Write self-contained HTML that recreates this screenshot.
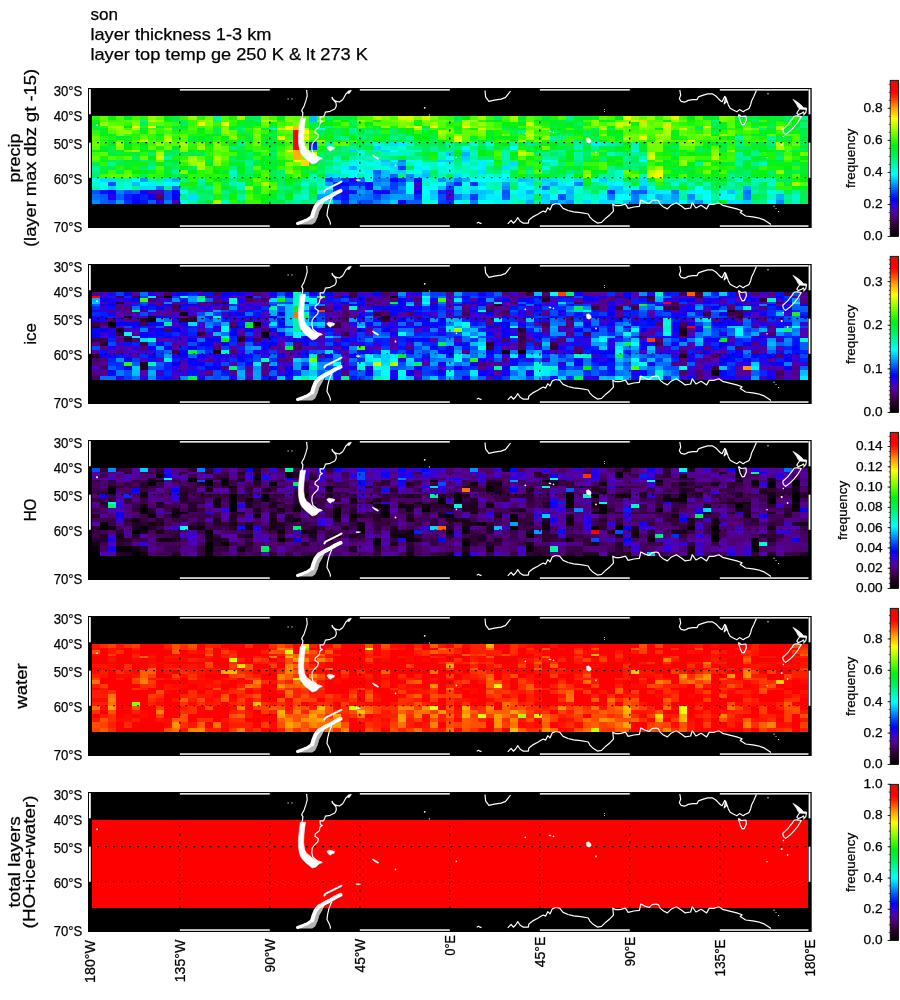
<!DOCTYPE html><html><head><meta charset="utf-8"><style>html,body{margin:0;padding:0;background:#fff;}body{width:900px;height:1000px;overflow:hidden;}svg{display:block;will-change:transform}text{font-family:"Liberation Sans",sans-serif;fill:#000;stroke:#000;stroke-width:0.25px}</style></head><body>
<svg width="900" height="1000" viewBox="0 0 900 1000">
<defs><linearGradient id="cg" x1="0" y1="1" x2="0" y2="0">
<stop offset="0.000" stop-color="#000000"/>
<stop offset="0.040" stop-color="#190019"/>
<stop offset="0.080" stop-color="#370041"/>
<stop offset="0.120" stop-color="#500073"/>
<stop offset="0.160" stop-color="#5500aa"/>
<stop offset="0.200" stop-color="#2d00e6"/>
<stop offset="0.235" stop-color="#0000ff"/>
<stop offset="0.270" stop-color="#002dff"/>
<stop offset="0.310" stop-color="#006eff"/>
<stop offset="0.360" stop-color="#00beff"/>
<stop offset="0.400" stop-color="#00ffff"/>
<stop offset="0.470" stop-color="#00f5a0"/>
<stop offset="0.520" stop-color="#00f05a"/>
<stop offset="0.580" stop-color="#00f014"/>
<stop offset="0.640" stop-color="#50ff00"/>
<stop offset="0.690" stop-color="#a0ff00"/>
<stop offset="0.755" stop-color="#ffff00"/>
<stop offset="0.790" stop-color="#ffcd00"/>
<stop offset="0.830" stop-color="#ff9600"/>
<stop offset="0.860" stop-color="#ff5f00"/>
<stop offset="0.900" stop-color="#ff1e00"/>
<stop offset="0.930" stop-color="#ff0000"/>
<stop offset="1.000" stop-color="#ff0000"/>
</linearGradient>
<g id="coast"><path fill="none" stroke="#fff" stroke-width="1.2" stroke-linejoin="round" d="M306.6 2.0 L307.2 7.8 L306.0 12.4 L304.1 17.9 L301.7 22.6 L302.9 24.9 L302.5 28.4 L301.5 31.0M349.5 2.5 L345.7 6.2 L344.1 9.3 L342.6 11.7 L339.4 14.0 L335.6 13.2 L332.4 10.9 L332.1 9.3 L333.2 11.7 L336.0 14.8 L336.3 17.9 L334.8 21.0 L330.1 23.3 L325.4 24.1 L324.7 26.4 L323.5 28.8 L320.0 28.8 L320.4 32.7 L322.3 33.4 L320.0 35.0 L319.2 38.9 L315.3 42.0 L314.9 44.3 L318.4 46.7 L317.7 49.8 L314.6 52.9 L312.2 56.0 L311.8 60.7 L313.0 65.3 L317.7 69.2 L321.6 69.9M332.2 109.5 L331.2 110.8 L329.1 116.2 L327.7 121.8 L327.0 127.4 L329.1 131.6 L330.5 135.1 L330.2 136.6M485.0 2.5 L485.6 8.9 L488.9 13.3 L494.4 12.2 L501.1 11.1 L505.6 9.4 L510.6 3.0M476.7 135.2 L478.5 134.3 L480.0 135.2 L481.5 135.6M507.8 135.8 L511.1 132.4 L513.3 135.2 L515.6 133.0 L517.8 129.7 L520.0 133.0 L523.3 135.2 L528.3 135.2 L528.9 131.9 L533.3 128.6 L537.8 126.3 L540.5 124.6 L543.3 123.0 L545.6 124.1 L547.8 119.7 L550.0 121.9 L552.2 116.9 L555.6 115.5 L559.6 116.2 L563.1 120.4 L568.0 122.5 L573.6 123.9 L580.6 124.6 L588.3 126.0 L589.7 128.8 L593.2 132.3 L597.4 135.1 L601.6 134.4 L605.8 130.2 L610.0 126.7 L613.5 123.2 L612.8 116.2 L615.6 117.6 L619.8 117.6 L625.4 116.2 L628.2 120.4 L633.8 119.0 L639.4 118.3 L640.8 112.0 L645.0 114.1 L649.2 115.5 L652.0 112.7 L656.2 112.0 L658.6 112.9 L660.3 116.4 L663.5 119.0 L667.4 120.9 L671.0 117.3 L676.3 114.7 L681.7 118.2 L685.2 120.9 L690.6 120.0 L692.3 114.7 L695.9 120.0 L701.2 117.3 L706.6 120.9 L709.2 116.4 L713.7 116.4 L719.0 114.7 L722.6 117.3 L729.7 119.1 L736.8 120.9 L742.1 122.7 L740.3 124.4 L745.7 128.0 L752.8 128.9 L758.1 129.8 L763.4 131.6 L768.8 135.1 L771.0 136.5M679.8 2.0 L680.7 7.1 L679.3 10.7 L681.1 13.3 L684.7 14.2 L688.2 12.4 L692.7 11.6 L697.1 11.6 L698.4 8.9 L703.3 7.1 L707.8 5.8 L712.2 5.8 L715.8 8.0 L718.4 10.7 L721.1 13.3 L722.1 13.7 L724.7 8.4 L725.5 10.0 L724.2 15.8 L726.5 13.5 L725.6 9.0 L728.4 16.9 L730.0 20.1 L733.7 22.2 L736.9 23.7 L739.5 21.6 L743.2 23.7 L745.3 22.2 L749.0 20.6 L750.6 16.9 L751.7 12.7 L753.8 8.4 L756.4 2.5M738.5 26.4 L741.1 28.5 L745.9 28.0 L746.4 31.7 L744.3 36.4 L742.2 36.9 L740.1 32.7 L739.0 28.5 L738.5 26.4M800.0 20.5 L798.1 23.0 L796.8 25.2 L798.1 26.6 L801.7 25.2 L803.4 23.9 L804.3 26.1 L803.4 27.4M806.5 21.0 L805.7 24.8 L804.3 26.1M794.4 28.0 L797.5 27.8 L801.3 28.5 L798.1 33.8 L793.9 39.1 L789.7 43.3 L785.4 46.4 L783.3 44.3 L782.8 41.2 L787.6 36.9 L791.8 31.7 L794.4 28.0"/><path fill="#fff" stroke="#fff" stroke-width="0.5" d="M300.2 30.5 L299.2 38.9 L298.4 46.7 L298.4 54.4 L299.3 60.7 L300.8 65.0 L302.9 67.7 L305.5 70.5 L308.3 72.8 L312.2 76.0 L316.1 74.9 L319.2 71.8 L322.5 70.6 L319.5 69.4 L317.2 69.0 L314.6 67.7 L311.4 65.3 L309.6 63.2 L306.8 61.4 L304.6 57.5 L303.6 50.6 L304.0 42.8 L304.8 35.0 L305.7 30.3 ZM347.5 5.0 L350.5 2.0 L351.5 2.6 L349.0 5.8 ZM326.8 59.5 L328.5 58.2 L331.5 58.6 L334.8 59.4 L334.0 61.2 L331.5 62.0 L330.5 63.3 L328.0 61.6 ZM372.2 67.0 L373.5 67.2 L377.5 69.5 L378.8 70.8 L377.8 71.3 L374.0 69.3 ZM355.8 92.0 L358.0 91.6 L360.6 92.0 L358.0 92.9 ZM586.4 50.5 L588.5 49.7 L590.8 51.5 L591.2 53.8 L589.0 55.2 L586.8 54.2 ZM792.8 11.2 L796.0 13.0 L799.0 15.2 L801.8 17.6 L803.5 19.6 L806.8 20.0 L806.6 21.6 L803.0 21.6 L799.4 21.0 L797.8 19.0 L796.5 16.5 L794.6 13.8 Z"/><path fill="#fff" fill-opacity="0.7" d="M322.5 111.5 L317.8 116.2 L313.6 121.8 L311.2 128.8 L308.0 133.0 L301.0 135.1 L297.0 135.8 L300.0 136.6 L312.2 136.6 L315.2 134.4 L317.8 128.8 L319.4 123.2 L322.2 118.6 L324.8 113.0 Z"/><path fill="none" stroke="#fff" stroke-width="2.0" stroke-linecap="round" stroke-linejoin="round" d="M341.5 93.6 L338.2 95.4 L331.2 98.9 L325.6 101.7 L324.4 103.4"/><path fill="none" stroke="#fff" stroke-width="4.0" stroke-linecap="round" stroke-linejoin="round" d="M340.6 102.8 L335.4 105.2 L329.8 108.6 L324.2 111.4 L318.8 114.4 L315.6 118.4 L313.6 123.4 L312.2 128.4"/><path fill="none" stroke="#fff" stroke-width="3.2" stroke-linecap="round" stroke-linejoin="round" d="M312.2 128.4 L307.4 131.8 L301.8 133.9 L297.6 135.4"/><circle cx="288.1" cy="10.9" r="0.6" fill="#fff"/><circle cx="292.0" cy="10.9" r="0.6" fill="#fff"/><circle cx="395.5" cy="77.5" r="0.9" fill="#fff"/><circle cx="424.7" cy="19.8" r="0.9" fill="#fff"/><circle cx="429.4" cy="26.9" r="0.6" fill="#fff"/><circle cx="456.4" cy="69.4" r="0.8" fill="#fff"/><circle cx="525.3" cy="45.3" r="0.9" fill="#fff"/><circle cx="549.4" cy="43.3" r="0.8" fill="#fff"/><circle cx="550.5" cy="43.6" r="0.8" fill="#fff"/><circle cx="553.5" cy="44.4" r="0.8" fill="#fff"/><circle cx="596.0" cy="64.4" r="0.9" fill="#fff"/><circle cx="604.4" cy="21.5" r="0.5" fill="#fff"/><circle cx="604.4" cy="23.6" r="0.5" fill="#fff"/><circle cx="768.0" cy="5.8" r="0.7" fill="#fff"/><circle cx="781.7" cy="57.0" r="1.1" fill="#fff"/><circle cx="787.6" cy="63.0" r="0.9" fill="#fff"/><circle cx="767.0" cy="69.7" r="0.8" fill="#fff"/><circle cx="783.3" cy="48.6" r="0.8" fill="#fff"/><circle cx="97.0" cy="37.2" r="1.0" fill="#fff"/><circle cx="774.1" cy="118.2" r="0.6" fill="#fff"/><circle cx="776.0" cy="120.5" r="0.5" fill="#fff"/><circle cx="778.6" cy="123.6" r="0.7" fill="#fff"/></g>
</defs>
<text x="90.4" y="19.9" font-size="16.3" textLength="27.5" lengthAdjust="spacingAndGlyphs">son</text>
<text x="90.4" y="40.0" font-size="16.3" textLength="181" lengthAdjust="spacingAndGlyphs">layer thickness 1-3 km</text>
<text x="90.4" y="59.8" font-size="16.3" textLength="277.5" lengthAdjust="spacingAndGlyphs">layer top temp ge 250 K &amp; lt 273 K</text>
<g transform="translate(0,88)">
<rect x="88" y="0" width="723.70" height="140" fill="#000"/>
<g shape-rendering="crispEdges" transform="translate(92.00,0) scale(8.0416,1)">
<path fill="#28f80a" d="M0 28.0h1v4.1h-1zM6 28.0h1v4.1h-1zM13 28.0h1v4.1h-1zM48 32.0h1v2.1h-1zM51 32.0h1v2.1h-1zM75 32.0h1v2.1h-1zM17 34.0h1v4.1h-1zM45 34.0h1v4.1h-1zM55 34.0h1v4.1h-1zM73 34.0h1v4.1h-1zM86 34.0h1v4.1h-1zM1 38.0h1v2.1h-1zM6 38.0h1v2.1h-1zM20 38.0h1v2.1h-1zM26 38.0h1v2.1h-1zM31 38.0h1v2.1h-1zM34 38.0h1v2.1h-1zM56 38.0h1v2.1h-1zM19 40.0h1v2.1h-1zM43 40.0h1v2.1h-1zM79 40.0h1v2.1h-1zM8 42.0h1v4.1h-1zM11 42.0h1v4.1h-1zM36 42.0h1v4.1h-1zM51 42.0h1v4.1h-1zM75 42.0h1v4.1h-1zM78 42.0h1v4.1h-1zM80 42.0h1v4.1h-1zM82 42.0h1v4.1h-1zM53 46.0h1v2.1h-1zM81 46.0h1v2.1h-1zM1 48.0h1v4.1h-1zM5 48.0h1v4.1h-1zM10 48.0h1v4.1h-1zM15 48.0h1v4.1h-1zM55 48.0h1v4.1h-1zM60 48.0h1v4.1h-1zM63 48.0h1v4.1h-1zM82 48.0h1v4.1h-1zM1 52.0h1v2.1h-1zM31 52.0h1v2.1h-1zM44 52.0h1v2.1h-1zM47 52.0h1v2.1h-1zM58 52.0h1v2.1h-1zM75 52.0h1v2.1h-1zM81 52.0h1v2.1h-1zM1 54.0h1v4.1h-1zM5 54.0h1v4.1h-1zM16 54.0h1v4.1h-1zM19 54.0h1v4.1h-1zM79 54.0h1v4.1h-1zM81 54.0h1v4.1h-1zM86 54.0h1v4.1h-1zM12 58.0h1v4.1h-1zM19 58.0h1v4.1h-1zM23 58.0h1v4.1h-1zM87 58.0h1v4.1h-1zM63 62.0h1v2.1h-1zM74 62.0h1v2.1h-1zM86 62.0h1v2.1h-1zM6 64.0h1v4.1h-1zM14 64.0h1v4.1h-1zM83 64.0h1v4.1h-1zM11 68.0h1v4.1h-1zM55 68.0h1v4.1h-1zM71 68.0h1v4.1h-1zM78 68.0h1v4.1h-1zM87 68.0h1v4.1h-1zM54 72.0h1v2.1h-1zM77 72.0h1v2.1h-1zM1 74.0h1v4.1h-1zM11 74.0h1v4.1h-1zM16 74.0h1v4.1h-1zM59 74.0h1v4.1h-1zM3 78.0h1v4.1h-1zM27 78.0h1v4.1h-1zM55 78.0h1v4.1h-1zM76 78.0h1v4.1h-1zM79 78.0h1v4.1h-1zM13 82.0h1v4.1h-1zM67 82.0h1v4.1h-1zM5 86.0h1v4.1h-1zM8 86.0h1v4.1h-1zM12 86.0h2v4.1h-2zM15 86.0h1v4.1h-1zM12 90.0h1v4.1h-1zM14 90.0h1v4.1h-1zM21 90.0h1v4.1h-1zM70 94.0h1v4.1h-1zM85 98.0h2v4.1h-2zM19 102.0h1v4.1h-1zM17 112.0h1v4.1h-1z"/>
<path fill="#60ff00" d="M1 28.0h1v4.1h-1zM8 28.0h1v4.1h-1zM25 28.0h1v4.1h-1zM63 28.0h1v4.1h-1zM68 28.0h1v4.1h-1zM1 32.0h1v2.1h-1zM42 32.0h1v2.1h-1zM44 32.0h1v2.1h-1zM54 32.0h1v2.1h-1zM73 32.0h1v2.1h-1zM2 34.0h1v4.1h-1zM7 34.0h1v4.1h-1zM35 34.0h1v4.1h-1zM41 34.0h1v4.1h-1zM47 34.0h1v4.1h-1zM49 34.0h1v4.1h-1zM69 34.0h1v4.1h-1zM23 38.0h1v2.1h-1zM48 38.0h1v2.1h-1zM61 38.0h1v2.1h-1zM70 38.0h1v2.1h-1zM72 38.0h2v2.1h-2zM79 38.0h1v2.1h-1zM44 40.0h1v2.1h-1zM54 40.0h2v2.1h-2zM65 40.0h2v2.1h-2zM69 40.0h1v2.1h-1zM17 42.0h1v4.1h-1zM20 42.0h1v4.1h-1zM24 42.0h1v4.1h-1zM46 42.0h2v4.1h-2zM66 42.0h1v4.1h-1zM70 42.0h1v4.1h-1zM73 42.0h1v4.1h-1zM76 42.0h1v4.1h-1zM16 46.0h2v2.1h-2zM46 46.0h1v2.1h-1zM55 46.0h1v2.1h-1zM66 46.0h1v2.1h-1zM74 46.0h1v2.1h-1zM84 46.0h1v2.1h-1zM86 46.0h1v2.1h-1zM11 48.0h1v4.1h-1zM46 48.0h1v4.1h-1zM75 48.0h1v4.1h-1zM5 52.0h1v2.1h-1zM67 52.0h1v2.1h-1zM73 52.0h1v2.1h-1zM31 54.0h1v4.1h-1zM87 54.0h1v4.1h-1zM0 58.0h1v4.1h-1zM7 58.0h1v4.1h-1zM16 58.0h1v4.1h-1zM77 58.0h1v4.1h-1zM8 62.0h1v2.1h-1zM21 62.0h1v2.1h-1zM69 62.0h1v2.1h-1zM1 64.0h1v4.1h-1zM15 64.0h1v4.1h-1zM0 68.0h1v4.1h-1zM4 68.0h1v4.1h-1zM16 68.0h1v4.1h-1zM27 68.0h1v4.1h-1zM73 68.0h2v4.1h-2zM8 72.0h1v2.1h-1zM11 72.0h1v2.1h-1zM20 78.0h1v4.1h-1zM24 78.0h1v4.1h-1zM69 78.0h1v4.1h-1zM55 82.0h1v4.1h-1zM21 86.0h1v4.1h-1zM25 86.0h1v4.1h-1zM20 90.0h1v4.1h-1zM70 90.0h1v4.1h-1zM21 98.0h2v4.1h-2z"/>
<path fill="#0df211" d="M2 28.0h1v4.1h-1zM62 28.0h1v4.1h-1zM0 32.0h1v2.1h-1zM9 32.0h1v2.1h-1zM18 32.0h1v2.1h-1zM35 32.0h1v2.1h-1zM40 32.0h1v2.1h-1zM55 32.0h2v2.1h-2zM64 32.0h1v2.1h-1zM74 32.0h1v2.1h-1zM85 32.0h1v2.1h-1zM22 34.0h1v4.1h-1zM30 34.0h1v4.1h-1zM40 34.0h1v4.1h-1zM52 34.0h1v4.1h-1zM67 34.0h1v4.1h-1zM78 34.0h1v4.1h-1zM82 34.0h1v4.1h-1zM17 38.0h1v2.1h-1zM19 38.0h1v2.1h-1zM45 38.0h1v2.1h-1zM86 38.0h1v2.1h-1zM27 40.0h1v2.1h-1zM47 40.0h1v2.1h-1zM13 42.0h1v4.1h-1zM31 42.0h1v4.1h-1zM72 42.0h1v4.1h-1zM87 42.0h1v4.1h-1zM29 46.0h1v2.1h-1zM41 46.0h1v2.1h-1zM60 46.0h1v2.1h-1zM85 46.0h1v2.1h-1zM21 48.0h1v4.1h-1zM28 48.0h1v4.1h-1zM50 48.0h1v4.1h-1zM61 48.0h1v4.1h-1zM72 48.0h1v4.1h-1zM16 52.0h1v2.1h-1zM33 52.0h1v2.1h-1zM61 52.0h1v2.1h-1zM85 52.0h1v2.1h-1zM23 54.0h1v4.1h-1zM50 54.0h1v4.1h-1zM56 54.0h1v4.1h-1zM28 58.0h1v4.1h-1zM66 58.0h1v4.1h-1zM82 58.0h1v4.1h-1zM13 62.0h1v2.1h-1zM71 62.0h1v2.1h-1zM4 64.0h1v4.1h-1zM42 64.0h1v4.1h-1zM49 64.0h1v4.1h-1zM71 64.0h1v4.1h-1zM75 64.0h2v4.1h-2zM87 64.0h1v4.1h-1zM54 68.0h1v4.1h-1zM1 72.0h1v2.1h-1zM23 72.0h1v2.1h-1zM53 72.0h1v2.1h-1zM76 72.0h1v2.1h-1zM5 74.0h2v4.1h-2zM8 74.0h1v4.1h-1zM23 74.0h1v4.1h-1zM64 74.0h1v4.1h-1zM70 74.0h1v4.1h-1zM72 74.0h1v4.1h-1zM77 74.0h1v4.1h-1zM84 74.0h1v4.1h-1zM86 74.0h1v4.1h-1zM4 78.0h1v4.1h-1zM15 78.0h1v4.1h-1zM61 78.0h1v4.1h-1zM71 78.0h1v4.1h-1zM7 82.0h1v4.1h-1zM82 82.0h2v4.1h-2zM26 86.0h1v4.1h-1zM53 86.0h1v4.1h-1zM19 90.0h1v4.1h-1zM61 90.0h1v4.1h-1zM11 94.0h2v4.1h-2zM73 98.0h1v4.1h-1zM87 98.0h1v4.1h-1zM22 102.0h1v4.1h-1zM17 106.0h1v6.1h-1z"/>
<path fill="#50ff00" d="M3 28.0h1v4.1h-1zM16 28.0h1v4.1h-1zM34 28.0h1v4.1h-1zM37 28.0h1v4.1h-1zM47 28.0h1v4.1h-1zM54 28.0h1v4.1h-1zM58 28.0h1v4.1h-1zM75 28.0h1v4.1h-1zM4 32.0h1v2.1h-1zM34 32.0h1v2.1h-1zM36 32.0h1v2.1h-1zM65 32.0h1v2.1h-1zM69 32.0h2v2.1h-2zM79 32.0h1v2.1h-1zM3 34.0h1v4.1h-1zM8 34.0h1v4.1h-1zM24 34.0h1v4.1h-1zM31 34.0h1v4.1h-1zM36 34.0h2v4.1h-2zM43 34.0h1v4.1h-1zM76 34.0h1v4.1h-1zM79 34.0h1v4.1h-1zM14 38.0h1v2.1h-1zM21 38.0h1v2.1h-1zM43 38.0h1v2.1h-1zM49 38.0h1v2.1h-1zM62 38.0h1v2.1h-1zM66 38.0h1v2.1h-1zM74 38.0h1v2.1h-1zM81 38.0h1v2.1h-1zM83 38.0h1v2.1h-1zM12 40.0h1v2.1h-1zM14 40.0h1v2.1h-1zM50 40.0h1v2.1h-1zM72 40.0h1v2.1h-1zM2 42.0h1v4.1h-1zM23 42.0h1v4.1h-1zM27 42.0h1v4.1h-1zM68 42.0h2v4.1h-2zM11 46.0h1v2.1h-1zM47 46.0h1v2.1h-1zM87 46.0h1v2.1h-1zM27 48.0h1v4.1h-1zM74 48.0h1v4.1h-1zM77 48.0h1v4.1h-1zM81 48.0h1v4.1h-1zM87 48.0h1v4.1h-1zM0 52.0h1v2.1h-1zM3 52.0h1v2.1h-1zM7 52.0h1v2.1h-1zM10 52.0h2v2.1h-2zM46 52.0h1v2.1h-1zM71 52.0h2v2.1h-2zM9 54.0h2v4.1h-2zM30 54.0h1v4.1h-1zM75 54.0h1v4.1h-1zM73 58.0h2v4.1h-2zM86 58.0h1v4.1h-1zM15 62.0h1v2.1h-1zM23 64.0h1v4.1h-1zM50 64.0h1v4.1h-1zM62 64.0h1v4.1h-1zM2 68.0h1v4.1h-1zM13 68.0h1v4.1h-1zM53 68.0h1v4.1h-1zM63 74.0h1v4.1h-1zM8 78.0h1v4.1h-1zM63 78.0h1v4.1h-1zM4 82.0h1v4.1h-1zM2 86.0h2v4.1h-2zM73 86.0h1v4.1h-1zM87 86.0h1v4.1h-1zM88 94.0h1v4.1h-1zM15 98.0h1v4.1h-1zM15 102.0h1v4.1h-1zM21 102.0h1v4.1h-1zM19 106.0h1v6.1h-1z"/>
<path fill="#00f020" d="M4 28.0h1v4.1h-1zM23 28.0h1v4.1h-1zM53 28.0h1v4.1h-1zM61 28.0h1v4.1h-1zM77 28.0h1v4.1h-1zM83 28.0h1v4.1h-1zM57 32.0h1v2.1h-1zM71 32.0h1v2.1h-1zM0 34.0h1v4.1h-1zM20 34.0h1v4.1h-1zM28 34.0h1v4.1h-1zM51 34.0h1v4.1h-1zM57 34.0h1v4.1h-1zM80 34.0h1v4.1h-1zM83 34.0h1v4.1h-1zM41 38.0h1v2.1h-1zM58 38.0h1v2.1h-1zM1 40.0h1v2.1h-1zM13 40.0h1v2.1h-1zM29 40.0h1v2.1h-1zM39 40.0h1v2.1h-1zM45 40.0h1v2.1h-1zM70 40.0h1v2.1h-1zM6 42.0h1v4.1h-1zM42 42.0h1v4.1h-1zM58 42.0h1v4.1h-1zM84 42.0h1v4.1h-1zM1 46.0h1v2.1h-1zM8 46.0h1v2.1h-1zM18 46.0h1v2.1h-1zM40 46.0h1v2.1h-1zM72 46.0h1v2.1h-1zM16 48.0h1v4.1h-1zM29 48.0h1v4.1h-1zM36 48.0h1v4.1h-1zM51 48.0h2v4.1h-2zM79 48.0h1v4.1h-1zM2 52.0h1v2.1h-1zM4 52.0h1v2.1h-1zM19 52.0h1v2.1h-1zM41 52.0h1v2.1h-1zM48 52.0h1v2.1h-1zM63 52.0h1v2.1h-1zM86 52.0h1v2.1h-1zM22 54.0h1v4.1h-1zM68 54.0h1v4.1h-1zM76 54.0h2v4.1h-2zM1 58.0h1v4.1h-1zM6 58.0h1v4.1h-1zM10 58.0h1v4.1h-1zM55 58.0h1v4.1h-1zM65 58.0h1v4.1h-1zM1 62.0h1v2.1h-1zM6 62.0h1v2.1h-1zM12 62.0h1v2.1h-1zM19 62.0h1v2.1h-1zM54 62.0h1v2.1h-1zM59 62.0h1v2.1h-1zM68 62.0h1v2.1h-1zM73 62.0h1v2.1h-1zM81 62.0h1v2.1h-1zM59 64.0h1v4.1h-1zM18 68.0h1v4.1h-1zM21 68.0h1v4.1h-1zM52 68.0h1v4.1h-1zM64 68.0h2v4.1h-2zM72 68.0h1v4.1h-1zM82 68.0h1v4.1h-1zM9 72.0h1v2.1h-1zM58 72.0h1v2.1h-1zM62 72.0h1v2.1h-1zM71 72.0h1v2.1h-1zM87 72.0h1v2.1h-1zM14 74.0h1v4.1h-1zM17 74.0h1v4.1h-1zM21 74.0h2v4.1h-2zM27 74.0h1v4.1h-1zM65 74.0h1v4.1h-1zM74 74.0h1v4.1h-1zM85 74.0h1v4.1h-1zM88 74.0h1v4.1h-1zM21 78.0h1v4.1h-1zM26 78.0h1v4.1h-1zM16 82.0h1v4.1h-1zM18 82.0h1v4.1h-1zM63 82.0h1v4.1h-1zM72 82.0h1v4.1h-1zM74 82.0h1v4.1h-1zM9 86.0h1v4.1h-1zM72 86.0h1v4.1h-1zM77 86.0h1v4.1h-1zM82 86.0h2v4.1h-2zM69 90.0h1v4.1h-1zM78 90.0h1v4.1h-1zM19 94.0h1v4.1h-1zM61 94.0h1v4.1h-1zM88 98.0h1v4.1h-1zM20 102.0h1v4.1h-1zM27 102.0h1v4.1h-1zM21 112.0h1v4.1h-1zM78 112.0h1v4.1h-1z"/>
<path fill="#43fc03" d="M5 28.0h1v4.1h-1zM22 28.0h1v4.1h-1zM26 28.0h1v4.1h-1zM33 28.0h1v4.1h-1zM43 28.0h1v4.1h-1zM51 28.0h1v4.1h-1zM64 28.0h1v4.1h-1zM73 28.0h1v4.1h-1zM3 32.0h1v2.1h-1zM16 32.0h2v2.1h-2zM30 32.0h1v2.1h-1zM61 32.0h1v2.1h-1zM76 32.0h1v2.1h-1zM83 32.0h1v2.1h-1zM9 34.0h1v4.1h-1zM23 34.0h1v4.1h-1zM33 34.0h1v4.1h-1zM63 34.0h1v4.1h-1zM72 34.0h1v4.1h-1zM12 38.0h2v2.1h-2zM53 38.0h1v2.1h-1zM4 40.0h1v2.1h-1zM7 40.0h1v2.1h-1zM42 40.0h1v2.1h-1zM46 40.0h1v2.1h-1zM59 40.0h1v2.1h-1zM74 40.0h1v2.1h-1zM5 42.0h1v4.1h-1zM9 42.0h1v4.1h-1zM56 42.0h1v4.1h-1zM67 42.0h1v4.1h-1zM74 42.0h1v4.1h-1zM81 42.0h1v4.1h-1zM0 46.0h1v2.1h-1zM4 46.0h1v2.1h-1zM6 46.0h1v2.1h-1zM10 46.0h1v2.1h-1zM27 46.0h1v2.1h-1zM44 46.0h1v2.1h-1zM56 46.0h1v2.1h-1zM69 46.0h1v2.1h-1zM24 48.0h1v4.1h-1zM48 48.0h1v4.1h-1zM53 48.0h1v4.1h-1zM76 48.0h1v4.1h-1zM32 52.0h1v2.1h-1zM51 52.0h1v2.1h-1zM68 52.0h1v2.1h-1zM78 52.0h1v2.1h-1zM82 52.0h2v2.1h-2zM87 52.0h1v2.1h-1zM7 54.0h1v4.1h-1zM28 54.0h1v4.1h-1zM20 62.0h1v2.1h-1zM0 64.0h1v4.1h-1zM16 64.0h2v4.1h-2zM86 64.0h1v4.1h-1zM79 68.0h1v4.1h-1zM0 72.0h1v2.1h-1zM16 72.0h1v2.1h-1zM74 72.0h1v2.1h-1zM78 72.0h1v2.1h-1zM14 78.0h1v4.1h-1zM77 78.0h1v4.1h-1zM2 82.0h1v4.1h-1zM14 82.0h1v4.1h-1zM21 82.0h1v4.1h-1zM25 82.0h1v4.1h-1zM78 82.0h1v4.1h-1zM1 86.0h1v4.1h-1zM66 86.0h1v4.1h-1zM15 94.0h1v4.1h-1zM22 94.0h1v4.1h-1zM85 94.0h1v4.1h-1z"/>
<path fill="#90ff00" d="M7 28.0h1v4.1h-1zM12 28.0h1v4.1h-1zM67 28.0h1v4.1h-1zM69 28.0h1v4.1h-1zM8 32.0h1v2.1h-1zM13 32.0h2v2.1h-2zM22 32.0h1v2.1h-1zM33 32.0h1v2.1h-1zM38 32.0h1v2.1h-1zM52 32.0h1v2.1h-1zM62 32.0h1v2.1h-1zM72 32.0h1v2.1h-1zM1 34.0h1v4.1h-1zM62 34.0h1v4.1h-1zM36 38.0h1v2.1h-1zM47 38.0h1v2.1h-1zM55 38.0h1v2.1h-1zM63 38.0h1v2.1h-1zM3 40.0h1v2.1h-1zM20 40.0h1v2.1h-1zM56 40.0h1v2.1h-1zM81 40.0h1v2.1h-1zM4 42.0h1v4.1h-1zM16 42.0h1v4.1h-1zM43 46.0h1v2.1h-1zM68 46.0h1v2.1h-1zM17 48.0h1v4.1h-1zM56 48.0h1v4.1h-1zM28 52.0h1v2.1h-1zM3 54.0h1v4.1h-1zM8 54.0h1v4.1h-1zM11 58.0h1v4.1h-1zM53 62.0h1v2.1h-1zM79 62.0h1v2.1h-1zM54 64.0h1v4.1h-1zM77 64.0h1v4.1h-1zM15 72.0h1v2.1h-1zM73 72.0h1v2.1h-1zM12 74.0h1v4.1h-1zM15 74.0h1v4.1h-1zM73 74.0h1v4.1h-1zM85 82.0h1v4.1h-1zM19 98.0h1v4.1h-1z"/>
<path fill="#00f014" d="M9 28.0h1v4.1h-1zM46 28.0h1v4.1h-1zM65 28.0h1v4.1h-1zM74 28.0h1v4.1h-1zM29 32.0h1v2.1h-1zM31 32.0h1v2.1h-1zM50 32.0h1v2.1h-1zM63 32.0h1v2.1h-1zM80 32.0h2v2.1h-2zM87 32.0h1v2.1h-1zM29 34.0h1v4.1h-1zM34 34.0h1v4.1h-1zM53 34.0h1v4.1h-1zM59 34.0h1v4.1h-1zM87 34.0h1v4.1h-1zM4 38.0h1v2.1h-1zM11 38.0h1v2.1h-1zM52 38.0h1v2.1h-1zM64 38.0h1v2.1h-1zM80 38.0h1v2.1h-1zM57 40.0h2v2.1h-2zM39 42.0h1v4.1h-1zM60 42.0h1v4.1h-1zM64 42.0h2v4.1h-2zM83 42.0h1v4.1h-1zM14 46.0h2v2.1h-2zM77 46.0h1v2.1h-1zM13 48.0h1v4.1h-1zM32 48.0h1v4.1h-1zM40 48.0h2v4.1h-2zM49 48.0h1v4.1h-1zM14 52.0h1v2.1h-1zM35 52.0h1v2.1h-1zM2 54.0h1v4.1h-1zM4 54.0h1v4.1h-1zM6 54.0h1v4.1h-1zM14 54.0h1v4.1h-1zM17 54.0h1v4.1h-1zM51 54.0h1v4.1h-1zM57 54.0h1v4.1h-1zM66 54.0h1v4.1h-1zM4 58.0h1v4.1h-1zM76 58.0h1v4.1h-1zM17 62.0h1v2.1h-1zM48 62.0h1v2.1h-1zM72 62.0h1v2.1h-1zM83 62.0h2v2.1h-2zM45 64.0h1v4.1h-1zM48 64.0h1v4.1h-1zM52 64.0h1v4.1h-1zM74 64.0h1v4.1h-1zM7 68.0h1v4.1h-1zM59 68.0h1v4.1h-1zM88 68.0h1v4.1h-1zM21 72.0h1v2.1h-1zM27 72.0h1v2.1h-1zM64 72.0h1v2.1h-1zM71 74.0h1v4.1h-1zM11 78.0h1v4.1h-1zM18 78.0h1v4.1h-1zM86 78.0h1v4.1h-1zM5 82.0h2v4.1h-2zM12 82.0h1v4.1h-1zM15 82.0h1v4.1h-1zM62 82.0h1v4.1h-1zM77 82.0h1v4.1h-1zM20 86.0h1v4.1h-1zM56 86.0h1v4.1h-1zM60 86.0h1v4.1h-1zM88 86.0h1v4.1h-1zM15 90.0h1v4.1h-1zM24 90.0h1v4.1h-1zM88 90.0h1v4.1h-1zM24 94.0h1v4.1h-1zM21 106.0h1v6.1h-1zM24 106.0h1v6.1h-1z"/>
<path fill="#00f043" d="M10 28.0h1v4.1h-1zM31 28.0h1v4.1h-1zM45 28.0h1v4.1h-1zM10 32.0h1v2.1h-1zM53 32.0h1v2.1h-1zM0 38.0h1v2.1h-1zM10 38.0h1v2.1h-1zM57 38.0h1v2.1h-1zM75 38.0h1v2.1h-1zM78 38.0h1v2.1h-1zM18 42.0h1v4.1h-1zM52 42.0h1v4.1h-1zM77 42.0h1v4.1h-1zM86 42.0h1v4.1h-1zM22 46.0h1v2.1h-1zM34 46.0h2v2.1h-2zM42 48.0h1v4.1h-1zM86 48.0h1v4.1h-1zM22 52.0h1v2.1h-1zM29 52.0h1v2.1h-1zM36 52.0h1v2.1h-1zM38 52.0h1v2.1h-1zM33 54.0h1v4.1h-1zM53 54.0h1v4.1h-1zM82 54.0h1v4.1h-1zM2 58.0h1v4.1h-1zM18 58.0h1v4.1h-1zM30 58.0h1v4.1h-1zM48 58.0h1v4.1h-1zM50 58.0h1v4.1h-1zM54 58.0h1v4.1h-1zM63 58.0h1v4.1h-1zM78 58.0h1v4.1h-1zM41 62.0h1v2.1h-1zM49 62.0h1v2.1h-1zM55 62.0h2v2.1h-2zM60 62.0h1v2.1h-1zM76 62.0h1v2.1h-1zM5 64.0h1v4.1h-1zM11 64.0h2v4.1h-2zM22 68.0h1v4.1h-1zM3 74.0h2v4.1h-2zM2 78.0h1v4.1h-1zM58 78.0h1v4.1h-1zM68 78.0h1v4.1h-1zM82 78.0h1v4.1h-1zM3 82.0h1v4.1h-1zM57 82.0h1v4.1h-1zM22 86.0h1v4.1h-1zM52 86.0h1v4.1h-1zM23 90.0h1v4.1h-1zM66 90.0h1v4.1h-1zM77 90.0h1v4.1h-1zM75 94.0h1v4.1h-1zM86 102.0h1v4.1h-1zM82 106.0h1v6.1h-1z"/>
<path fill="#35fa07" d="M11 28.0h1v4.1h-1zM28 28.0h1v4.1h-1zM44 28.0h1v4.1h-1zM49 28.0h1v4.1h-1zM55 28.0h1v4.1h-1zM70 28.0h1v4.1h-1zM2 32.0h1v2.1h-1zM12 32.0h1v2.1h-1zM26 32.0h1v2.1h-1zM4 34.0h1v4.1h-1zM10 34.0h1v4.1h-1zM12 34.0h1v4.1h-1zM15 34.0h1v4.1h-1zM26 34.0h1v4.1h-1zM50 34.0h1v4.1h-1zM75 34.0h1v4.1h-1zM81 34.0h1v4.1h-1zM85 34.0h1v4.1h-1zM9 38.0h1v2.1h-1zM30 38.0h1v2.1h-1zM44 38.0h1v2.1h-1zM50 38.0h1v2.1h-1zM67 38.0h1v2.1h-1zM8 40.0h1v2.1h-1zM61 40.0h1v2.1h-1zM67 40.0h1v2.1h-1zM0 42.0h1v4.1h-1zM12 42.0h1v4.1h-1zM14 42.0h1v4.1h-1zM21 42.0h1v4.1h-1zM40 42.0h1v4.1h-1zM55 42.0h1v4.1h-1zM63 42.0h1v4.1h-1zM85 42.0h1v4.1h-1zM7 46.0h1v2.1h-1zM23 46.0h2v2.1h-2zM7 48.0h1v4.1h-1zM44 48.0h1v4.1h-1zM59 48.0h1v4.1h-1zM64 48.0h1v4.1h-1zM69 48.0h1v4.1h-1zM8 52.0h1v2.1h-1zM15 52.0h1v2.1h-1zM50 52.0h1v2.1h-1zM59 52.0h1v2.1h-1zM64 52.0h1v2.1h-1zM77 52.0h1v2.1h-1zM79 52.0h1v2.1h-1zM12 54.0h1v4.1h-1zM24 54.0h1v4.1h-1zM5 58.0h1v4.1h-1zM20 58.0h1v4.1h-1zM79 58.0h1v4.1h-1zM23 62.0h1v2.1h-1zM27 62.0h1v2.1h-1zM50 62.0h1v2.1h-1zM21 64.0h1v4.1h-1zM79 64.0h1v4.1h-1zM3 68.0h1v4.1h-1zM20 68.0h1v4.1h-1zM23 68.0h1v4.1h-1zM50 68.0h1v4.1h-1zM70 68.0h1v4.1h-1zM75 68.0h2v4.1h-2zM79 72.0h1v2.1h-1zM86 72.0h1v2.1h-1zM88 72.0h1v2.1h-1zM54 74.0h2v4.1h-2zM61 74.0h2v4.1h-2zM69 74.0h1v4.1h-1zM23 78.0h1v4.1h-1zM83 78.0h1v4.1h-1zM87 78.0h1v4.1h-1zM8 82.0h1v4.1h-1zM53 82.0h1v4.1h-1zM71 82.0h1v4.1h-1zM7 86.0h1v4.1h-1zM20 94.0h1v4.1h-1zM19 112.0h2v4.1h-2z"/>
<path fill="#70ff00" d="M14 28.0h1v4.1h-1zM21 28.0h1v4.1h-1zM24 28.0h1v4.1h-1zM79 28.0h1v4.1h-1zM5 32.0h1v2.1h-1zM25 32.0h1v2.1h-1zM37 32.0h1v2.1h-1zM43 32.0h1v2.1h-1zM21 34.0h1v4.1h-1zM39 34.0h1v4.1h-1zM64 34.0h1v4.1h-1zM70 34.0h1v4.1h-1zM16 38.0h1v2.1h-1zM33 38.0h1v2.1h-1zM38 38.0h1v2.1h-1zM54 38.0h1v2.1h-1zM69 38.0h1v2.1h-1zM2 40.0h1v2.1h-1zM49 40.0h1v2.1h-1zM68 40.0h1v2.1h-1zM76 40.0h1v2.1h-1zM82 40.0h1v2.1h-1zM7 42.0h1v4.1h-1zM44 42.0h1v4.1h-1zM79 42.0h1v4.1h-1zM3 46.0h1v2.1h-1zM9 46.0h1v2.1h-1zM51 46.0h1v2.1h-1zM67 46.0h1v2.1h-1zM73 46.0h1v2.1h-1zM75 46.0h1v2.1h-1zM79 46.0h1v2.1h-1zM0 48.0h1v4.1h-1zM6 48.0h1v4.1h-1zM20 48.0h1v4.1h-1zM43 48.0h1v4.1h-1zM67 48.0h1v4.1h-1zM20 52.0h1v2.1h-1zM55 52.0h1v2.1h-1zM66 52.0h1v2.1h-1zM0 54.0h1v4.1h-1zM20 54.0h1v4.1h-1zM26 54.0h1v4.1h-1zM70 54.0h1v4.1h-1zM9 58.0h1v4.1h-1zM24 58.0h1v4.1h-1zM56 58.0h1v4.1h-1zM69 58.0h2v4.1h-2zM4 62.0h1v2.1h-1zM11 62.0h1v2.1h-1zM16 62.0h1v2.1h-1zM70 62.0h1v2.1h-1zM88 64.0h1v4.1h-1zM6 68.0h1v4.1h-1zM24 68.0h1v4.1h-1zM86 68.0h1v4.1h-1zM13 72.0h1v2.1h-1zM70 72.0h1v2.1h-1zM25 74.0h1v4.1h-1zM61 82.0h1v4.1h-1zM66 82.0h1v4.1h-1zM76 82.0h1v4.1h-1zM4 86.0h1v4.1h-1zM67 86.0h1v4.1h-1z"/>
<path fill="#00f5a0" d="M15 28.0h1v4.1h-1zM32 40.0h1v2.1h-1zM39 48.0h1v4.1h-1zM84 48.0h1v4.1h-1zM44 54.0h1v4.1h-1zM60 54.0h1v4.1h-1zM64 54.0h1v4.1h-1zM35 62.0h1v2.1h-1zM58 62.0h1v2.1h-1zM60 64.0h1v4.1h-1zM80 64.0h1v4.1h-1zM9 68.0h1v4.1h-1zM32 68.0h1v4.1h-1zM47 68.0h1v4.1h-1zM56 68.0h1v4.1h-1zM60 68.0h1v4.1h-1zM81 68.0h1v4.1h-1zM34 72.0h1v2.1h-1zM51 72.0h1v2.1h-1zM19 74.0h1v4.1h-1zM30 74.0h1v4.1h-1zM51 74.0h1v4.1h-1zM80 74.0h1v4.1h-1zM29 78.0h1v4.1h-1zM45 78.0h1v4.1h-1zM29 82.0h2v4.1h-2zM47 82.0h1v4.1h-1zM64 82.0h1v4.1h-1zM63 86.0h1v4.1h-1zM3 90.0h1v4.1h-1zM7 90.0h1v4.1h-1zM13 90.0h1v4.1h-1zM55 90.0h1v4.1h-1zM69 94.0h1v4.1h-1zM82 102.0h1v4.1h-1zM87 102.0h1v4.1h-1zM18 106.0h1v6.1h-1zM73 106.0h1v6.1h-1zM77 106.0h1v6.1h-1zM25 112.0h1v4.1h-1zM55 112.0h1v4.1h-1z"/>
<path fill="#1bf50d" d="M17 28.0h1v4.1h-1zM57 28.0h1v4.1h-1zM87 28.0h1v4.1h-1zM23 32.0h1v2.1h-1zM44 34.0h1v4.1h-1zM56 34.0h1v4.1h-1zM61 34.0h1v4.1h-1zM74 34.0h1v4.1h-1zM15 38.0h1v2.1h-1zM37 38.0h1v2.1h-1zM80 40.0h1v2.1h-1zM10 42.0h1v4.1h-1zM19 42.0h1v4.1h-1zM45 42.0h1v4.1h-1zM50 42.0h1v4.1h-1zM5 46.0h1v2.1h-1zM12 46.0h2v2.1h-2zM50 46.0h1v2.1h-1zM52 46.0h1v2.1h-1zM2 48.0h1v4.1h-1zM8 48.0h1v4.1h-1zM18 48.0h1v4.1h-1zM35 48.0h1v4.1h-1zM73 48.0h1v4.1h-1zM78 48.0h1v4.1h-1zM83 48.0h1v4.1h-1zM17 52.0h1v2.1h-1zM23 52.0h1v2.1h-1zM27 52.0h1v2.1h-1zM54 52.0h1v2.1h-1zM56 52.0h1v2.1h-1zM65 52.0h1v2.1h-1zM69 52.0h1v2.1h-1zM76 52.0h1v2.1h-1zM59 54.0h1v4.1h-1zM71 54.0h1v4.1h-1zM8 58.0h1v4.1h-1zM14 58.0h1v4.1h-1zM21 58.0h1v4.1h-1zM53 58.0h1v4.1h-1zM14 62.0h1v2.1h-1zM70 64.0h1v4.1h-1zM73 64.0h1v4.1h-1zM78 64.0h1v4.1h-1zM84 64.0h1v4.1h-1zM1 68.0h1v4.1h-1zM10 68.0h1v4.1h-1zM14 68.0h1v4.1h-1zM42 68.0h1v4.1h-1zM62 68.0h1v4.1h-1zM84 68.0h1v4.1h-1zM24 72.0h1v2.1h-1zM65 72.0h1v2.1h-1zM69 72.0h1v2.1h-1zM72 72.0h1v2.1h-1zM50 74.0h1v4.1h-1zM5 78.0h1v4.1h-1zM16 78.0h1v4.1h-1zM25 78.0h1v4.1h-1zM53 78.0h1v4.1h-1zM62 78.0h1v4.1h-1zM75 78.0h1v4.1h-1zM78 78.0h1v4.1h-1zM84 78.0h2v4.1h-2zM20 82.0h1v4.1h-1zM75 82.0h1v4.1h-1zM14 86.0h1v4.1h-1zM16 86.0h1v4.1h-1zM24 86.0h1v4.1h-1zM76 86.0h1v4.1h-1zM78 86.0h1v4.1h-1zM85 86.0h1v4.1h-1zM87 90.0h1v4.1h-1zM15 106.0h1v6.1h-1zM20 106.0h1v6.1h-1z"/>
<path fill="#a0ff00" d="M18 28.0h1v4.1h-1zM48 28.0h1v4.1h-1zM52 28.0h1v4.1h-1zM46 32.0h2v2.1h-2zM42 34.0h1v4.1h-1zM48 34.0h1v4.1h-1zM2 38.0h1v2.1h-1zM68 38.0h1v2.1h-1zM85 38.0h1v2.1h-1zM5 40.0h1v2.1h-1zM54 42.0h1v4.1h-1zM71 46.0h1v2.1h-1zM76 46.0h1v2.1h-1zM78 46.0h1v2.1h-1zM54 48.0h1v4.1h-1zM66 48.0h1v4.1h-1zM53 52.0h1v2.1h-1zM11 54.0h1v4.1h-1zM13 58.0h1v4.1h-1zM26 58.0h1v4.1h-1zM85 58.0h1v4.1h-1zM26 64.0h1v4.1h-1zM12 68.0h1v4.1h-1zM12 72.0h1v2.1h-1zM13 78.0h1v4.1h-1zM70 78.0h1v4.1h-1zM61 86.0h1v4.1h-1zM87 94.0h1v4.1h-1z"/>
<path fill="#00f04e" d="M19 28.0h1v4.1h-1zM80 28.0h1v4.1h-1zM82 28.0h1v4.1h-1zM32 32.0h1v2.1h-1zM27 34.0h1v4.1h-1zM32 34.0h1v4.1h-1zM60 34.0h1v4.1h-1zM8 38.0h1v2.1h-1zM18 38.0h1v2.1h-1zM22 38.0h1v2.1h-1zM27 38.0h1v2.1h-1zM77 38.0h1v2.1h-1zM10 40.0h1v2.1h-1zM15 40.0h1v2.1h-1zM17 40.0h1v2.1h-1zM33 40.0h2v2.1h-2zM51 40.0h1v2.1h-1zM75 40.0h1v2.1h-1zM87 40.0h1v2.1h-1zM57 42.0h1v4.1h-1zM88 42.0h1v4.1h-1zM28 46.0h1v2.1h-1zM32 46.0h1v2.1h-1zM62 48.0h1v4.1h-1zM49 52.0h1v2.1h-1zM80 52.0h1v2.1h-1zM88 52.0h1v2.1h-1zM41 54.0h2v4.1h-2zM45 54.0h1v4.1h-1zM55 54.0h1v4.1h-1zM88 54.0h1v4.1h-1zM22 58.0h1v4.1h-1zM29 58.0h1v4.1h-1zM51 58.0h1v4.1h-1zM59 58.0h1v4.1h-1zM72 58.0h1v4.1h-1zM75 58.0h1v4.1h-1zM2 62.0h1v2.1h-1zM29 62.0h1v2.1h-1zM61 62.0h1v2.1h-1zM87 62.0h1v2.1h-1zM13 64.0h1v4.1h-1zM72 64.0h1v4.1h-1zM19 68.0h1v4.1h-1zM29 68.0h1v4.1h-1zM41 68.0h1v4.1h-1zM61 68.0h1v4.1h-1zM7 72.0h1v2.1h-1zM14 72.0h1v2.1h-1zM20 72.0h1v2.1h-1zM55 72.0h1v2.1h-1zM67 72.0h1v2.1h-1zM0 74.0h1v4.1h-1zM10 74.0h1v4.1h-1zM87 74.0h1v4.1h-1zM1 78.0h1v4.1h-1zM50 78.0h1v4.1h-1zM27 82.0h1v4.1h-1zM52 82.0h1v4.1h-1zM60 82.0h1v4.1h-1zM80 82.0h1v4.1h-1zM10 86.0h1v4.1h-1zM18 86.0h2v4.1h-2zM44 86.0h1v4.1h-1zM57 86.0h1v4.1h-1zM84 86.0h1v4.1h-1zM16 94.0h1v4.1h-1zM83 94.0h1v4.1h-1zM63 98.0h1v4.1h-1zM70 98.0h2v4.1h-2zM77 98.0h1v4.1h-1zM13 102.0h1v4.1h-1zM88 106.0h1v6.1h-1zM22 112.0h1v4.1h-1zM88 112.0h1v4.1h-1z"/>
<path fill="#00f05a" d="M20 28.0h1v4.1h-1zM50 28.0h1v4.1h-1zM11 32.0h1v2.1h-1zM20 32.0h1v2.1h-1zM45 32.0h1v2.1h-1zM6 34.0h1v4.1h-1zM11 34.0h1v4.1h-1zM77 34.0h1v4.1h-1zM82 38.0h1v2.1h-1zM30 40.0h1v2.1h-1zM62 40.0h1v2.1h-1zM64 40.0h1v2.1h-1zM15 42.0h1v4.1h-1zM28 42.0h1v4.1h-1zM30 42.0h1v4.1h-1zM35 42.0h1v4.1h-1zM61 42.0h1v4.1h-1zM88 46.0h1v2.1h-1zM34 48.0h1v4.1h-1zM38 48.0h1v4.1h-1zM18 52.0h1v2.1h-1zM39 52.0h1v2.1h-1zM42 52.0h1v2.1h-1zM40 54.0h1v4.1h-1zM46 54.0h1v4.1h-1zM61 54.0h1v4.1h-1zM41 58.0h1v4.1h-1zM43 58.0h1v4.1h-1zM64 58.0h1v4.1h-1zM81 58.0h1v4.1h-1zM84 58.0h1v4.1h-1zM75 62.0h1v2.1h-1zM9 64.0h2v4.1h-2zM28 64.0h1v4.1h-1zM30 64.0h1v4.1h-1zM40 64.0h1v4.1h-1zM57 64.0h1v4.1h-1zM85 64.0h1v4.1h-1zM5 68.0h1v4.1h-1zM17 68.0h1v4.1h-1zM58 68.0h1v4.1h-1zM67 68.0h1v4.1h-1zM17 72.0h1v2.1h-1zM9 74.0h1v4.1h-1zM28 74.0h1v4.1h-1zM6 78.0h1v4.1h-1zM10 78.0h1v4.1h-1zM12 78.0h1v4.1h-1zM28 78.0h1v4.1h-1zM39 78.0h1v4.1h-1zM57 78.0h1v4.1h-1zM65 78.0h1v4.1h-1zM80 78.0h1v4.1h-1zM22 82.0h1v4.1h-1zM79 82.0h1v4.1h-1zM87 82.0h1v4.1h-1zM6 86.0h1v4.1h-1zM54 86.0h1v4.1h-1zM67 90.0h1v4.1h-1zM74 90.0h1v4.1h-1zM85 90.0h2v4.1h-2zM71 94.0h1v4.1h-1zM73 94.0h1v4.1h-1zM78 94.0h1v4.1h-1zM17 98.0h1v4.1h-1zM27 98.0h1v4.1h-1zM14 102.0h1v4.1h-1zM23 102.0h1v4.1h-1zM62 102.0h1v4.1h-1zM88 102.0h1v4.1h-1zM27 106.0h1v6.1h-1zM55 106.0h1v6.1h-1zM18 112.0h1v4.1h-1z"/>
<path fill="#00beff" d="M27 28.0h1v4.1h-1zM27 32.0h1v2.1h-1zM36 72.0h1v2.1h-1zM36 82.0h1v4.1h-1zM36 86.0h1v4.1h-1zM41 86.0h1v4.1h-1zM53 90.0h1v4.1h-1zM5 94.0h1v4.1h-1zM35 98.0h1v4.1h-1zM43 98.0h1v4.1h-1zM59 98.0h1v4.1h-1zM65 98.0h1v4.1h-1zM29 102.0h1v4.1h-1zM42 102.0h1v4.1h-1zM47 102.0h2v4.1h-2zM79 102.0h1v4.1h-1zM46 106.0h1v6.1h-1zM59 106.0h1v6.1h-1zM66 112.0h1v4.1h-1zM69 112.0h1v4.1h-1zM71 112.0h1v4.1h-1zM74 112.0h1v4.1h-1z"/>
<path fill="#00f168" d="M29 28.0h1v4.1h-1zM86 28.0h1v4.1h-1zM59 32.0h1v2.1h-1zM82 32.0h1v2.1h-1zM84 38.0h1v2.1h-1zM18 40.0h1v2.1h-1zM37 40.0h1v2.1h-1zM37 42.0h1v4.1h-1zM30 46.0h1v2.1h-1zM37 46.0h1v2.1h-1zM58 46.0h2v2.1h-2zM30 48.0h1v4.1h-1zM34 52.0h1v2.1h-1zM62 52.0h1v2.1h-1zM32 54.0h1v4.1h-1zM48 54.0h1v4.1h-1zM58 54.0h1v4.1h-1zM33 58.0h1v4.1h-1zM80 58.0h1v4.1h-1zM10 62.0h1v2.1h-1zM62 62.0h1v2.1h-1zM7 64.0h1v4.1h-1zM19 64.0h1v4.1h-1zM22 64.0h1v4.1h-1zM29 64.0h1v4.1h-1zM31 64.0h2v4.1h-2zM55 64.0h1v4.1h-1zM61 64.0h1v4.1h-1zM66 64.0h1v4.1h-1zM28 68.0h1v4.1h-1zM37 68.0h1v4.1h-1zM45 68.0h1v4.1h-1zM48 68.0h2v4.1h-2zM63 68.0h1v4.1h-1zM2 72.0h2v2.1h-2zM18 72.0h1v2.1h-1zM28 72.0h1v2.1h-1zM63 72.0h1v2.1h-1zM83 72.0h1v2.1h-1zM7 74.0h1v4.1h-1zM29 74.0h1v4.1h-1zM54 78.0h1v4.1h-1zM66 78.0h1v4.1h-1zM23 82.0h1v4.1h-1zM28 82.0h1v4.1h-1zM42 82.0h1v4.1h-1zM81 82.0h1v4.1h-1zM84 82.0h1v4.1h-1zM0 86.0h1v4.1h-1zM58 86.0h1v4.1h-1zM80 86.0h2v4.1h-2zM23 94.0h1v4.1h-1zM25 94.0h1v4.1h-1zM55 94.0h1v4.1h-1zM80 94.0h1v4.1h-1zM13 98.0h1v4.1h-1zM52 98.0h1v4.1h-1zM61 98.0h2v4.1h-2zM72 98.0h1v4.1h-1zM83 98.0h1v4.1h-1zM18 102.0h1v4.1h-1zM25 102.0h1v4.1h-1zM16 106.0h1v6.1h-1zM83 106.0h1v6.1h-1zM13 112.0h1v4.1h-1z"/>
<path fill="#00f02b" d="M30 28.0h1v4.1h-1zM32 28.0h1v4.1h-1zM60 28.0h1v4.1h-1zM76 28.0h1v4.1h-1zM84 28.0h1v4.1h-1zM84 32.0h1v2.1h-1zM18 34.0h2v4.1h-2zM58 34.0h1v4.1h-1zM35 38.0h1v2.1h-1zM51 38.0h1v2.1h-1zM59 38.0h2v2.1h-2zM21 40.0h1v2.1h-1zM35 40.0h2v2.1h-2zM38 40.0h1v2.1h-1zM52 40.0h2v2.1h-2zM77 40.0h2v2.1h-2zM84 40.0h1v2.1h-1zM86 40.0h1v2.1h-1zM88 40.0h1v2.1h-1zM1 42.0h1v4.1h-1zM22 42.0h1v4.1h-1zM29 42.0h1v4.1h-1zM33 42.0h1v4.1h-1zM38 42.0h1v4.1h-1zM41 42.0h1v4.1h-1zM49 42.0h1v4.1h-1zM59 42.0h1v4.1h-1zM62 42.0h1v4.1h-1zM2 46.0h1v2.1h-1zM21 46.0h1v2.1h-1zM31 46.0h1v2.1h-1zM39 46.0h1v2.1h-1zM42 46.0h1v2.1h-1zM49 46.0h1v2.1h-1zM57 46.0h1v2.1h-1zM62 46.0h1v2.1h-1zM64 46.0h2v2.1h-2zM83 46.0h1v2.1h-1zM3 48.0h1v4.1h-1zM14 48.0h1v4.1h-1zM19 48.0h1v4.1h-1zM65 48.0h1v4.1h-1zM12 52.0h1v2.1h-1zM30 52.0h1v2.1h-1zM43 52.0h1v2.1h-1zM52 52.0h1v2.1h-1zM78 54.0h1v4.1h-1zM57 58.0h2v4.1h-2zM68 58.0h1v4.1h-1zM71 58.0h1v4.1h-1zM83 58.0h1v4.1h-1zM0 62.0h1v2.1h-1zM7 62.0h1v2.1h-1zM22 62.0h1v2.1h-1zM28 62.0h1v2.1h-1zM45 62.0h1v2.1h-1zM64 62.0h3v2.1h-3zM80 62.0h1v2.1h-1zM88 62.0h1v2.1h-1zM20 64.0h1v4.1h-1zM81 64.0h1v4.1h-1zM4 72.0h1v2.1h-1zM10 72.0h1v2.1h-1zM50 72.0h1v2.1h-1zM59 72.0h1v2.1h-1zM84 72.0h2v2.1h-2zM18 74.0h1v4.1h-1zM53 74.0h1v4.1h-1zM78 74.0h1v4.1h-1zM81 74.0h1v4.1h-1zM22 78.0h1v4.1h-1zM60 78.0h1v4.1h-1zM73 78.0h1v4.1h-1zM81 78.0h1v4.1h-1zM88 78.0h1v4.1h-1zM1 82.0h1v4.1h-1zM9 82.0h1v4.1h-1zM58 82.0h1v4.1h-1zM68 82.0h1v4.1h-1zM88 82.0h1v4.1h-1zM11 86.0h1v4.1h-1zM55 86.0h1v4.1h-1zM71 86.0h1v4.1h-1zM74 86.0h1v4.1h-1zM86 86.0h1v4.1h-1zM18 90.0h1v4.1h-1zM76 90.0h1v4.1h-1zM81 90.0h1v4.1h-1zM16 98.0h1v4.1h-1zM20 98.0h1v4.1h-1zM25 98.0h1v4.1h-1zM22 106.0h1v6.1h-1zM14 112.0h1v4.1h-1z"/>
<path fill="#afff00" d="M35 28.0h1v4.1h-1zM7 32.0h1v2.1h-1zM39 32.0h1v2.1h-1zM46 34.0h1v4.1h-1zM68 34.0h1v4.1h-1zM3 38.0h1v2.1h-1zM39 38.0h1v2.1h-1zM40 40.0h1v2.1h-1zM63 40.0h1v2.1h-1zM71 40.0h1v2.1h-1zM43 42.0h1v4.1h-1zM71 42.0h1v4.1h-1zM26 46.0h1v2.1h-1zM9 48.0h1v4.1h-1zM70 52.0h1v2.1h-1zM85 54.0h1v4.1h-1zM5 62.0h1v2.1h-1zM8 64.0h1v4.1h-1zM15 68.0h1v4.1h-1zM77 68.0h1v4.1h-1zM21 94.0h1v4.1h-1zM15 112.0h1v4.1h-1z"/>
<path fill="#80ff00" d="M36 28.0h1v4.1h-1zM40 28.0h1v4.1h-1zM42 28.0h1v4.1h-1zM71 28.0h1v4.1h-1zM78 28.0h1v4.1h-1zM24 32.0h1v2.1h-1zM28 32.0h1v2.1h-1zM41 32.0h1v2.1h-1zM66 32.0h1v2.1h-1zM78 32.0h1v2.1h-1zM5 34.0h1v4.1h-1zM14 34.0h1v4.1h-1zM25 34.0h1v4.1h-1zM38 34.0h1v4.1h-1zM9 40.0h1v2.1h-1zM16 40.0h1v2.1h-1zM3 42.0h1v4.1h-1zM48 42.0h1v4.1h-1zM20 46.0h1v2.1h-1zM45 46.0h1v2.1h-1zM48 46.0h1v2.1h-1zM63 46.0h1v2.1h-1zM70 48.0h2v4.1h-2zM24 52.0h1v2.1h-1zM26 52.0h1v2.1h-1zM13 54.0h1v4.1h-1zM15 54.0h1v4.1h-1zM69 54.0h1v4.1h-1zM73 54.0h2v4.1h-2zM3 58.0h1v4.1h-1zM15 58.0h1v4.1h-1zM77 62.0h1v2.1h-1zM24 64.0h1v4.1h-1zM26 68.0h1v4.1h-1zM24 74.0h1v4.1h-1zM76 74.0h1v4.1h-1zM11 82.0h1v4.1h-1zM24 82.0h1v4.1h-1z"/>
<path fill="#ccff00" d="M38 28.0h2v4.1h-2zM41 28.0h1v4.1h-1zM67 32.0h1v2.1h-1zM54 34.0h1v4.1h-1zM65 34.0h1v4.1h-1zM65 38.0h1v2.1h-1zM23 40.0h1v2.1h-1zM73 40.0h1v2.1h-1zM9 52.0h1v2.1h-1zM53 64.0h1v4.1h-1zM69 64.0h1v4.1h-1zM8 68.0h1v4.1h-1zM69 86.0h1v4.1h-1z"/>
<path fill="#00f037" d="M56 28.0h1v4.1h-1zM81 28.0h1v4.1h-1zM85 28.0h1v4.1h-1zM19 32.0h1v2.1h-1zM49 32.0h1v2.1h-1zM58 32.0h1v2.1h-1zM60 32.0h1v2.1h-1zM86 32.0h1v2.1h-1zM88 32.0h1v2.1h-1zM84 34.0h1v4.1h-1zM28 38.0h1v2.1h-1zM32 38.0h1v2.1h-1zM87 38.0h1v2.1h-1zM0 40.0h1v2.1h-1zM6 40.0h1v2.1h-1zM11 40.0h1v2.1h-1zM31 40.0h1v2.1h-1zM60 40.0h1v2.1h-1zM19 46.0h1v2.1h-1zM36 46.0h1v2.1h-1zM80 46.0h1v2.1h-1zM82 46.0h1v2.1h-1zM4 48.0h1v4.1h-1zM12 48.0h1v4.1h-1zM22 48.0h1v4.1h-1zM47 48.0h1v4.1h-1zM85 48.0h1v4.1h-1zM88 48.0h1v4.1h-1zM13 52.0h1v2.1h-1zM21 52.0h1v2.1h-1zM37 52.0h1v2.1h-1zM40 52.0h1v2.1h-1zM21 54.0h1v4.1h-1zM43 54.0h1v4.1h-1zM72 54.0h1v4.1h-1zM83 54.0h1v4.1h-1zM34 58.0h1v4.1h-1zM61 58.0h1v4.1h-1zM88 58.0h1v4.1h-1zM3 62.0h1v2.1h-1zM9 62.0h1v2.1h-1zM18 62.0h1v2.1h-1zM78 62.0h1v2.1h-1zM85 62.0h1v2.1h-1zM2 64.0h2v4.1h-2zM18 64.0h1v4.1h-1zM41 64.0h1v4.1h-1zM63 64.0h1v4.1h-1zM31 68.0h1v4.1h-1zM38 68.0h1v4.1h-1zM83 68.0h1v4.1h-1zM5 72.0h1v2.1h-1zM22 72.0h1v2.1h-1zM61 72.0h1v2.1h-1zM75 72.0h1v2.1h-1zM81 72.0h2v2.1h-2zM20 74.0h1v4.1h-1zM79 74.0h1v4.1h-1zM9 78.0h1v4.1h-1zM59 78.0h1v4.1h-1zM72 78.0h1v4.1h-1zM74 78.0h1v4.1h-1zM26 82.0h1v4.1h-1zM73 82.0h1v4.1h-1zM86 82.0h1v4.1h-1zM28 86.0h1v4.1h-1zM62 86.0h1v4.1h-1zM75 86.0h1v4.1h-1zM16 90.0h1v4.1h-1zM22 90.0h1v4.1h-1zM25 90.0h1v4.1h-1zM14 94.0h1v4.1h-1zM67 94.0h1v4.1h-1zM77 94.0h1v4.1h-1zM86 94.0h1v4.1h-1zM12 98.0h1v4.1h-1zM17 102.0h1v4.1h-1zM24 102.0h1v4.1h-1zM23 112.0h1v4.1h-1z"/>
<path fill="#00f384" d="M59 28.0h1v4.1h-1zM6 32.0h1v2.1h-1zM15 32.0h1v2.1h-1zM77 32.0h1v2.1h-1zM29 38.0h1v2.1h-1zM88 38.0h1v2.1h-1zM32 42.0h1v4.1h-1zM34 42.0h1v4.1h-1zM53 42.0h1v4.1h-1zM38 46.0h1v2.1h-1zM58 48.0h1v4.1h-1zM18 54.0h1v4.1h-1zM65 54.0h1v4.1h-1zM80 54.0h1v4.1h-1zM31 58.0h1v4.1h-1zM39 58.0h1v4.1h-1zM49 58.0h1v4.1h-1zM31 62.0h1v2.1h-1zM34 62.0h1v2.1h-1zM42 62.0h1v2.1h-1zM57 62.0h1v2.1h-1zM82 62.0h1v2.1h-1zM56 64.0h1v4.1h-1zM58 64.0h1v4.1h-1zM39 68.0h1v4.1h-1zM19 72.0h1v2.1h-1zM52 72.0h1v2.1h-1zM60 72.0h1v2.1h-1zM66 72.0h1v2.1h-1zM45 74.0h1v4.1h-1zM56 74.0h1v4.1h-1zM82 74.0h1v4.1h-1zM17 78.0h1v4.1h-1zM0 82.0h1v4.1h-1zM49 82.0h1v4.1h-1zM54 82.0h1v4.1h-1zM17 90.0h1v4.1h-1zM26 90.0h1v4.1h-1zM75 90.0h1v4.1h-1zM62 94.0h1v4.1h-1zM9 98.0h1v4.1h-1zM23 98.0h1v4.1h-1zM76 98.0h1v4.1h-1zM80 98.0h1v4.1h-1zM84 98.0h1v4.1h-1zM12 102.0h1v4.1h-1zM16 102.0h1v4.1h-1zM27 112.0h1v4.1h-1zM82 112.0h1v4.1h-1zM86 112.0h1v4.1h-1z"/>
<path fill="#e9ff00" d="M66 28.0h1v4.1h-1zM13 34.0h1v4.1h-1zM16 34.0h1v4.1h-1zM5 38.0h1v2.1h-1zM23 48.0h1v4.1h-1zM68 48.0h1v4.1h-1zM24 62.0h1v2.1h-1zM25 72.0h1v2.1h-1zM70 82.0h1v4.1h-1z"/>
<path fill="#daff00" d="M72 28.0h1v4.1h-1zM76 38.0h1v2.1h-1zM48 40.0h1v2.1h-1zM26 48.0h1v4.1h-1zM45 48.0h1v4.1h-1zM45 52.0h1v2.1h-1zM27 64.0h1v4.1h-1zM69 68.0h1v4.1h-1z"/>
<path fill="#00f492" d="M88 28.0h1v4.1h-1zM31 48.0h1v4.1h-1zM37 48.0h1v4.1h-1zM57 48.0h1v4.1h-1zM32 58.0h1v4.1h-1zM42 58.0h1v4.1h-1zM62 58.0h1v4.1h-1zM44 62.0h1v2.1h-1zM65 64.0h1v4.1h-1zM67 64.0h1v4.1h-1zM82 64.0h1v4.1h-1zM36 68.0h1v4.1h-1zM40 68.0h1v4.1h-1zM57 68.0h1v4.1h-1zM66 68.0h1v4.1h-1zM80 68.0h1v4.1h-1zM29 72.0h1v2.1h-1zM31 72.0h1v2.1h-1zM80 72.0h1v2.1h-1zM2 74.0h1v4.1h-1zM75 74.0h1v4.1h-1zM0 78.0h1v4.1h-1zM7 78.0h1v4.1h-1zM64 78.0h1v4.1h-1zM10 82.0h1v4.1h-1zM64 86.0h1v4.1h-1zM79 86.0h1v4.1h-1zM8 90.0h1v4.1h-1zM11 90.0h1v4.1h-1zM71 90.0h2v4.1h-2zM13 94.0h1v4.1h-1zM5 98.0h1v4.1h-1zM14 98.0h1v4.1h-1zM26 98.0h1v4.1h-1zM78 98.0h2v4.1h-2zM11 106.0h1v6.1h-1zM80 106.0h1v6.1h-1zM86 106.0h1v6.1h-1zM24 112.0h1v4.1h-1zM83 112.0h1v4.1h-1z"/>
<path fill="#bdff00" d="M21 32.0h1v2.1h-1zM66 34.0h1v4.1h-1zM71 34.0h1v4.1h-1zM26 40.0h1v2.1h-1zM85 40.0h1v2.1h-1zM54 46.0h1v2.1h-1zM70 46.0h1v2.1h-1zM6 52.0h1v2.1h-1zM74 52.0h1v2.1h-1zM13 74.0h1v4.1h-1zM69 82.0h1v4.1h-1z"/>
<path fill="#ffcd00" d="M68 32.0h1v2.1h-1z"/>
<path fill="#00f276" d="M88 34.0h1v4.1h-1zM41 40.0h1v2.1h-1zM83 40.0h1v2.1h-1zM33 46.0h1v2.1h-1zM61 46.0h1v2.1h-1zM33 48.0h1v4.1h-1zM57 52.0h1v2.1h-1zM60 52.0h1v2.1h-1zM84 52.0h1v2.1h-1zM34 54.0h1v4.1h-1zM54 54.0h1v4.1h-1zM84 54.0h1v4.1h-1zM17 58.0h1v4.1h-1zM40 58.0h1v4.1h-1zM44 58.0h2v4.1h-2zM47 58.0h1v4.1h-1zM30 62.0h1v2.1h-1zM43 62.0h1v2.1h-1zM52 62.0h1v2.1h-1zM34 64.0h2v4.1h-2zM68 64.0h1v4.1h-1zM85 68.0h1v4.1h-1zM6 72.0h1v2.1h-1zM41 72.0h2v2.1h-2zM45 72.0h1v2.1h-1zM58 74.0h1v4.1h-1zM60 74.0h1v4.1h-1zM66 74.0h3v4.1h-3zM19 78.0h1v4.1h-1zM49 78.0h1v4.1h-1zM67 78.0h1v4.1h-1zM19 82.0h1v4.1h-1zM50 82.0h1v4.1h-1zM56 82.0h1v4.1h-1zM59 82.0h1v4.1h-1zM23 86.0h1v4.1h-1zM38 86.0h1v4.1h-1zM42 86.0h1v4.1h-1zM79 90.0h1v4.1h-1zM27 94.0h1v4.1h-1zM52 94.0h1v4.1h-1zM81 94.0h1v4.1h-1zM11 98.0h1v4.1h-1zM24 98.0h1v4.1h-1zM74 98.0h1v4.1h-1zM82 98.0h1v4.1h-1zM77 102.0h1v4.1h-1zM83 102.0h1v4.1h-1zM13 106.0h2v6.1h-2zM23 106.0h1v6.1h-1zM26 112.0h1v4.1h-1zM77 112.0h1v4.1h-1z"/>
<path fill="#fff800" d="M7 38.0h1v2.1h-1zM42 38.0h1v2.1h-1zM26 42.0h1v4.1h-1zM70 86.0h1v4.1h-1z"/>
<path fill="#f8ff00" d="M24 38.0h1v2.1h-1zM40 38.0h1v2.1h-1zM24 40.0h1v2.1h-1zM26 62.0h1v2.1h-1z"/>
<path fill="#ffbf00" d="M25 38.0h1v2.1h-1zM25 40.0h1v2.1h-1z"/>
<path fill="#ffea00" d="M46 38.0h1v2.1h-1z"/>
<path fill="#ffdb00" d="M71 38.0h1v2.1h-1zM26 72.0h1v2.1h-1zM26 74.0h1v4.1h-1z"/>
<path fill="#00f8bb" d="M22 40.0h1v2.1h-1zM63 54.0h1v4.1h-1zM37 58.0h1v4.1h-1zM38 64.0h2v4.1h-2zM47 64.0h1v4.1h-1zM64 64.0h1v4.1h-1zM34 68.0h2v4.1h-2zM68 68.0h1v4.1h-1zM49 74.0h1v4.1h-1zM83 74.0h1v4.1h-1zM34 78.0h1v4.1h-1zM42 78.0h1v4.1h-1zM46 78.0h1v4.1h-1zM52 78.0h1v4.1h-1zM46 82.0h1v4.1h-1zM17 86.0h1v4.1h-1zM27 86.0h1v4.1h-1zM43 86.0h1v4.1h-1zM59 86.0h1v4.1h-1zM68 86.0h1v4.1h-1zM4 90.0h1v4.1h-1zM27 90.0h1v4.1h-1zM42 90.0h1v4.1h-1zM73 90.0h1v4.1h-1zM84 90.0h1v4.1h-1zM41 94.0h1v4.1h-1zM76 94.0h1v4.1h-1zM49 98.0h1v4.1h-1zM57 98.0h1v4.1h-1zM26 102.0h1v4.1h-1zM57 102.0h1v4.1h-1zM25 106.0h1v6.1h-1zM60 106.0h1v6.1h-1zM62 106.0h1v6.1h-1zM87 112.0h1v4.1h-1z"/>
<path fill="#00fef1" d="M28 40.0h1v2.1h-1zM52 58.0h1v4.1h-1zM44 68.0h1v4.1h-1zM35 72.0h1v2.1h-1zM39 72.0h2v2.1h-2zM56 72.0h1v2.1h-1zM34 74.0h1v4.1h-1zM40 74.0h1v4.1h-1zM41 78.0h1v4.1h-1zM44 78.0h1v4.1h-1zM31 82.0h1v4.1h-1zM33 82.0h1v4.1h-1zM40 82.0h1v4.1h-1zM34 90.0h1v4.1h-1zM49 90.0h1v4.1h-1zM62 90.0h1v4.1h-1zM6 94.0h1v4.1h-1zM10 94.0h1v4.1h-1zM42 94.0h2v4.1h-2zM46 94.0h1v4.1h-1zM53 94.0h1v4.1h-1zM29 98.0h1v4.1h-1zM39 98.0h1v4.1h-1zM42 98.0h1v4.1h-1zM54 98.0h1v4.1h-1zM11 102.0h1v4.1h-1zM39 102.0h1v4.1h-1zM52 102.0h1v4.1h-1zM76 102.0h1v4.1h-1zM69 106.0h1v6.1h-1zM78 106.0h2v6.1h-2zM49 112.0h1v4.1h-1zM68 112.0h1v4.1h-1zM73 112.0h1v4.1h-1z"/>
<path fill="#ff0000" d="M25 42.0h1v4.1h-1zM25 46.0h1v2.1h-1zM25 48.0h1v4.1h-1zM25 52.0h1v2.1h-1zM25 54.0h1v4.1h-1zM25 58.0h1v4.1h-1z"/>
<path fill="#00f6ae" d="M80 48.0h1v4.1h-1zM29 54.0h1v4.1h-1zM36 54.0h1v4.1h-1zM52 54.0h1v4.1h-1zM67 54.0h1v4.1h-1zM60 58.0h1v4.1h-1zM67 58.0h1v4.1h-1zM38 62.0h1v2.1h-1zM47 62.0h1v2.1h-1zM51 62.0h1v2.1h-1zM36 64.0h1v4.1h-1zM51 64.0h1v4.1h-1zM30 68.0h1v4.1h-1zM33 68.0h1v4.1h-1zM43 68.0h1v4.1h-1zM51 68.0h1v4.1h-1zM39 74.0h1v4.1h-1zM47 74.0h1v4.1h-1zM31 86.0h1v4.1h-1zM33 86.0h1v4.1h-1zM47 86.0h1v4.1h-1zM28 90.0h1v4.1h-1zM52 90.0h1v4.1h-1zM64 90.0h1v4.1h-1zM83 90.0h1v4.1h-1zM17 94.0h1v4.1h-1zM50 94.0h1v4.1h-1zM63 94.0h1v4.1h-1zM66 94.0h1v4.1h-1zM74 94.0h1v4.1h-1zM79 94.0h1v4.1h-1zM82 94.0h1v4.1h-1zM0 98.0h1v4.1h-1zM18 98.0h1v4.1h-1zM28 98.0h1v4.1h-1zM50 98.0h1v4.1h-1zM55 98.0h1v4.1h-1zM61 102.0h1v4.1h-1zM73 102.0h1v4.1h-1zM80 102.0h1v4.1h-1zM12 112.0h1v4.1h-1zM53 112.0h1v4.1h-1z"/>
<path fill="#0020ff" d="M27 54.0h1v4.1h-1zM27 58.0h1v4.1h-1zM32 94.0h1v4.1h-1zM30 102.0h1v4.1h-1zM43 102.0h1v4.1h-1zM4 106.0h1v6.1h-1zM6 106.0h1v6.1h-1zM31 112.0h1v4.1h-1z"/>
<path fill="#00fce4" d="M35 54.0h1v4.1h-1zM38 58.0h1v4.1h-1zM46 58.0h1v4.1h-1zM33 72.0h1v2.1h-1zM37 72.0h1v2.1h-1zM32 74.0h1v4.1h-1zM35 74.0h1v4.1h-1zM39 82.0h1v4.1h-1zM34 86.0h1v4.1h-1zM46 86.0h1v4.1h-1zM49 86.0h1v4.1h-1zM0 90.0h1v4.1h-1zM1 98.0h1v4.1h-1zM4 98.0h1v4.1h-1zM50 102.0h1v4.1h-1zM55 102.0h1v4.1h-1zM78 102.0h1v4.1h-1zM84 102.0h1v4.1h-1zM41 106.0h1v6.1h-1zM11 112.0h1v4.1h-1zM29 112.0h1v4.1h-1zM41 112.0h2v4.1h-2z"/>
<path fill="#00deff" d="M37 54.0h1v4.1h-1zM46 62.0h1v2.1h-1zM46 72.0h1v2.1h-1zM36 74.0h1v4.1h-1zM52 74.0h1v4.1h-1zM37 78.0h1v4.1h-1zM51 78.0h1v4.1h-1zM37 82.0h1v4.1h-1zM48 82.0h1v4.1h-1zM30 86.0h1v4.1h-1zM40 86.0h1v4.1h-1zM45 86.0h1v4.1h-1zM1 90.0h2v4.1h-2zM9 90.0h1v4.1h-1zM57 90.0h1v4.1h-1zM60 90.0h1v4.1h-1zM68 90.0h1v4.1h-1zM48 94.0h1v4.1h-1zM54 94.0h1v4.1h-1zM56 94.0h1v4.1h-1zM68 94.0h1v4.1h-1zM6 98.0h2v4.1h-2zM45 98.0h1v4.1h-1zM47 98.0h1v4.1h-1zM45 102.0h1v4.1h-1zM66 102.0h1v4.1h-1zM69 102.0h1v4.1h-1zM12 106.0h1v6.1h-1zM54 106.0h1v6.1h-1zM56 112.0h1v4.1h-1zM61 112.0h1v4.1h-1zM63 112.0h2v4.1h-2zM79 112.0h2v4.1h-2z"/>
<path fill="#00efff" d="M38 54.0h1v4.1h-1zM62 54.0h1v4.1h-1zM67 62.0h1v2.1h-1zM32 72.0h1v2.1h-1zM48 72.0h1v2.1h-1zM48 74.0h1v4.1h-1zM31 78.0h1v4.1h-1zM40 78.0h1v4.1h-1zM48 78.0h1v4.1h-1zM34 82.0h1v4.1h-1zM41 90.0h1v4.1h-1zM51 90.0h1v4.1h-1zM7 94.0h1v4.1h-1zM58 94.0h1v4.1h-1zM64 94.0h1v4.1h-1zM53 98.0h1v4.1h-1zM46 102.0h1v4.1h-1zM53 102.0h1v4.1h-1zM56 102.0h1v4.1h-1zM70 102.0h2v4.1h-2zM74 102.0h1v4.1h-1zM49 106.0h2v6.1h-2zM53 106.0h1v6.1h-1zM63 106.0h1v6.1h-1zM50 112.0h2v4.1h-2zM76 112.0h1v4.1h-1z"/>
<path fill="#00f9c9" d="M39 54.0h1v4.1h-1zM33 62.0h1v2.1h-1zM39 62.0h2v2.1h-2zM37 64.0h1v4.1h-1zM43 64.0h1v4.1h-1zM30 72.0h1v2.1h-1zM47 72.0h1v2.1h-1zM31 74.0h1v4.1h-1zM42 74.0h1v4.1h-1zM57 74.0h1v4.1h-1zM30 78.0h1v4.1h-1zM43 78.0h1v4.1h-1zM17 82.0h1v4.1h-1zM45 82.0h1v4.1h-1zM51 82.0h1v4.1h-1zM48 86.0h1v4.1h-1zM50 86.0h1v4.1h-1zM58 90.0h1v4.1h-1zM65 90.0h1v4.1h-1zM80 90.0h1v4.1h-1zM82 90.0h1v4.1h-1zM3 94.0h1v4.1h-1zM18 94.0h1v4.1h-1zM28 94.0h1v4.1h-1zM49 94.0h1v4.1h-1zM72 94.0h1v4.1h-1zM84 94.0h1v4.1h-1zM3 98.0h1v4.1h-1zM63 102.0h1v4.1h-1zM85 102.0h1v4.1h-1zM26 106.0h1v6.1h-1zM52 106.0h1v6.1h-1zM75 106.0h1v6.1h-1zM84 106.0h1v6.1h-1zM87 106.0h1v6.1h-1zM16 112.0h1v4.1h-1zM52 112.0h1v4.1h-1zM60 112.0h1v4.1h-1z"/>
<path fill="#00fbd6" d="M47 54.0h1v4.1h-1zM49 54.0h1v4.1h-1zM36 58.0h1v4.1h-1zM33 64.0h1v4.1h-1zM57 72.0h1v2.1h-1zM33 74.0h1v4.1h-1zM41 74.0h1v4.1h-1zM44 74.0h1v4.1h-1zM46 74.0h1v4.1h-1zM33 78.0h1v4.1h-1zM35 78.0h2v4.1h-2zM47 78.0h1v4.1h-1zM56 78.0h1v4.1h-1zM43 82.0h2v4.1h-2zM65 82.0h1v4.1h-1zM65 86.0h1v4.1h-1zM59 90.0h1v4.1h-1zM0 94.0h1v4.1h-1zM4 94.0h1v4.1h-1zM8 94.0h1v4.1h-1zM26 94.0h1v4.1h-1zM46 98.0h1v4.1h-1zM60 98.0h1v4.1h-1zM66 98.0h2v4.1h-2zM69 98.0h1v4.1h-1zM60 102.0h1v4.1h-1zM61 106.0h1v6.1h-1zM28 112.0h1v4.1h-1zM46 112.0h1v4.1h-1zM62 112.0h1v4.1h-1zM65 112.0h1v4.1h-1z"/>
<path fill="#00ceff" d="M35 58.0h1v4.1h-1zM32 62.0h1v2.1h-1zM36 62.0h1v2.1h-1zM44 64.0h1v4.1h-1zM46 68.0h1v4.1h-1zM43 72.0h2v2.1h-2zM37 74.0h1v4.1h-1zM38 82.0h1v4.1h-1zM41 82.0h1v4.1h-1zM29 86.0h1v4.1h-1zM44 90.0h1v4.1h-1zM54 90.0h1v4.1h-1zM56 90.0h1v4.1h-1zM63 90.0h1v4.1h-1zM2 98.0h1v4.1h-1zM58 98.0h1v4.1h-1zM64 98.0h1v4.1h-1zM49 102.0h1v4.1h-1zM65 102.0h1v4.1h-1zM42 106.0h1v6.1h-1zM48 106.0h1v6.1h-1zM56 106.0h1v6.1h-1zM68 106.0h1v6.1h-1zM71 106.0h1v6.1h-1zM37 112.0h1v4.1h-1zM70 112.0h1v4.1h-1zM81 112.0h1v4.1h-1z"/>
<path fill="#ffb100" d="M25 62.0h1v2.1h-1zM25 64.0h1v4.1h-1zM25 68.0h1v4.1h-1z"/>
<path fill="#00ffff" d="M37 62.0h1v2.1h-1zM49 72.0h1v2.1h-1zM68 72.0h1v2.1h-1zM43 74.0h1v4.1h-1zM32 82.0h1v4.1h-1zM32 86.0h1v4.1h-1zM51 86.0h1v4.1h-1zM5 90.0h1v4.1h-1zM47 90.0h2v4.1h-2zM50 90.0h1v4.1h-1zM1 94.0h1v4.1h-1zM9 94.0h1v4.1h-1zM39 94.0h1v4.1h-1zM59 94.0h1v4.1h-1zM65 94.0h1v4.1h-1zM41 98.0h1v4.1h-1zM48 98.0h1v4.1h-1zM75 98.0h1v4.1h-1zM28 102.0h1v4.1h-1zM41 102.0h1v4.1h-1zM58 102.0h1v4.1h-1zM75 102.0h1v4.1h-1zM57 106.0h1v6.1h-1zM65 106.0h2v6.1h-2zM76 106.0h1v6.1h-1zM45 112.0h1v4.1h-1zM48 112.0h1v4.1h-1zM84 112.0h1v4.1h-1z"/>
<path fill="#00aeff" d="M46 64.0h1v4.1h-1zM32 78.0h1v4.1h-1zM10 90.0h1v4.1h-1zM46 90.0h1v4.1h-1zM57 94.0h1v4.1h-1zM68 98.0h1v4.1h-1zM81 98.0h1v4.1h-1zM54 102.0h1v4.1h-1zM59 102.0h1v4.1h-1zM70 106.0h1v6.1h-1zM85 106.0h1v6.1h-1zM54 112.0h1v4.1h-1zM58 112.0h1v4.1h-1zM72 112.0h1v4.1h-1z"/>
<path fill="#007eff" d="M38 72.0h1v2.1h-1zM35 86.0h1v4.1h-1zM39 86.0h1v4.1h-1zM30 90.0h1v4.1h-1zM36 90.0h1v4.1h-1zM45 90.0h1v4.1h-1zM44 94.0h1v4.1h-1zM60 94.0h1v4.1h-1zM33 98.0h1v4.1h-1zM3 102.0h1v4.1h-1zM34 102.0h1v4.1h-1zM72 102.0h1v4.1h-1zM32 106.0h2v6.1h-2zM36 106.0h1v6.1h-1zM45 106.0h1v6.1h-1zM64 106.0h1v6.1h-1zM67 106.0h1v6.1h-1zM81 106.0h1v6.1h-1zM9 112.0h1v4.1h-1zM35 112.0h1v4.1h-1zM47 112.0h1v4.1h-1zM57 112.0h1v4.1h-1zM67 112.0h1v4.1h-1z"/>
<path fill="#009eff" d="M38 74.0h1v4.1h-1zM6 90.0h1v4.1h-1zM29 94.0h1v4.1h-1zM36 94.0h1v4.1h-1zM51 94.0h1v4.1h-1zM33 102.0h1v4.1h-1zM28 106.0h2v6.1h-2zM37 106.0h3v6.1h-3zM72 106.0h1v6.1h-1zM3 112.0h1v4.1h-1zM36 112.0h1v4.1h-1z"/>
<path fill="#003dff" d="M38 78.0h1v4.1h-1zM29 90.0h1v4.1h-1zM31 90.0h1v4.1h-1zM37 94.0h1v4.1h-1zM37 98.0h1v4.1h-1zM44 98.0h1v4.1h-1zM35 106.0h1v6.1h-1zM47 106.0h1v6.1h-1zM43 112.0h1v4.1h-1z"/>
<path fill="#005eff" d="M35 82.0h1v4.1h-1zM37 86.0h1v4.1h-1zM38 94.0h1v4.1h-1zM5 102.0h1v4.1h-1zM37 102.0h1v4.1h-1zM67 102.0h2v4.1h-2zM1 106.0h1v6.1h-1zM3 106.0h1v6.1h-1zM51 106.0h1v6.1h-1zM1 112.0h1v4.1h-1zM7 112.0h1v4.1h-1zM39 112.0h2v4.1h-2z"/>
<path fill="#2000ed" d="M32 90.0h1v4.1h-1zM31 102.0h1v4.1h-1zM2 106.0h1v6.1h-1zM8 112.0h1v4.1h-1z"/>
<path fill="#006eff" d="M33 90.0h1v4.1h-1zM35 90.0h1v4.1h-1zM8 98.0h1v4.1h-1zM10 98.0h1v4.1h-1zM36 98.0h1v4.1h-1zM56 98.0h1v4.1h-1zM38 102.0h1v4.1h-1zM81 102.0h1v4.1h-1zM0 106.0h1v6.1h-1zM34 106.0h1v6.1h-1z"/>
<path fill="#0006ff" d="M37 90.0h1v4.1h-1zM40 90.0h1v4.1h-1zM31 94.0h1v4.1h-1zM34 94.0h1v4.1h-1zM34 98.0h1v4.1h-1zM10 102.0h1v4.1h-1zM35 102.0h1v4.1h-1zM5 106.0h1v6.1h-1z"/>
<path fill="#002dff" d="M38 90.0h1v4.1h-1zM33 94.0h1v4.1h-1zM45 94.0h1v4.1h-1zM47 94.0h1v4.1h-1zM31 98.0h1v4.1h-1zM64 102.0h1v4.1h-1zM30 106.0h1v6.1h-1zM40 106.0h1v6.1h-1zM4 112.0h1v4.1h-1zM44 112.0h1v4.1h-1z"/>
<path fill="#008eff" d="M39 90.0h1v4.1h-1zM43 90.0h1v4.1h-1zM35 94.0h1v4.1h-1zM32 98.0h1v4.1h-1zM38 98.0h1v4.1h-1zM51 98.0h1v4.1h-1zM74 106.0h1v6.1h-1zM0 112.0h1v4.1h-1zM30 112.0h1v4.1h-1zM32 112.0h1v4.1h-1zM59 112.0h1v4.1h-1zM75 112.0h1v4.1h-1zM85 112.0h1v4.1h-1z"/>
<path fill="#004dff" d="M2 94.0h1v4.1h-1zM0 102.0h1v4.1h-1zM4 102.0h1v4.1h-1zM9 102.0h1v4.1h-1zM51 102.0h1v4.1h-1zM9 106.0h1v6.1h-1zM43 106.0h1v6.1h-1zM58 106.0h1v6.1h-1zM2 112.0h1v4.1h-1zM33 112.0h2v4.1h-2z"/>
<path fill="#0013ff" d="M30 94.0h1v4.1h-1zM30 98.0h1v4.1h-1zM1 102.0h1v4.1h-1zM32 102.0h1v4.1h-1zM31 106.0h1v6.1h-1zM6 112.0h1v4.1h-1z"/>
<path fill="#4100c8" d="M40 94.0h1v4.1h-1zM44 106.0h1v6.1h-1z"/>
<path fill="#3700d7" d="M40 98.0h1v4.1h-1zM44 102.0h1v4.1h-1z"/>
<path fill="#0600fb" d="M2 102.0h1v4.1h-1zM6 102.0h1v4.1h-1zM7 106.0h1v6.1h-1zM10 106.0h1v6.1h-1zM5 112.0h1v4.1h-1zM38 112.0h1v4.1h-1z"/>
<path fill="#4b00b9" d="M7 102.0h2v4.1h-2zM10 112.0h1v4.1h-1z"/>
<path fill="#1300f4" d="M36 102.0h1v4.1h-1zM40 102.0h1v4.1h-1z"/>
<path fill="#4a0066" d="M8 106.0h1v6.1h-1z"/>
</g>
<line x1="89.80" y1="54.67" x2="809.80" y2="54.67" stroke="#000" stroke-width="1.2" stroke-dasharray="1.7 6.34" stroke-dashoffset="0.85"/>
<line x1="89.80" y1="89.77" x2="809.80" y2="89.77" stroke="#000" stroke-width="1.2" stroke-dasharray="1.7 6.34" stroke-dashoffset="0.85"/>
<line x1="179.80" y1="1.80" x2="179.80" y2="137.72" stroke="#000" stroke-width="1.2" stroke-dasharray="2 6.04" stroke-dashoffset="0.5"/>
<line x1="269.80" y1="1.80" x2="269.80" y2="137.72" stroke="#000" stroke-width="1.2" stroke-dasharray="2 6.04" stroke-dashoffset="0.5"/>
<line x1="359.80" y1="1.80" x2="359.80" y2="137.72" stroke="#000" stroke-width="1.2" stroke-dasharray="2 6.04" stroke-dashoffset="0.5"/>
<line x1="449.80" y1="1.80" x2="449.80" y2="137.72" stroke="#000" stroke-width="1.2" stroke-dasharray="2 6.04" stroke-dashoffset="0.5"/>
<line x1="539.80" y1="1.80" x2="539.80" y2="137.72" stroke="#000" stroke-width="1.2" stroke-dasharray="2 6.04" stroke-dashoffset="0.5"/>
<line x1="629.80" y1="1.80" x2="629.80" y2="137.72" stroke="#000" stroke-width="1.2" stroke-dasharray="2 6.04" stroke-dashoffset="0.5"/>
<line x1="719.80" y1="1.80" x2="719.80" y2="137.72" stroke="#000" stroke-width="1.2" stroke-dasharray="2 6.04" stroke-dashoffset="0.5"/>
<use href="#coast"/>
<rect x="179.80" y="1.1" width="90.00" height="1.5" fill="#fff"/>
<rect x="179.80" y="137.3" width="90.00" height="1.5" fill="#fff"/>
<rect x="359.80" y="1.1" width="90.00" height="1.5" fill="#fff"/>
<rect x="359.80" y="137.3" width="90.00" height="1.5" fill="#fff"/>
<rect x="539.80" y="1.1" width="90.00" height="1.5" fill="#fff"/>
<rect x="539.80" y="137.3" width="90.00" height="1.5" fill="#fff"/>
<rect x="719.80" y="1.1" width="88.70" height="1.5" fill="#fff"/>
<rect x="719.80" y="137.3" width="88.70" height="1.5" fill="#fff"/>
<rect x="89" y="1.10" width="1.8" height="25.18" fill="#fff"/>
<rect x="808.6" y="1.10" width="1.8" height="25.18" fill="#fff"/>
<rect x="89" y="54.67" width="1.8" height="35.10" fill="#fff"/>
<rect x="808.6" y="54.67" width="1.8" height="35.10" fill="#fff"/>
<text x="82.3" y="8.20" font-size="14.2" text-anchor="end" textLength="28.6" lengthAdjust="spacingAndGlyphs">30°S</text>
<text x="82.3" y="32.68" font-size="14.2" text-anchor="end" textLength="28.6" lengthAdjust="spacingAndGlyphs">40°S</text>
<text x="82.3" y="61.07" font-size="14.2" text-anchor="end" textLength="28.6" lengthAdjust="spacingAndGlyphs">50°S</text>
<text x="82.3" y="96.17" font-size="14.2" text-anchor="end" textLength="28.6" lengthAdjust="spacingAndGlyphs">60°S</text>
<text x="82.3" y="144.12" font-size="14.2" text-anchor="end" textLength="28.6" lengthAdjust="spacingAndGlyphs">70°S</text>
<text transform="translate(19.5,70.00) rotate(-90)" font-size="16" text-anchor="middle" textLength="48.8" lengthAdjust="spacingAndGlyphs">precip</text>
<text transform="translate(35.5,70.00) rotate(-90)" font-size="16" text-anchor="middle" textLength="178.0" lengthAdjust="spacingAndGlyphs">(layer max dbz gt -15)</text>
</g>
<rect x="890.2" y="80.30" width="8.3" height="156.20" fill="url(#cg)" stroke="#000" stroke-width="0.8"/>
<line x1="888.8" y1="236.50" x2="890.2" y2="236.50" stroke="#000" stroke-width="0.7"/>
<line x1="888.8" y1="228.49" x2="890.2" y2="228.49" stroke="#000" stroke-width="0.7"/>
<line x1="888.8" y1="220.48" x2="890.2" y2="220.48" stroke="#000" stroke-width="0.7"/>
<line x1="888.8" y1="212.47" x2="890.2" y2="212.47" stroke="#000" stroke-width="0.7"/>
<line x1="888.8" y1="204.46" x2="890.2" y2="204.46" stroke="#000" stroke-width="0.7"/>
<line x1="888.8" y1="196.45" x2="890.2" y2="196.45" stroke="#000" stroke-width="0.7"/>
<line x1="888.8" y1="188.44" x2="890.2" y2="188.44" stroke="#000" stroke-width="0.7"/>
<line x1="888.8" y1="180.43" x2="890.2" y2="180.43" stroke="#000" stroke-width="0.7"/>
<line x1="888.8" y1="172.42" x2="890.2" y2="172.42" stroke="#000" stroke-width="0.7"/>
<line x1="888.8" y1="164.41" x2="890.2" y2="164.41" stroke="#000" stroke-width="0.7"/>
<line x1="888.8" y1="156.40" x2="890.2" y2="156.40" stroke="#000" stroke-width="0.7"/>
<line x1="888.8" y1="148.39" x2="890.2" y2="148.39" stroke="#000" stroke-width="0.7"/>
<line x1="888.8" y1="140.38" x2="890.2" y2="140.38" stroke="#000" stroke-width="0.7"/>
<line x1="888.8" y1="132.37" x2="890.2" y2="132.37" stroke="#000" stroke-width="0.7"/>
<line x1="888.8" y1="124.36" x2="890.2" y2="124.36" stroke="#000" stroke-width="0.7"/>
<line x1="888.8" y1="116.35" x2="890.2" y2="116.35" stroke="#000" stroke-width="0.7"/>
<line x1="888.8" y1="108.34" x2="890.2" y2="108.34" stroke="#000" stroke-width="0.7"/>
<line x1="888.8" y1="100.33" x2="890.2" y2="100.33" stroke="#000" stroke-width="0.7"/>
<line x1="888.8" y1="92.32" x2="890.2" y2="92.32" stroke="#000" stroke-width="0.7"/>
<line x1="888.8" y1="84.31" x2="890.2" y2="84.31" stroke="#000" stroke-width="0.7"/>
<line x1="887.6" y1="236.50" x2="890.2" y2="236.50" stroke="#000" stroke-width="0.8"/>
<text x="882.6" y="240.40" font-size="12.6" text-anchor="end" textLength="19.0" lengthAdjust="spacingAndGlyphs">0.0</text>
<line x1="887.6" y1="204.46" x2="890.2" y2="204.46" stroke="#000" stroke-width="0.8"/>
<text x="882.6" y="208.36" font-size="12.6" text-anchor="end" textLength="19.0" lengthAdjust="spacingAndGlyphs">0.2</text>
<line x1="887.6" y1="172.42" x2="890.2" y2="172.42" stroke="#000" stroke-width="0.8"/>
<text x="882.6" y="176.32" font-size="12.6" text-anchor="end" textLength="19.0" lengthAdjust="spacingAndGlyphs">0.4</text>
<line x1="887.6" y1="140.38" x2="890.2" y2="140.38" stroke="#000" stroke-width="0.8"/>
<text x="882.6" y="144.28" font-size="12.6" text-anchor="end" textLength="19.0" lengthAdjust="spacingAndGlyphs">0.6</text>
<line x1="887.6" y1="108.34" x2="890.2" y2="108.34" stroke="#000" stroke-width="0.8"/>
<text x="882.6" y="112.24" font-size="12.6" text-anchor="end" textLength="19.0" lengthAdjust="spacingAndGlyphs">0.8</text>
<text transform="translate(854.6,158.40) rotate(-90)" font-size="12" text-anchor="middle" textLength="59" lengthAdjust="spacingAndGlyphs">frequency</text>
<g transform="translate(0,264)">
<rect x="88" y="0" width="723.70" height="140" fill="#000"/>
<g shape-rendering="crispEdges" transform="translate(92.00,0) scale(8.0416,1)">
<path fill="#510081" d="M0 28.0h1v4.1h-1zM51 28.0h1v4.1h-1zM53 28.0h1v4.1h-1zM82 28.0h1v4.1h-1zM88 28.0h1v4.1h-1zM14 32.0h1v2.1h-1zM36 32.0h1v2.1h-1zM52 32.0h2v2.1h-2zM15 34.0h1v4.1h-1zM64 34.0h1v4.1h-1zM88 34.0h1v4.1h-1zM8 38.0h1v2.1h-1zM35 38.0h1v2.1h-1zM8 40.0h1v2.1h-1zM13 40.0h1v2.1h-1zM36 40.0h1v2.1h-1zM62 40.0h2v2.1h-2zM66 40.0h2v2.1h-2zM79 40.0h1v2.1h-1zM3 42.0h1v4.1h-1zM31 42.0h1v4.1h-1zM46 42.0h1v4.1h-1zM83 42.0h1v4.1h-1zM4 46.0h1v2.1h-1zM11 46.0h1v2.1h-1zM36 46.0h1v2.1h-1zM50 48.0h1v4.1h-1zM35 52.0h1v2.1h-1zM37 52.0h1v2.1h-1zM46 52.0h1v2.1h-1zM59 52.0h1v2.1h-1zM65 52.0h1v2.1h-1zM83 52.0h1v2.1h-1zM59 54.0h1v4.1h-1zM80 54.0h1v4.1h-1zM83 54.0h1v4.1h-1zM59 58.0h1v4.1h-1zM82 62.0h1v2.1h-1zM84 62.0h1v2.1h-1zM59 68.0h1v4.1h-1zM3 74.0h1v4.1h-1zM54 74.0h1v4.1h-1zM55 78.0h1v4.1h-1zM82 78.0h1v4.1h-1zM76 82.0h1v4.1h-1zM3 86.0h1v4.1h-1zM23 94.0h1v4.1h-1zM76 94.0h1v4.1h-1zM0 98.0h1v4.1h-1zM21 98.0h1v4.1h-1zM50 98.0h1v4.1h-1zM72 98.0h2v4.1h-2zM0 106.0h1v6.1h-1zM14 106.0h1v6.1h-1zM21 106.0h1v6.1h-1zM31 106.0h1v6.1h-1z"/>
<path fill="#4100c8" d="M1 28.0h1v4.1h-1zM8 28.0h1v4.1h-1zM31 28.0h1v4.1h-1zM34 28.0h1v4.1h-1zM52 28.0h1v4.1h-1zM83 28.0h1v4.1h-1zM35 32.0h1v2.1h-1zM44 32.0h1v2.1h-1zM73 32.0h1v2.1h-1zM8 34.0h1v4.1h-1zM78 34.0h1v4.1h-1zM7 38.0h1v2.1h-1zM29 38.0h1v2.1h-1zM49 38.0h1v2.1h-1zM56 38.0h1v2.1h-1zM61 38.0h1v2.1h-1zM82 38.0h1v2.1h-1zM81 40.0h1v2.1h-1zM86 40.0h1v2.1h-1zM9 42.0h1v4.1h-1zM33 42.0h1v4.1h-1zM54 42.0h1v4.1h-1zM30 46.0h1v2.1h-1zM35 46.0h1v2.1h-1zM7 48.0h1v4.1h-1zM10 48.0h1v4.1h-1zM12 48.0h1v4.1h-1zM16 48.0h1v4.1h-1zM42 48.0h1v4.1h-1zM44 48.0h1v4.1h-1zM86 48.0h1v4.1h-1zM10 52.0h1v2.1h-1zM17 52.0h1v2.1h-1zM44 52.0h1v2.1h-1zM69 52.0h1v2.1h-1zM76 52.0h1v2.1h-1zM19 54.0h1v4.1h-1zM37 54.0h1v4.1h-1zM63 54.0h1v4.1h-1zM74 54.0h1v4.1h-1zM85 54.0h1v4.1h-1zM10 58.0h1v4.1h-1zM13 58.0h1v4.1h-1zM36 58.0h1v4.1h-1zM82 58.0h1v4.1h-1zM84 58.0h1v4.1h-1zM88 58.0h1v4.1h-1zM41 62.0h1v2.1h-1zM5 64.0h1v4.1h-1zM18 64.0h1v4.1h-1zM20 64.0h1v4.1h-1zM58 64.0h1v4.1h-1zM30 68.0h1v4.1h-1zM56 68.0h1v4.1h-1zM83 68.0h1v4.1h-1zM14 72.0h1v2.1h-1zM19 72.0h1v2.1h-1zM54 72.0h1v2.1h-1zM59 72.0h1v2.1h-1zM79 72.0h1v2.1h-1zM88 72.0h1v2.1h-1zM11 74.0h1v4.1h-1zM23 74.0h1v4.1h-1zM28 74.0h1v4.1h-1zM57 74.0h1v4.1h-1zM85 74.0h1v4.1h-1zM32 78.0h1v4.1h-1zM39 78.0h1v4.1h-1zM58 78.0h1v4.1h-1zM28 82.0h1v4.1h-1zM81 82.0h1v4.1h-1zM5 86.0h2v4.1h-2zM25 86.0h1v4.1h-1zM58 86.0h1v4.1h-1zM25 90.0h1v4.1h-1zM87 90.0h1v4.1h-1zM24 98.0h1v4.1h-1zM31 98.0h1v4.1h-1zM51 98.0h1v4.1h-1zM0 102.0h1v4.1h-1zM74 102.0h1v4.1h-1zM13 106.0h1v6.1h-1zM19 112.0h1v4.1h-1zM76 112.0h1v4.1h-1zM83 112.0h1v4.1h-1zM86 112.0h1v4.1h-1z"/>
<path fill="#2d00e6" d="M2 28.0h1v4.1h-1zM13 28.0h1v4.1h-1zM39 28.0h1v4.1h-1zM22 32.0h1v2.1h-1zM62 32.0h1v2.1h-1zM78 32.0h1v2.1h-1zM80 32.0h1v2.1h-1zM3 34.0h1v4.1h-1zM16 34.0h1v4.1h-1zM72 34.0h1v4.1h-1zM57 38.0h1v2.1h-1zM77 38.0h1v2.1h-1zM4 40.0h1v2.1h-1zM56 40.0h2v2.1h-2zM70 40.0h1v2.1h-1zM18 42.0h1v4.1h-1zM34 42.0h1v4.1h-1zM47 42.0h1v4.1h-1zM0 46.0h2v2.1h-2zM21 46.0h1v2.1h-1zM33 48.0h1v4.1h-1zM41 48.0h1v4.1h-1zM48 48.0h1v4.1h-1zM0 52.0h1v2.1h-1zM16 52.0h1v2.1h-1zM39 52.0h1v2.1h-1zM42 52.0h1v2.1h-1zM53 52.0h1v2.1h-1zM3 54.0h1v4.1h-1zM18 54.0h1v4.1h-1zM33 54.0h1v4.1h-1zM48 54.0h1v4.1h-1zM56 54.0h1v4.1h-1zM73 54.0h1v4.1h-1zM82 54.0h1v4.1h-1zM21 58.0h1v4.1h-1zM32 58.0h1v4.1h-1zM37 58.0h1v4.1h-1zM39 58.0h1v4.1h-1zM63 58.0h1v4.1h-1zM13 62.0h1v2.1h-1zM35 62.0h1v2.1h-1zM53 62.0h1v2.1h-1zM11 64.0h1v4.1h-1zM15 64.0h1v4.1h-1zM41 64.0h1v4.1h-1zM43 64.0h1v4.1h-1zM12 72.0h1v2.1h-1zM32 72.0h1v2.1h-1zM37 72.0h1v2.1h-1zM70 72.0h1v2.1h-1zM21 74.0h1v4.1h-1zM83 74.0h1v4.1h-1zM35 78.0h1v4.1h-1zM50 78.0h1v4.1h-1zM59 78.0h1v4.1h-1zM61 78.0h1v4.1h-1zM64 78.0h1v4.1h-1zM76 78.0h1v4.1h-1zM79 78.0h1v4.1h-1zM55 82.0h1v4.1h-1zM18 86.0h1v4.1h-1zM21 86.0h1v4.1h-1zM71 86.0h1v4.1h-1zM85 86.0h1v4.1h-1zM17 90.0h1v4.1h-1zM21 90.0h1v4.1h-1zM72 90.0h1v4.1h-1zM13 94.0h1v4.1h-1zM16 94.0h1v4.1h-1zM38 94.0h1v4.1h-1zM49 94.0h1v4.1h-1zM56 94.0h1v4.1h-1zM63 94.0h1v4.1h-1zM81 98.0h1v4.1h-1zM83 98.0h1v4.1h-1zM10 102.0h1v4.1h-1zM12 102.0h1v4.1h-1zM31 102.0h1v4.1h-1zM34 102.0h1v4.1h-1zM49 102.0h1v4.1h-1zM3 112.0h1v4.1h-1zM6 112.0h1v4.1h-1zM30 112.0h1v4.1h-1zM61 112.0h1v4.1h-1z"/>
<path fill="#003dff" d="M3 28.0h1v4.1h-1zM42 28.0h2v4.1h-2zM6 32.0h1v2.1h-1zM10 32.0h1v2.1h-1zM20 32.0h1v2.1h-1zM42 32.0h1v2.1h-1zM76 32.0h1v2.1h-1zM86 32.0h1v2.1h-1zM24 38.0h1v2.1h-1zM73 38.0h1v2.1h-1zM84 38.0h1v2.1h-1zM22 40.0h1v2.1h-1zM61 40.0h1v2.1h-1zM77 40.0h1v2.1h-1zM23 42.0h1v4.1h-1zM56 42.0h1v4.1h-1zM41 46.0h1v2.1h-1zM43 46.0h1v2.1h-1zM45 46.0h1v2.1h-1zM70 46.0h1v2.1h-1zM15 48.0h1v4.1h-1zM61 48.0h1v4.1h-1zM63 48.0h1v4.1h-1zM70 48.0h1v4.1h-1zM28 52.0h1v2.1h-1zM55 52.0h1v2.1h-1zM68 52.0h1v2.1h-1zM74 52.0h1v2.1h-1zM78 52.0h1v2.1h-1zM39 54.0h1v4.1h-1zM60 54.0h1v4.1h-1zM54 58.0h1v4.1h-1zM75 58.0h1v4.1h-1zM27 62.0h1v2.1h-1zM55 62.0h1v2.1h-1zM63 62.0h1v2.1h-1zM83 62.0h1v2.1h-1zM88 62.0h1v2.1h-1zM77 64.0h2v4.1h-2zM81 64.0h1v4.1h-1zM19 68.0h1v4.1h-1zM33 68.0h1v4.1h-1zM44 68.0h1v4.1h-1zM60 68.0h1v4.1h-1zM33 72.0h1v2.1h-1zM41 72.0h1v2.1h-1zM44 72.0h1v2.1h-1zM57 72.0h1v2.1h-1zM77 72.0h2v2.1h-2zM33 74.0h1v4.1h-1zM72 74.0h1v4.1h-1zM81 74.0h1v4.1h-1zM9 78.0h1v4.1h-1zM16 82.0h1v4.1h-1zM36 82.0h1v4.1h-1zM54 82.0h1v4.1h-1zM8 86.0h1v4.1h-1zM22 86.0h1v4.1h-1zM20 90.0h1v4.1h-1zM56 90.0h1v4.1h-1zM69 90.0h1v4.1h-1zM5 94.0h1v4.1h-1zM29 94.0h1v4.1h-1zM68 94.0h1v4.1h-1zM70 94.0h1v4.1h-1zM18 98.0h1v4.1h-1zM26 98.0h1v4.1h-1zM32 98.0h1v4.1h-1zM79 98.0h1v4.1h-1zM29 102.0h1v4.1h-1zM41 102.0h1v4.1h-1zM60 102.0h1v4.1h-1zM32 106.0h1v6.1h-1zM41 106.0h1v6.1h-1zM4 112.0h1v4.1h-1zM33 112.0h1v4.1h-1zM43 112.0h1v4.1h-1zM51 112.0h1v4.1h-1z"/>
<path fill="#0600fb" d="M4 28.0h1v4.1h-1zM16 28.0h1v4.1h-1zM27 28.0h1v4.1h-1zM31 32.0h1v2.1h-1zM55 32.0h1v2.1h-1zM33 34.0h1v4.1h-1zM38 34.0h1v4.1h-1zM48 34.0h1v4.1h-1zM53 34.0h1v4.1h-1zM74 34.0h1v4.1h-1zM31 38.0h1v2.1h-1zM2 40.0h1v2.1h-1zM45 40.0h1v2.1h-1zM48 40.0h1v2.1h-1zM55 40.0h1v2.1h-1zM82 40.0h1v2.1h-1zM6 42.0h1v4.1h-1zM8 42.0h1v4.1h-1zM35 42.0h2v4.1h-2zM77 42.0h1v4.1h-1zM86 42.0h1v4.1h-1zM23 48.0h1v4.1h-1zM37 48.0h1v4.1h-1zM64 48.0h1v4.1h-1zM8 52.0h1v2.1h-1zM22 52.0h1v2.1h-1zM88 52.0h1v2.1h-1zM38 54.0h1v4.1h-1zM65 54.0h1v4.1h-1zM3 58.0h3v4.1h-3zM61 58.0h1v4.1h-1zM74 58.0h1v4.1h-1zM79 58.0h1v4.1h-1zM5 62.0h1v2.1h-1zM40 62.0h1v2.1h-1zM49 62.0h1v2.1h-1zM51 62.0h1v2.1h-1zM1 64.0h1v4.1h-1zM10 64.0h1v4.1h-1zM36 64.0h1v4.1h-1zM51 64.0h1v4.1h-1zM68 64.0h1v4.1h-1zM0 68.0h1v4.1h-1zM6 68.0h1v4.1h-1zM17 68.0h1v4.1h-1zM0 72.0h1v2.1h-1zM6 72.0h1v2.1h-1zM51 72.0h1v2.1h-1zM71 72.0h2v2.1h-2zM83 72.0h1v2.1h-1zM12 74.0h1v4.1h-1zM14 74.0h1v4.1h-1zM31 74.0h1v4.1h-1zM39 74.0h1v4.1h-1zM13 78.0h2v4.1h-2zM16 78.0h1v4.1h-1zM22 78.0h1v4.1h-1zM26 78.0h1v4.1h-1zM45 78.0h1v4.1h-1zM78 78.0h1v4.1h-1zM12 82.0h1v4.1h-1zM11 86.0h1v4.1h-1zM49 86.0h1v4.1h-1zM64 86.0h1v4.1h-1zM11 90.0h1v4.1h-1zM29 90.0h1v4.1h-1zM32 90.0h1v4.1h-1zM53 90.0h1v4.1h-1zM79 90.0h2v4.1h-2zM82 90.0h1v4.1h-1zM84 90.0h1v4.1h-1zM12 94.0h1v4.1h-1zM62 94.0h1v4.1h-1zM64 94.0h1v4.1h-1zM78 94.0h1v4.1h-1zM86 94.0h1v4.1h-1zM10 98.0h1v4.1h-1zM19 98.0h1v4.1h-1zM47 98.0h1v4.1h-1zM60 98.0h1v4.1h-1zM4 102.0h1v4.1h-1zM14 102.0h2v4.1h-2zM24 102.0h1v4.1h-1zM51 102.0h1v4.1h-1zM86 102.0h1v4.1h-1zM24 106.0h1v6.1h-1zM34 106.0h1v6.1h-1zM39 106.0h1v6.1h-1zM48 106.0h1v6.1h-1z"/>
<path fill="#5500aa" d="M5 28.0h1v4.1h-1zM63 28.0h1v4.1h-1zM67 28.0h1v4.1h-1zM17 32.0h1v2.1h-1zM39 32.0h1v2.1h-1zM67 32.0h1v2.1h-1zM74 32.0h1v2.1h-1zM83 32.0h2v2.1h-2zM87 32.0h2v2.1h-2zM28 34.0h1v4.1h-1zM44 34.0h1v4.1h-1zM60 34.0h1v4.1h-1zM80 34.0h1v4.1h-1zM13 38.0h1v2.1h-1zM51 38.0h1v2.1h-1zM18 40.0h1v2.1h-1zM29 40.0h1v2.1h-1zM85 40.0h1v2.1h-1zM12 42.0h1v4.1h-1zM15 42.0h1v4.1h-1zM44 42.0h1v4.1h-1zM8 46.0h2v2.1h-2zM18 46.0h1v2.1h-1zM33 46.0h1v2.1h-1zM63 46.0h1v2.1h-1zM69 46.0h1v2.1h-1zM3 48.0h1v4.1h-1zM5 48.0h1v4.1h-1zM3 52.0h1v2.1h-1zM50 52.0h1v2.1h-1zM52 52.0h1v2.1h-1zM67 52.0h1v2.1h-1zM55 58.0h1v4.1h-1zM1 62.0h1v2.1h-1zM70 62.0h1v2.1h-1zM13 64.0h1v4.1h-1zM40 64.0h1v4.1h-1zM59 64.0h1v4.1h-1zM28 68.0h1v4.1h-1zM88 68.0h1v4.1h-1zM3 72.0h1v2.1h-1zM8 74.0h1v4.1h-1zM30 74.0h1v4.1h-1zM42 74.0h1v4.1h-1zM45 74.0h1v4.1h-1zM79 74.0h1v4.1h-1zM23 78.0h1v4.1h-1zM37 78.0h1v4.1h-1zM10 82.0h1v4.1h-1zM27 82.0h1v4.1h-1zM35 82.0h1v4.1h-1zM37 82.0h1v4.1h-1zM52 82.0h1v4.1h-1zM85 82.0h1v4.1h-1zM0 86.0h1v4.1h-1zM23 86.0h1v4.1h-1zM76 90.0h1v4.1h-1zM77 94.0h1v4.1h-1zM11 98.0h1v4.1h-1zM41 98.0h1v4.1h-1zM87 98.0h1v4.1h-1zM11 102.0h1v4.1h-1zM75 102.0h1v4.1h-1zM6 106.0h1v6.1h-1zM40 106.0h1v6.1h-1z"/>
<path fill="#006eff" d="M6 28.0h1v4.1h-1zM43 32.0h1v2.1h-1zM71 32.0h1v2.1h-1zM32 38.0h1v2.1h-1zM54 40.0h1v2.1h-1zM75 40.0h1v2.1h-1zM87 40.0h1v2.1h-1zM5 42.0h1v4.1h-1zM59 42.0h1v4.1h-1zM66 42.0h1v4.1h-1zM7 46.0h1v2.1h-1zM19 48.0h1v4.1h-1zM23 52.0h1v2.1h-1zM9 54.0h1v4.1h-1zM22 54.0h1v4.1h-1zM57 54.0h1v4.1h-1zM62 54.0h1v4.1h-1zM81 54.0h1v4.1h-1zM88 54.0h1v4.1h-1zM35 58.0h1v4.1h-1zM38 58.0h1v4.1h-1zM40 58.0h1v4.1h-1zM52 58.0h1v4.1h-1zM58 58.0h1v4.1h-1zM62 58.0h1v4.1h-1zM65 58.0h1v4.1h-1zM22 62.0h1v2.1h-1zM48 62.0h1v2.1h-1zM54 62.0h1v2.1h-1zM86 62.0h1v2.1h-1zM26 64.0h1v4.1h-1zM38 64.0h2v4.1h-2zM16 68.0h1v4.1h-1zM35 68.0h1v4.1h-1zM65 68.0h1v4.1h-1zM75 68.0h1v4.1h-1zM79 68.0h1v4.1h-1zM46 72.0h1v2.1h-1zM75 72.0h1v2.1h-1zM13 74.0h1v4.1h-1zM46 74.0h1v4.1h-1zM56 74.0h1v4.1h-1zM59 74.0h1v4.1h-1zM79 82.0h1v4.1h-1zM9 86.0h1v4.1h-1zM19 86.0h1v4.1h-1zM40 86.0h1v4.1h-1zM47 86.0h1v4.1h-1zM22 90.0h1v4.1h-1zM33 90.0h1v4.1h-1zM40 90.0h1v4.1h-1zM47 90.0h1v4.1h-1zM59 90.0h1v4.1h-1zM68 90.0h1v4.1h-1zM70 90.0h1v4.1h-1zM32 94.0h1v4.1h-1zM42 94.0h1v4.1h-1zM58 94.0h1v4.1h-1zM61 94.0h1v4.1h-1zM45 98.0h1v4.1h-1zM70 98.0h2v4.1h-2zM30 102.0h1v4.1h-1zM66 102.0h1v4.1h-1zM69 102.0h1v4.1h-1zM52 106.0h1v6.1h-1zM58 106.0h1v6.1h-1zM65 106.0h1v6.1h-1zM1 112.0h2v4.1h-2zM5 112.0h1v4.1h-1zM16 112.0h1v4.1h-1zM56 112.0h1v4.1h-1z"/>
<path fill="#2000ed" d="M7 28.0h1v4.1h-1zM40 28.0h1v4.1h-1zM69 28.0h1v4.1h-1zM15 32.0h2v2.1h-2zM46 32.0h1v2.1h-1zM58 32.0h1v2.1h-1zM79 32.0h1v2.1h-1zM81 32.0h1v2.1h-1zM2 34.0h1v4.1h-1zM4 34.0h1v4.1h-1zM18 34.0h1v4.1h-1zM39 34.0h1v4.1h-1zM71 34.0h1v4.1h-1zM76 34.0h2v4.1h-2zM18 38.0h1v2.1h-1zM80 38.0h1v2.1h-1zM16 40.0h1v2.1h-1zM19 40.0h1v2.1h-1zM30 40.0h1v2.1h-1zM53 40.0h1v2.1h-1zM64 40.0h1v2.1h-1zM78 40.0h1v2.1h-1zM13 42.0h1v4.1h-1zM20 42.0h1v4.1h-1zM55 42.0h1v4.1h-1zM73 42.0h1v4.1h-1zM39 46.0h1v2.1h-1zM44 46.0h1v2.1h-1zM66 46.0h1v2.1h-1zM73 46.0h1v2.1h-1zM83 46.0h1v2.1h-1zM86 46.0h1v2.1h-1zM2 48.0h1v4.1h-1zM53 48.0h1v4.1h-1zM58 48.0h1v4.1h-1zM9 52.0h1v2.1h-1zM19 52.0h1v2.1h-1zM62 52.0h1v2.1h-1zM64 52.0h1v2.1h-1zM1 54.0h1v4.1h-1zM10 54.0h1v4.1h-1zM40 54.0h1v4.1h-1zM47 54.0h1v4.1h-1zM64 54.0h1v4.1h-1zM70 54.0h1v4.1h-1zM78 54.0h1v4.1h-1zM83 58.0h1v4.1h-1zM86 58.0h1v4.1h-1zM15 62.0h1v2.1h-1zM38 62.0h1v2.1h-1zM61 62.0h1v2.1h-1zM75 62.0h1v2.1h-1zM85 62.0h1v2.1h-1zM2 64.0h1v4.1h-1zM64 64.0h1v4.1h-1zM2 68.0h1v4.1h-1zM7 68.0h1v4.1h-1zM11 68.0h1v4.1h-1zM52 68.0h1v4.1h-1zM72 68.0h1v4.1h-1zM78 68.0h1v4.1h-1zM74 72.0h1v2.1h-1zM84 72.0h1v2.1h-1zM24 74.0h1v4.1h-1zM27 74.0h1v4.1h-1zM50 74.0h1v4.1h-1zM64 74.0h1v4.1h-1zM82 74.0h1v4.1h-1zM20 78.0h1v4.1h-1zM33 78.0h1v4.1h-1zM51 78.0h1v4.1h-1zM2 82.0h1v4.1h-1zM64 82.0h1v4.1h-1zM78 82.0h1v4.1h-1zM20 86.0h1v4.1h-1zM34 86.0h1v4.1h-1zM59 86.0h1v4.1h-1zM4 90.0h1v4.1h-1zM10 90.0h1v4.1h-1zM15 90.0h1v4.1h-1zM74 90.0h1v4.1h-1zM78 90.0h1v4.1h-1zM15 94.0h1v4.1h-1zM83 94.0h1v4.1h-1zM15 98.0h1v4.1h-1zM43 98.0h1v4.1h-1zM32 102.0h1v4.1h-1zM76 102.0h1v4.1h-1zM37 106.0h1v6.1h-1zM67 106.0h1v6.1h-1zM84 106.0h1v6.1h-1zM22 112.0h1v4.1h-1zM62 112.0h1v4.1h-1zM78 112.0h1v4.1h-1zM81 112.0h1v4.1h-1z"/>
<path fill="#44005a" d="M9 28.0h1v4.1h-1zM73 28.0h1v4.1h-1zM60 38.0h1v2.1h-1zM85 38.0h1v2.1h-1zM72 40.0h1v2.1h-1zM10 42.0h1v4.1h-1zM28 42.0h1v4.1h-1zM51 46.0h1v2.1h-1zM46 48.0h1v4.1h-1zM56 58.0h1v4.1h-1zM73 58.0h1v4.1h-1zM29 62.0h1v2.1h-1zM21 64.0h1v4.1h-1zM61 68.0h1v4.1h-1zM4 72.0h1v2.1h-1zM20 74.0h1v4.1h-1zM25 82.0h1v4.1h-1zM53 82.0h1v4.1h-1zM85 106.0h1v6.1h-1zM0 112.0h1v4.1h-1z"/>
<path fill="#1300f4" d="M10 28.0h1v4.1h-1zM18 28.0h1v4.1h-1zM48 28.0h1v4.1h-1zM60 28.0h1v4.1h-1zM63 32.0h1v2.1h-1zM42 34.0h1v4.1h-1zM61 34.0h2v4.1h-2zM82 34.0h1v4.1h-1zM2 38.0h1v2.1h-1zM38 38.0h1v2.1h-1zM46 38.0h1v2.1h-1zM48 38.0h1v2.1h-1zM76 38.0h1v2.1h-1zM86 38.0h1v2.1h-1zM1 40.0h1v2.1h-1zM7 40.0h1v2.1h-1zM11 40.0h1v2.1h-1zM15 40.0h1v2.1h-1zM32 40.0h2v2.1h-2zM42 40.0h1v2.1h-1zM74 40.0h1v2.1h-1zM84 40.0h1v2.1h-1zM88 40.0h1v2.1h-1zM14 42.0h1v4.1h-1zM38 42.0h3v4.1h-3zM42 42.0h1v4.1h-1zM64 42.0h1v4.1h-1zM58 46.0h1v2.1h-1zM64 46.0h1v2.1h-1zM71 46.0h1v2.1h-1zM74 46.0h1v2.1h-1zM17 48.0h1v4.1h-1zM40 48.0h1v4.1h-1zM72 48.0h2v4.1h-2zM78 48.0h1v4.1h-1zM81 48.0h1v4.1h-1zM83 48.0h1v4.1h-1zM51 52.0h1v2.1h-1zM61 52.0h1v2.1h-1zM72 52.0h1v2.1h-1zM0 54.0h1v4.1h-1zM35 54.0h1v4.1h-1zM41 54.0h1v4.1h-1zM79 54.0h1v4.1h-1zM11 58.0h1v4.1h-1zM34 58.0h1v4.1h-1zM53 58.0h1v4.1h-1zM64 58.0h1v4.1h-1zM80 58.0h1v4.1h-1zM72 62.0h1v2.1h-1zM7 64.0h2v4.1h-2zM33 64.0h1v4.1h-1zM62 64.0h1v4.1h-1zM75 64.0h1v4.1h-1zM37 68.0h1v4.1h-1zM43 68.0h1v4.1h-1zM9 72.0h1v2.1h-1zM55 72.0h1v2.1h-1zM61 72.0h1v2.1h-1zM25 74.0h2v4.1h-2zM76 74.0h2v4.1h-2zM30 78.0h1v4.1h-1zM72 78.0h1v4.1h-1zM81 78.0h1v4.1h-1zM31 82.0h1v4.1h-1zM44 82.0h1v4.1h-1zM58 82.0h1v4.1h-1zM39 86.0h1v4.1h-1zM62 86.0h1v4.1h-1zM76 86.0h1v4.1h-1zM80 86.0h1v4.1h-1zM1 90.0h2v4.1h-2zM7 90.0h1v4.1h-1zM13 90.0h1v4.1h-1zM16 90.0h1v4.1h-1zM18 90.0h1v4.1h-1zM23 90.0h1v4.1h-1zM86 90.0h1v4.1h-1zM48 94.0h1v4.1h-1zM52 94.0h1v4.1h-1zM74 94.0h1v4.1h-1zM13 98.0h1v4.1h-1zM69 98.0h1v4.1h-1zM84 98.0h2v4.1h-2zM45 102.0h1v4.1h-1zM49 106.0h1v6.1h-1zM51 106.0h1v6.1h-1zM54 106.0h1v6.1h-1zM13 112.0h1v4.1h-1zM17 112.0h1v4.1h-1zM37 112.0h1v4.1h-1zM46 112.0h1v4.1h-1zM79 112.0h1v4.1h-1zM84 112.0h1v4.1h-1z"/>
<path fill="#0006ff" d="M11 28.0h1v4.1h-1zM17 28.0h1v4.1h-1zM22 28.0h1v4.1h-1zM24 28.0h1v4.1h-1zM29 28.0h1v4.1h-1zM35 28.0h1v4.1h-1zM66 28.0h1v4.1h-1zM61 32.0h1v2.1h-1zM66 32.0h1v2.1h-1zM85 32.0h1v2.1h-1zM1 34.0h1v4.1h-1zM5 34.0h1v4.1h-1zM51 34.0h1v4.1h-1zM54 34.0h1v4.1h-1zM73 34.0h1v4.1h-1zM33 38.0h1v2.1h-1zM47 38.0h1v2.1h-1zM54 38.0h1v2.1h-1zM64 38.0h1v2.1h-1zM69 38.0h1v2.1h-1zM9 40.0h1v2.1h-1zM12 40.0h1v2.1h-1zM38 40.0h1v2.1h-1zM80 40.0h1v2.1h-1zM30 42.0h1v4.1h-1zM37 42.0h1v4.1h-1zM74 42.0h1v4.1h-1zM85 42.0h1v4.1h-1zM27 46.0h1v2.1h-1zM37 46.0h2v2.1h-2zM47 46.0h1v2.1h-1zM55 46.0h1v2.1h-1zM82 46.0h1v2.1h-1zM18 48.0h1v4.1h-1zM49 48.0h1v4.1h-1zM1 52.0h1v2.1h-1zM33 52.0h1v2.1h-1zM57 52.0h1v2.1h-1zM63 52.0h1v2.1h-1zM66 52.0h1v2.1h-1zM43 54.0h1v4.1h-1zM69 54.0h1v4.1h-1zM7 58.0h2v4.1h-2zM23 58.0h1v4.1h-1zM41 58.0h3v4.1h-3zM50 58.0h2v4.1h-2zM67 58.0h1v4.1h-1zM69 58.0h1v4.1h-1zM72 58.0h1v4.1h-1zM77 58.0h2v4.1h-2zM9 62.0h1v2.1h-1zM18 62.0h1v2.1h-1zM23 62.0h1v2.1h-1zM37 62.0h1v2.1h-1zM42 62.0h1v2.1h-1zM0 64.0h1v4.1h-1zM17 64.0h1v4.1h-1zM19 64.0h1v4.1h-1zM22 64.0h1v4.1h-1zM60 64.0h1v4.1h-1zM72 64.0h1v4.1h-1zM8 68.0h1v4.1h-1zM23 68.0h1v4.1h-1zM49 68.0h1v4.1h-1zM51 68.0h1v4.1h-1zM22 72.0h1v2.1h-1zM26 72.0h2v2.1h-2zM15 74.0h1v4.1h-1zM19 74.0h1v4.1h-1zM40 74.0h2v4.1h-2zM73 74.0h1v4.1h-1zM8 78.0h1v4.1h-1zM21 78.0h1v4.1h-1zM68 78.0h2v4.1h-2zM7 82.0h1v4.1h-1zM9 82.0h1v4.1h-1zM21 82.0h1v4.1h-1zM42 82.0h1v4.1h-1zM68 82.0h1v4.1h-1zM87 82.0h1v4.1h-1zM33 86.0h1v4.1h-1zM43 86.0h2v4.1h-2zM56 86.0h1v4.1h-1zM63 86.0h1v4.1h-1zM4 94.0h1v4.1h-1zM18 94.0h1v4.1h-1zM60 94.0h1v4.1h-1zM79 94.0h1v4.1h-1zM81 94.0h1v4.1h-1zM12 98.0h1v4.1h-1zM52 98.0h1v4.1h-1zM63 98.0h1v4.1h-1zM78 98.0h1v4.1h-1zM22 102.0h1v4.1h-1zM26 102.0h1v4.1h-1zM40 102.0h1v4.1h-1zM2 106.0h1v6.1h-1zM43 106.0h1v6.1h-1zM68 106.0h1v6.1h-1zM78 106.0h1v6.1h-1zM57 112.0h1v4.1h-1zM74 112.0h1v4.1h-1z"/>
<path fill="#0020ff" d="M12 28.0h1v4.1h-1zM28 28.0h1v4.1h-1zM49 28.0h1v4.1h-1zM72 28.0h1v4.1h-1zM77 28.0h1v4.1h-1zM2 32.0h1v2.1h-1zM48 32.0h1v2.1h-1zM57 32.0h1v2.1h-1zM30 34.0h1v4.1h-1zM58 34.0h2v4.1h-2zM67 34.0h1v4.1h-1zM79 34.0h1v4.1h-1zM86 34.0h1v4.1h-1zM67 38.0h1v2.1h-1zM70 38.0h1v2.1h-1zM79 38.0h1v2.1h-1zM5 40.0h1v2.1h-1zM37 40.0h1v2.1h-1zM27 42.0h1v4.1h-1zM57 42.0h1v4.1h-1zM84 42.0h1v4.1h-1zM40 46.0h1v2.1h-1zM42 46.0h1v2.1h-1zM67 46.0h1v2.1h-1zM87 46.0h1v2.1h-1zM1 48.0h1v4.1h-1zM34 48.0h1v4.1h-1zM55 48.0h1v4.1h-1zM62 48.0h1v4.1h-1zM66 48.0h2v4.1h-2zM75 48.0h1v4.1h-1zM88 48.0h1v4.1h-1zM2 52.0h1v2.1h-1zM18 52.0h1v2.1h-1zM41 52.0h1v2.1h-1zM60 52.0h1v2.1h-1zM71 52.0h1v2.1h-1zM16 54.0h1v4.1h-1zM27 54.0h1v4.1h-1zM72 54.0h1v4.1h-1zM6 62.0h1v2.1h-1zM62 62.0h1v2.1h-1zM68 62.0h2v2.1h-2zM77 62.0h1v2.1h-1zM48 64.0h1v4.1h-1zM54 64.0h1v4.1h-1zM12 68.0h1v4.1h-1zM40 68.0h1v4.1h-1zM42 68.0h1v4.1h-1zM17 72.0h1v2.1h-1zM49 72.0h1v2.1h-1zM56 72.0h1v2.1h-1zM67 72.0h1v2.1h-1zM69 72.0h1v2.1h-1zM87 72.0h1v2.1h-1zM2 74.0h1v4.1h-1zM17 74.0h1v4.1h-1zM29 74.0h1v4.1h-1zM36 74.0h1v4.1h-1zM38 74.0h1v4.1h-1zM52 74.0h1v4.1h-1zM55 74.0h1v4.1h-1zM80 74.0h1v4.1h-1zM5 78.0h1v4.1h-1zM36 78.0h1v4.1h-1zM42 78.0h1v4.1h-1zM54 78.0h1v4.1h-1zM11 82.0h1v4.1h-1zM18 82.0h1v4.1h-1zM50 82.0h1v4.1h-1zM62 82.0h1v4.1h-1zM86 82.0h1v4.1h-1zM35 86.0h1v4.1h-1zM37 86.0h1v4.1h-1zM50 86.0h1v4.1h-1zM61 86.0h1v4.1h-1zM66 86.0h1v4.1h-1zM74 86.0h1v4.1h-1zM79 86.0h1v4.1h-1zM88 86.0h1v4.1h-1zM2 94.0h1v4.1h-1zM10 94.0h1v4.1h-1zM19 94.0h1v4.1h-1zM53 94.0h1v4.1h-1zM72 94.0h1v4.1h-1zM85 94.0h1v4.1h-1zM88 94.0h1v4.1h-1zM9 98.0h1v4.1h-1zM62 98.0h1v4.1h-1zM9 102.0h1v4.1h-1zM79 102.0h1v4.1h-1zM30 106.0h1v6.1h-1zM42 106.0h1v6.1h-1zM79 106.0h1v6.1h-1zM8 112.0h1v4.1h-1z"/>
<path fill="#0013ff" d="M14 28.0h1v4.1h-1zM71 28.0h1v4.1h-1zM79 28.0h1v4.1h-1zM85 28.0h1v4.1h-1zM24 32.0h1v2.1h-1zM33 32.0h1v2.1h-1zM11 34.0h1v4.1h-1zM29 34.0h1v4.1h-1zM46 34.0h1v4.1h-1zM68 34.0h1v4.1h-1zM81 34.0h1v4.1h-1zM26 38.0h1v2.1h-1zM59 40.0h1v2.1h-1zM2 42.0h1v4.1h-1zM7 42.0h1v4.1h-1zM11 42.0h1v4.1h-1zM52 42.0h1v4.1h-1zM19 46.0h1v2.1h-1zM62 46.0h1v2.1h-1zM20 48.0h1v4.1h-1zM60 48.0h1v4.1h-1zM14 52.0h1v2.1h-1zM20 52.0h1v2.1h-1zM54 52.0h1v2.1h-1zM70 52.0h1v2.1h-1zM73 52.0h1v2.1h-1zM84 52.0h2v2.1h-2zM23 54.0h1v4.1h-1zM55 54.0h1v4.1h-1zM68 54.0h1v4.1h-1zM18 58.0h1v4.1h-1zM47 58.0h1v4.1h-1zM68 58.0h1v4.1h-1zM85 58.0h1v4.1h-1zM12 62.0h1v2.1h-1zM36 62.0h1v2.1h-1zM39 62.0h1v2.1h-1zM64 62.0h1v2.1h-1zM78 62.0h1v2.1h-1zM27 64.0h1v4.1h-1zM29 64.0h1v4.1h-1zM9 68.0h1v4.1h-1zM55 68.0h1v4.1h-1zM2 72.0h1v2.1h-1zM7 72.0h2v2.1h-2zM38 72.0h1v2.1h-1zM45 72.0h1v2.1h-1zM60 72.0h1v2.1h-1zM22 74.0h1v4.1h-1zM32 74.0h1v4.1h-1zM35 74.0h1v4.1h-1zM87 74.0h1v4.1h-1zM4 78.0h1v4.1h-1zM46 78.0h1v4.1h-1zM60 78.0h1v4.1h-1zM83 78.0h1v4.1h-1zM87 78.0h1v4.1h-1zM14 82.0h1v4.1h-1zM38 82.0h1v4.1h-1zM46 82.0h1v4.1h-1zM61 82.0h1v4.1h-1zM75 82.0h1v4.1h-1zM77 82.0h1v4.1h-1zM1 86.0h1v4.1h-1zM26 86.0h1v4.1h-1zM30 86.0h1v4.1h-1zM87 86.0h1v4.1h-1zM3 90.0h1v4.1h-1zM19 90.0h1v4.1h-1zM26 90.0h1v4.1h-1zM41 90.0h1v4.1h-1zM44 90.0h1v4.1h-1zM49 90.0h1v4.1h-1zM63 90.0h1v4.1h-1zM83 90.0h1v4.1h-1zM7 94.0h1v4.1h-1zM64 98.0h1v4.1h-1zM58 102.0h1v4.1h-1zM64 102.0h1v4.1h-1zM12 106.0h1v6.1h-1zM16 106.0h1v6.1h-1zM64 106.0h1v6.1h-1zM9 112.0h1v4.1h-1zM21 112.0h1v4.1h-1zM24 112.0h1v4.1h-1zM32 112.0h1v4.1h-1zM50 112.0h1v4.1h-1zM67 112.0h1v4.1h-1z"/>
<path fill="#4a0066" d="M15 28.0h1v4.1h-1zM36 28.0h1v4.1h-1zM30 32.0h1v2.1h-1zM7 34.0h1v4.1h-1zM19 34.0h1v4.1h-1zM21 34.0h1v4.1h-1zM34 34.0h1v4.1h-1zM37 34.0h1v4.1h-1zM40 34.0h1v4.1h-1zM15 38.0h1v2.1h-1zM52 38.0h1v2.1h-1zM10 40.0h1v2.1h-1zM34 40.0h1v2.1h-1zM16 42.0h1v4.1h-1zM49 42.0h1v4.1h-1zM10 46.0h1v2.1h-1zM31 48.0h1v4.1h-1zM36 48.0h1v4.1h-1zM39 48.0h1v4.1h-1zM51 48.0h1v4.1h-1zM31 52.0h1v2.1h-1zM2 54.0h1v4.1h-1zM31 54.0h1v4.1h-1zM1 58.0h1v4.1h-1zM56 62.0h1v2.1h-1zM9 64.0h1v4.1h-1zM84 68.0h1v4.1h-1zM51 74.0h1v4.1h-1zM70 74.0h1v4.1h-1zM25 78.0h1v4.1h-1zM80 82.0h1v4.1h-1zM60 86.0h1v4.1h-1zM73 86.0h1v4.1h-1zM77 90.0h1v4.1h-1zM0 94.0h1v4.1h-1zM1 102.0h1v4.1h-1z"/>
<path fill="#3700d7" d="M19 28.0h1v4.1h-1zM33 28.0h1v4.1h-1zM81 28.0h1v4.1h-1zM1 32.0h1v2.1h-1zM29 32.0h1v2.1h-1zM82 32.0h1v2.1h-1zM9 34.0h1v4.1h-1zM32 34.0h1v4.1h-1zM50 34.0h1v4.1h-1zM65 34.0h1v4.1h-1zM85 34.0h1v4.1h-1zM28 38.0h1v2.1h-1zM30 38.0h1v2.1h-1zM40 38.0h1v2.1h-1zM65 38.0h1v2.1h-1zM75 38.0h1v2.1h-1zM20 40.0h1v2.1h-1zM44 40.0h1v2.1h-1zM71 40.0h1v2.1h-1zM1 42.0h1v4.1h-1zM19 42.0h1v4.1h-1zM76 42.0h1v4.1h-1zM12 46.0h1v2.1h-1zM50 46.0h1v2.1h-1zM53 46.0h1v2.1h-1zM75 46.0h1v2.1h-1zM47 48.0h1v4.1h-1zM5 52.0h1v2.1h-1zM21 52.0h1v2.1h-1zM38 52.0h1v2.1h-1zM45 52.0h1v2.1h-1zM47 52.0h1v2.1h-1zM17 54.0h1v4.1h-1zM61 54.0h1v4.1h-1zM67 54.0h1v4.1h-1zM10 62.0h2v2.1h-2zM32 62.0h1v2.1h-1zM34 62.0h1v2.1h-1zM66 62.0h1v2.1h-1zM28 64.0h1v4.1h-1zM37 64.0h1v4.1h-1zM49 64.0h2v4.1h-2zM52 64.0h1v4.1h-1zM70 64.0h1v4.1h-1zM1 68.0h1v4.1h-1zM14 68.0h1v4.1h-1zM32 68.0h1v4.1h-1zM54 68.0h1v4.1h-1zM1 72.0h1v2.1h-1zM10 72.0h1v2.1h-1zM15 72.0h1v2.1h-1zM23 72.0h2v2.1h-2zM58 72.0h1v2.1h-1zM65 72.0h1v2.1h-1zM82 72.0h1v2.1h-1zM85 72.0h1v2.1h-1zM10 74.0h1v4.1h-1zM49 74.0h1v4.1h-1zM60 74.0h2v4.1h-2zM68 74.0h1v4.1h-1zM3 78.0h1v4.1h-1zM5 82.0h1v4.1h-1zM29 82.0h1v4.1h-1zM34 82.0h1v4.1h-1zM71 82.0h1v4.1h-1zM82 82.0h1v4.1h-1zM7 86.0h1v4.1h-1zM70 86.0h1v4.1h-1zM72 86.0h1v4.1h-1zM14 90.0h1v4.1h-1zM51 90.0h1v4.1h-1zM62 90.0h1v4.1h-1zM11 94.0h1v4.1h-1zM41 94.0h1v4.1h-1zM54 94.0h1v4.1h-1zM87 94.0h1v4.1h-1zM23 98.0h1v4.1h-1zM58 98.0h1v4.1h-1zM76 98.0h2v4.1h-2zM80 98.0h1v4.1h-1zM88 98.0h1v4.1h-1zM8 106.0h1v6.1h-1zM10 106.0h2v6.1h-2zM23 106.0h1v6.1h-1zM74 106.0h1v6.1h-1zM40 112.0h1v4.1h-1zM73 112.0h1v4.1h-1zM80 112.0h1v4.1h-1z"/>
<path fill="#500073" d="M20 28.0h1v4.1h-1zM56 28.0h1v4.1h-1zM80 28.0h1v4.1h-1zM68 32.0h1v2.1h-1zM14 38.0h1v2.1h-1zM42 38.0h1v2.1h-1zM88 38.0h1v2.1h-1zM46 40.0h1v2.1h-1zM4 42.0h1v4.1h-1zM79 42.0h1v4.1h-1zM6 46.0h1v2.1h-1zM31 46.0h1v2.1h-1zM46 46.0h1v2.1h-1zM65 46.0h1v2.1h-1zM81 46.0h1v2.1h-1zM40 52.0h1v2.1h-1zM79 52.0h1v2.1h-1zM17 58.0h1v4.1h-1zM70 58.0h1v4.1h-1zM50 62.0h1v2.1h-1zM59 62.0h1v2.1h-1zM73 72.0h1v2.1h-1zM5 74.0h1v4.1h-1zM58 74.0h1v4.1h-1zM6 82.0h1v4.1h-1zM15 82.0h1v4.1h-1zM60 82.0h1v4.1h-1zM17 86.0h1v4.1h-1zM82 86.0h1v4.1h-1zM85 90.0h1v4.1h-1zM1 94.0h1v4.1h-1zM24 94.0h1v4.1h-1zM73 94.0h1v4.1h-1zM48 98.0h1v4.1h-1zM16 102.0h1v4.1h-1zM73 106.0h1v6.1h-1zM75 106.0h1v6.1h-1zM75 112.0h1v4.1h-1zM85 112.0h1v4.1h-1z"/>
<path fill="#4b00b9" d="M21 28.0h1v4.1h-1zM18 32.0h1v2.1h-1zM34 32.0h1v2.1h-1zM51 32.0h1v2.1h-1zM57 34.0h1v4.1h-1zM5 38.0h1v2.1h-1zM20 38.0h2v2.1h-2zM34 38.0h1v2.1h-1zM36 38.0h1v2.1h-1zM62 38.0h1v2.1h-1zM74 38.0h1v2.1h-1zM83 38.0h1v2.1h-1zM51 40.0h1v2.1h-1zM82 42.0h1v4.1h-1zM3 46.0h1v2.1h-1zM14 46.0h1v2.1h-1zM54 46.0h1v2.1h-1zM76 46.0h1v2.1h-1zM21 48.0h1v4.1h-1zM29 48.0h1v4.1h-1zM38 48.0h1v4.1h-1zM69 48.0h1v4.1h-1zM82 48.0h1v4.1h-1zM6 52.0h1v2.1h-1zM29 52.0h2v2.1h-2zM48 52.0h2v2.1h-2zM81 52.0h2v2.1h-2zM20 54.0h2v4.1h-2zM53 54.0h1v4.1h-1zM29 58.0h1v4.1h-1zM3 62.0h1v2.1h-1zM7 62.0h1v2.1h-1zM21 62.0h1v2.1h-1zM4 64.0h1v4.1h-1zM88 64.0h1v4.1h-1zM20 68.0h1v4.1h-1zM22 68.0h1v4.1h-1zM34 68.0h1v4.1h-1zM50 68.0h1v4.1h-1zM74 68.0h1v4.1h-1zM11 72.0h1v2.1h-1zM31 72.0h1v2.1h-1zM9 74.0h1v4.1h-1zM11 78.0h1v4.1h-1zM28 78.0h1v4.1h-1zM52 78.0h1v4.1h-1zM74 78.0h1v4.1h-1zM3 82.0h2v4.1h-2zM74 82.0h1v4.1h-1zM2 86.0h1v4.1h-1zM4 86.0h1v4.1h-1zM57 86.0h1v4.1h-1zM68 86.0h1v4.1h-1zM75 86.0h1v4.1h-1zM77 86.0h1v4.1h-1zM83 86.0h1v4.1h-1zM31 90.0h1v4.1h-1zM6 94.0h1v4.1h-1zM8 94.0h1v4.1h-1zM17 98.0h1v4.1h-1zM43 102.0h1v4.1h-1zM83 102.0h1v4.1h-1zM85 102.0h1v4.1h-1zM76 106.0h1v6.1h-1zM86 106.0h1v6.1h-1zM10 112.0h1v4.1h-1zM49 112.0h1v4.1h-1zM77 112.0h1v4.1h-1z"/>
<path fill="#004dff" d="M23 28.0h1v4.1h-1zM87 28.0h1v4.1h-1zM27 32.0h1v2.1h-1zM38 32.0h1v2.1h-1zM45 32.0h1v2.1h-1zM47 32.0h1v2.1h-1zM60 32.0h1v2.1h-1zM77 32.0h1v2.1h-1zM31 34.0h1v4.1h-1zM6 38.0h1v2.1h-1zM12 38.0h1v2.1h-1zM23 38.0h1v2.1h-1zM45 38.0h1v2.1h-1zM59 38.0h1v2.1h-1zM43 40.0h1v2.1h-1zM78 42.0h1v4.1h-1zM80 42.0h1v4.1h-1zM16 46.0h1v2.1h-1zM23 46.0h1v2.1h-1zM52 46.0h1v2.1h-1zM57 46.0h1v2.1h-1zM6 48.0h1v4.1h-1zM13 48.0h1v4.1h-1zM43 48.0h1v4.1h-1zM45 48.0h1v4.1h-1zM57 48.0h1v4.1h-1zM59 48.0h1v4.1h-1zM68 48.0h1v4.1h-1zM71 48.0h1v4.1h-1zM77 48.0h1v4.1h-1zM43 52.0h1v2.1h-1zM75 52.0h1v2.1h-1zM77 52.0h1v2.1h-1zM86 52.0h1v2.1h-1zM14 54.0h1v4.1h-1zM28 54.0h1v4.1h-1zM58 54.0h1v4.1h-1zM66 54.0h1v4.1h-1zM86 54.0h1v4.1h-1zM15 58.0h1v4.1h-1zM4 62.0h1v2.1h-1zM61 64.0h1v4.1h-1zM66 64.0h1v4.1h-1zM36 68.0h1v4.1h-1zM45 68.0h1v4.1h-1zM77 68.0h1v4.1h-1zM86 68.0h1v4.1h-1zM40 72.0h1v2.1h-1zM48 72.0h1v2.1h-1zM2 78.0h1v4.1h-1zM12 78.0h1v4.1h-1zM29 78.0h1v4.1h-1zM0 82.0h1v4.1h-1zM40 82.0h1v4.1h-1zM47 82.0h1v4.1h-1zM72 82.0h1v4.1h-1zM27 86.0h1v4.1h-1zM38 86.0h1v4.1h-1zM41 86.0h1v4.1h-1zM86 86.0h1v4.1h-1zM39 90.0h1v4.1h-1zM75 90.0h1v4.1h-1zM81 90.0h1v4.1h-1zM88 90.0h1v4.1h-1zM20 94.0h1v4.1h-1zM46 94.0h1v4.1h-1zM50 94.0h1v4.1h-1zM59 94.0h1v4.1h-1zM16 98.0h1v4.1h-1zM38 98.0h1v4.1h-1zM53 98.0h2v4.1h-2zM66 98.0h1v4.1h-1zM8 102.0h1v4.1h-1zM42 102.0h1v4.1h-1zM44 102.0h1v4.1h-1zM59 102.0h1v4.1h-1zM62 102.0h1v4.1h-1zM71 102.0h2v4.1h-2zM4 106.0h1v6.1h-1zM15 106.0h1v6.1h-1zM45 106.0h2v6.1h-2zM15 112.0h1v4.1h-1zM28 112.0h1v4.1h-1zM54 112.0h1v4.1h-1z"/>
<path fill="#00f8bb" d="M25 28.0h1v4.1h-1zM70 28.0h1v4.1h-1zM25 32.0h1v2.1h-1zM25 34.0h1v4.1h-1zM84 34.0h1v4.1h-1zM25 38.0h1v2.1h-1zM25 40.0h1v2.1h-1zM48 46.0h1v2.1h-1zM26 48.0h1v4.1h-1zM46 62.0h1v2.1h-1zM71 62.0h1v2.1h-1zM27 90.0h1v4.1h-1zM61 90.0h1v4.1h-1zM57 102.0h1v4.1h-1z"/>
<path fill="#005eff" d="M26 28.0h1v4.1h-1zM50 28.0h1v4.1h-1zM14 34.0h1v4.1h-1zM22 38.0h1v2.1h-1zM53 38.0h1v2.1h-1zM0 40.0h1v2.1h-1zM58 40.0h1v2.1h-1zM48 42.0h1v4.1h-1zM69 42.0h1v4.1h-1zM87 42.0h2v4.1h-2zM68 46.0h1v2.1h-1zM85 46.0h1v2.1h-1zM88 46.0h1v2.1h-1zM27 52.0h1v2.1h-1zM34 54.0h1v4.1h-1zM81 58.0h1v4.1h-1zM8 62.0h1v2.1h-1zM47 62.0h1v2.1h-1zM60 62.0h1v2.1h-1zM35 64.0h1v4.1h-1zM63 64.0h1v4.1h-1zM79 64.0h1v4.1h-1zM82 64.0h1v4.1h-1zM27 68.0h1v4.1h-1zM62 68.0h2v4.1h-2zM81 68.0h1v4.1h-1zM42 72.0h2v2.1h-2zM62 72.0h1v2.1h-1zM43 74.0h1v4.1h-1zM66 74.0h1v4.1h-1zM7 78.0h1v4.1h-1zM19 78.0h1v4.1h-1zM71 78.0h1v4.1h-1zM85 78.0h1v4.1h-1zM88 78.0h1v4.1h-1zM88 82.0h1v4.1h-1zM28 86.0h1v4.1h-1zM32 86.0h1v4.1h-1zM84 86.0h1v4.1h-1zM12 90.0h1v4.1h-1zM66 90.0h1v4.1h-1zM71 90.0h1v4.1h-1zM55 94.0h1v4.1h-1zM5 98.0h1v4.1h-1zM8 98.0h1v4.1h-1zM74 98.0h1v4.1h-1zM2 102.0h1v4.1h-1zM7 102.0h1v4.1h-1zM18 102.0h1v4.1h-1zM37 102.0h2v4.1h-2zM88 102.0h1v4.1h-1zM22 106.0h1v6.1h-1zM28 106.0h1v6.1h-1zM33 106.0h1v6.1h-1zM62 106.0h1v6.1h-1zM69 106.0h1v6.1h-1zM72 106.0h1v6.1h-1zM82 106.0h1v6.1h-1zM14 112.0h1v4.1h-1zM34 112.0h1v4.1h-1zM45 112.0h1v4.1h-1zM48 112.0h1v4.1h-1z"/>
<path fill="#54009c" d="M30 28.0h1v4.1h-1zM62 28.0h1v4.1h-1zM65 28.0h1v4.1h-1zM84 28.0h1v4.1h-1zM21 32.0h1v2.1h-1zM40 32.0h1v2.1h-1zM54 32.0h1v2.1h-1zM59 32.0h1v2.1h-1zM64 32.0h1v2.1h-1zM72 32.0h1v2.1h-1zM47 34.0h1v4.1h-1zM52 34.0h1v4.1h-1zM75 34.0h1v4.1h-1zM1 38.0h1v2.1h-1zM4 38.0h1v2.1h-1zM10 38.0h2v2.1h-2zM19 38.0h1v2.1h-1zM44 38.0h1v2.1h-1zM78 38.0h1v2.1h-1zM81 38.0h1v2.1h-1zM14 40.0h1v2.1h-1zM35 40.0h1v2.1h-1zM40 40.0h1v2.1h-1zM47 40.0h1v2.1h-1zM52 40.0h1v2.1h-1zM73 40.0h1v2.1h-1zM13 46.0h1v2.1h-1zM32 46.0h1v2.1h-1zM4 48.0h1v4.1h-1zM8 48.0h1v4.1h-1zM32 48.0h1v4.1h-1zM54 48.0h1v4.1h-1zM65 48.0h1v4.1h-1zM11 52.0h1v2.1h-1zM32 52.0h1v2.1h-1zM4 54.0h1v4.1h-1zM30 54.0h1v4.1h-1zM77 54.0h1v4.1h-1zM31 58.0h1v4.1h-1zM30 64.0h3v4.1h-3zM69 64.0h1v4.1h-1zM74 64.0h1v4.1h-1zM84 64.0h1v4.1h-1zM5 68.0h1v4.1h-1zM68 68.0h2v4.1h-2zM13 72.0h1v2.1h-1zM20 72.0h1v2.1h-1zM50 72.0h1v2.1h-1zM10 78.0h1v4.1h-1zM15 78.0h1v4.1h-1zM18 78.0h1v4.1h-1zM1 82.0h1v4.1h-1zM17 82.0h1v4.1h-1zM22 82.0h1v4.1h-1zM26 82.0h1v4.1h-1zM30 82.0h1v4.1h-1zM51 82.0h1v4.1h-1zM70 82.0h1v4.1h-1zM73 82.0h1v4.1h-1zM31 86.0h1v4.1h-1zM46 86.0h1v4.1h-1zM78 86.0h1v4.1h-1zM5 90.0h1v4.1h-1zM24 90.0h1v4.1h-1zM31 94.0h1v4.1h-1zM75 94.0h1v4.1h-1zM84 94.0h1v4.1h-1zM75 98.0h1v4.1h-1zM19 102.0h1v4.1h-1zM23 102.0h1v4.1h-1zM80 102.0h1v4.1h-1zM84 102.0h1v4.1h-1zM1 106.0h1v6.1h-1zM19 106.0h1v6.1h-1zM50 106.0h1v6.1h-1zM80 106.0h2v6.1h-2zM87 112.0h1v4.1h-1z"/>
<path fill="#3d004e" d="M32 28.0h1v4.1h-1zM86 28.0h1v4.1h-1zM3 32.0h1v2.1h-1zM5 32.0h1v2.1h-1zM8 32.0h1v2.1h-1zM32 32.0h1v2.1h-1zM65 32.0h1v2.1h-1zM69 34.0h1v4.1h-1zM72 38.0h1v2.1h-1zM65 42.0h1v4.1h-1zM67 42.0h1v4.1h-1zM29 46.0h1v2.1h-1zM49 46.0h1v2.1h-1zM80 46.0h1v2.1h-1zM79 48.0h1v4.1h-1zM12 52.0h1v2.1h-1zM0 58.0h1v4.1h-1zM6 58.0h1v4.1h-1zM30 58.0h1v4.1h-1zM31 68.0h1v4.1h-1zM53 68.0h1v4.1h-1zM68 72.0h1v2.1h-1zM1 74.0h1v4.1h-1zM53 74.0h1v4.1h-1zM6 78.0h1v4.1h-1zM53 78.0h1v4.1h-1zM70 78.0h1v4.1h-1zM10 86.0h1v4.1h-1z"/>
<path fill="#52008f" d="M37 28.0h1v4.1h-1zM44 28.0h1v4.1h-1zM61 28.0h1v4.1h-1zM20 34.0h1v4.1h-1zM35 34.0h2v4.1h-2zM63 34.0h1v4.1h-1zM66 34.0h1v4.1h-1zM63 38.0h1v2.1h-1zM66 38.0h1v2.1h-1zM3 40.0h1v2.1h-1zM21 40.0h1v2.1h-1zM31 40.0h1v2.1h-1zM49 40.0h1v2.1h-1zM65 40.0h1v2.1h-1zM29 42.0h1v4.1h-1zM50 42.0h2v4.1h-2zM63 42.0h1v4.1h-1zM2 46.0h1v2.1h-1zM56 46.0h1v2.1h-1zM72 46.0h1v2.1h-1zM9 48.0h1v4.1h-1zM30 48.0h1v4.1h-1zM56 48.0h1v4.1h-1zM5 54.0h1v4.1h-1zM29 54.0h1v4.1h-1zM49 54.0h1v4.1h-1zM49 58.0h1v4.1h-1zM31 62.0h1v2.1h-1zM58 62.0h1v2.1h-1zM34 64.0h1v4.1h-1zM56 64.0h1v4.1h-1zM18 68.0h1v4.1h-1zM28 72.0h1v2.1h-1zM37 74.0h1v4.1h-1zM0 78.0h1v4.1h-1zM23 82.0h1v4.1h-1zM39 82.0h1v4.1h-1zM83 82.0h1v4.1h-1zM24 86.0h1v4.1h-1zM28 90.0h1v4.1h-1zM14 94.0h1v4.1h-1zM51 94.0h1v4.1h-1zM1 98.0h1v4.1h-1zM49 98.0h1v4.1h-1zM21 102.0h1v4.1h-1zM48 102.0h1v4.1h-1zM87 102.0h1v4.1h-1zM17 106.0h1v6.1h-1zM87 106.0h1v6.1h-1z"/>
<path fill="#008eff" d="M38 28.0h1v4.1h-1zM41 28.0h1v4.1h-1zM68 28.0h1v4.1h-1zM10 34.0h1v4.1h-1zM24 34.0h1v4.1h-1zM49 34.0h1v4.1h-1zM87 34.0h1v4.1h-1zM9 38.0h1v2.1h-1zM17 42.0h1v4.1h-1zM61 42.0h1v4.1h-1zM68 42.0h1v4.1h-1zM13 52.0h1v2.1h-1zM34 52.0h1v2.1h-1zM66 58.0h1v4.1h-1zM76 58.0h1v4.1h-1zM87 58.0h1v4.1h-1zM14 62.0h1v2.1h-1zM26 62.0h1v2.1h-1zM23 64.0h1v4.1h-1zM55 64.0h1v4.1h-1zM39 68.0h1v4.1h-1zM47 68.0h1v4.1h-1zM57 68.0h2v4.1h-2zM85 68.0h1v4.1h-1zM87 68.0h1v4.1h-1zM35 72.0h1v2.1h-1zM81 72.0h1v2.1h-1zM44 74.0h1v4.1h-1zM86 74.0h1v4.1h-1zM40 78.0h1v4.1h-1zM73 78.0h1v4.1h-1zM19 82.0h1v4.1h-1zM32 82.0h1v4.1h-1zM41 82.0h1v4.1h-1zM84 82.0h1v4.1h-1zM42 86.0h1v4.1h-1zM50 90.0h1v4.1h-1zM57 90.0h1v4.1h-1zM3 94.0h1v4.1h-1zM44 94.0h1v4.1h-1zM57 94.0h1v4.1h-1zM66 94.0h1v4.1h-1zM28 98.0h2v4.1h-2zM46 98.0h1v4.1h-1zM65 98.0h1v4.1h-1zM20 102.0h1v4.1h-1zM28 102.0h1v4.1h-1zM71 106.0h1v6.1h-1zM7 112.0h1v4.1h-1zM11 112.0h1v4.1h-1z"/>
<path fill="#009eff" d="M45 28.0h1v4.1h-1zM12 32.0h1v2.1h-1zM12 34.0h1v4.1h-1zM39 38.0h1v2.1h-1zM75 42.0h1v4.1h-1zM15 46.0h1v2.1h-1zM59 46.0h1v2.1h-1zM8 54.0h1v4.1h-1zM15 54.0h1v4.1h-1zM32 54.0h1v4.1h-1zM42 54.0h1v4.1h-1zM33 58.0h1v4.1h-1zM28 62.0h1v2.1h-1zM67 62.0h1v2.1h-1zM46 64.0h1v4.1h-1zM57 64.0h1v4.1h-1zM76 64.0h1v4.1h-1zM24 68.0h1v4.1h-1zM76 68.0h1v4.1h-1zM66 72.0h1v2.1h-1zM80 72.0h1v2.1h-1zM84 74.0h1v4.1h-1zM62 78.0h2v4.1h-2zM8 82.0h1v4.1h-1zM20 82.0h1v4.1h-1zM48 86.0h1v4.1h-1zM69 86.0h1v4.1h-1zM9 90.0h1v4.1h-1zM30 90.0h1v4.1h-1zM35 90.0h1v4.1h-1zM42 90.0h1v4.1h-1zM67 90.0h1v4.1h-1zM26 94.0h1v4.1h-1zM71 94.0h1v4.1h-1zM22 98.0h1v4.1h-1zM25 98.0h1v4.1h-1zM42 98.0h1v4.1h-1zM25 102.0h1v4.1h-1zM53 102.0h1v4.1h-1zM63 102.0h1v4.1h-1zM68 102.0h1v4.1h-1zM20 106.0h1v6.1h-1zM29 106.0h1v6.1h-1zM59 106.0h2v6.1h-2zM18 112.0h1v4.1h-1zM20 112.0h1v4.1h-1zM47 112.0h1v4.1h-1zM53 112.0h1v4.1h-1zM66 112.0h1v4.1h-1zM82 112.0h1v4.1h-1z"/>
<path fill="#002dff" d="M46 28.0h2v4.1h-2zM64 28.0h1v4.1h-1zM4 32.0h1v2.1h-1zM49 32.0h2v2.1h-2zM55 34.0h1v4.1h-1zM55 38.0h1v2.1h-1zM68 38.0h1v2.1h-1zM6 40.0h1v2.1h-1zM17 40.0h1v2.1h-1zM60 40.0h1v2.1h-1zM76 40.0h1v2.1h-1zM0 42.0h1v4.1h-1zM21 42.0h1v4.1h-1zM41 42.0h1v4.1h-1zM43 42.0h1v4.1h-1zM53 42.0h1v4.1h-1zM58 42.0h1v4.1h-1zM17 46.0h1v2.1h-1zM20 46.0h1v2.1h-1zM84 46.0h1v2.1h-1zM0 48.0h1v4.1h-1zM27 48.0h2v4.1h-2zM52 48.0h1v4.1h-1zM84 48.0h1v4.1h-1zM56 52.0h1v2.1h-1zM58 52.0h1v2.1h-1zM46 54.0h1v4.1h-1zM51 54.0h2v4.1h-2zM84 54.0h1v4.1h-1zM48 58.0h1v4.1h-1zM24 62.0h1v2.1h-1zM43 62.0h1v2.1h-1zM12 64.0h1v4.1h-1zM14 64.0h1v4.1h-1zM10 68.0h1v4.1h-1zM29 68.0h1v4.1h-1zM41 68.0h1v4.1h-1zM64 68.0h1v4.1h-1zM70 68.0h1v4.1h-1zM34 72.0h1v2.1h-1zM39 72.0h1v2.1h-1zM76 72.0h1v2.1h-1zM86 72.0h1v2.1h-1zM47 74.0h1v4.1h-1zM65 74.0h1v4.1h-1zM17 78.0h1v4.1h-1zM27 78.0h1v4.1h-1zM31 78.0h1v4.1h-1zM34 78.0h1v4.1h-1zM38 78.0h1v4.1h-1zM41 78.0h1v4.1h-1zM77 78.0h1v4.1h-1zM80 78.0h1v4.1h-1zM13 82.0h1v4.1h-1zM43 82.0h1v4.1h-1zM59 82.0h1v4.1h-1zM14 86.0h1v4.1h-1zM6 90.0h1v4.1h-1zM8 90.0h1v4.1h-1zM58 90.0h1v4.1h-1zM64 90.0h1v4.1h-1zM17 94.0h1v4.1h-1zM22 94.0h1v4.1h-1zM28 94.0h1v4.1h-1zM33 94.0h1v4.1h-1zM40 94.0h1v4.1h-1zM80 94.0h1v4.1h-1zM82 94.0h1v4.1h-1zM2 98.0h2v4.1h-2zM14 98.0h1v4.1h-1zM3 102.0h1v4.1h-1zM13 102.0h1v4.1h-1zM46 102.0h2v4.1h-2zM9 106.0h1v6.1h-1zM25 106.0h1v6.1h-1zM61 106.0h1v6.1h-1zM63 106.0h1v6.1h-1zM83 106.0h1v6.1h-1zM59 112.0h1v4.1h-1zM71 112.0h1v4.1h-1z"/>
<path fill="#370041" d="M54 28.0h1v4.1h-1zM75 28.0h1v4.1h-1zM56 32.0h1v2.1h-1zM75 32.0h1v2.1h-1zM16 38.0h1v2.1h-1zM62 42.0h1v4.1h-1zM71 42.0h2v4.1h-2zM35 48.0h1v4.1h-1zM76 48.0h1v4.1h-1zM80 48.0h1v4.1h-1zM17 62.0h1v2.1h-1zM30 62.0h1v2.1h-1zM73 62.0h1v2.1h-1zM53 72.0h1v2.1h-1zM0 74.0h1v4.1h-1zM57 78.0h1v4.1h-1zM77 102.0h1v4.1h-1z"/>
<path fill="#00beff" d="M55 28.0h1v4.1h-1zM70 32.0h1v2.1h-1zM0 38.0h1v2.1h-1zM24 40.0h1v2.1h-1zM26 40.0h1v2.1h-1zM39 40.0h1v2.1h-1zM24 42.0h1v4.1h-1zM70 42.0h1v4.1h-1zM24 46.0h1v2.1h-1zM14 48.0h1v4.1h-1zM24 48.0h1v4.1h-1zM85 48.0h1v4.1h-1zM24 52.0h1v2.1h-1zM24 54.0h1v4.1h-1zM26 54.0h1v4.1h-1zM44 54.0h1v4.1h-1zM75 54.0h1v4.1h-1zM24 58.0h1v4.1h-1zM27 58.0h1v4.1h-1zM60 58.0h1v4.1h-1zM47 64.0h1v4.1h-1zM15 68.0h1v4.1h-1zM64 72.0h1v2.1h-1zM47 78.0h1v4.1h-1zM56 78.0h1v4.1h-1zM65 78.0h1v4.1h-1zM84 78.0h1v4.1h-1zM43 90.0h1v4.1h-1zM46 90.0h1v4.1h-1zM65 94.0h1v4.1h-1zM69 94.0h1v4.1h-1zM44 98.0h1v4.1h-1zM59 98.0h1v4.1h-1zM78 102.0h1v4.1h-1zM5 106.0h1v6.1h-1zM35 106.0h1v6.1h-1zM88 106.0h1v6.1h-1zM23 112.0h1v4.1h-1zM39 112.0h1v4.1h-1zM55 112.0h1v4.1h-1zM63 112.0h1v4.1h-1z"/>
<path fill="#00fef1" d="M57 28.0h1v4.1h-1zM41 32.0h1v2.1h-1zM27 34.0h1v4.1h-1zM41 38.0h1v2.1h-1zM46 58.0h1v4.1h-1zM87 62.0h1v2.1h-1zM16 64.0h1v4.1h-1zM67 64.0h1v4.1h-1zM4 68.0h1v4.1h-1zM38 68.0h1v4.1h-1zM66 68.0h1v4.1h-1zM34 90.0h1v4.1h-1zM45 94.0h1v4.1h-1zM33 98.0h1v4.1h-1zM68 98.0h1v4.1h-1zM38 106.0h1v6.1h-1zM55 106.0h1v6.1h-1zM25 112.0h1v4.1h-1zM27 112.0h1v4.1h-1zM68 112.0h1v4.1h-1z"/>
<path fill="#ff3e00" d="M58 28.0h1v4.1h-1zM28 46.0h1v2.1h-1zM69 74.0h1v4.1h-1z"/>
<path fill="#00f276" d="M59 28.0h1v4.1h-1zM76 62.0h1v2.1h-1zM86 64.0h1v4.1h-1zM17 102.0h1v4.1h-1z"/>
<path fill="#ff5f00" d="M74 28.0h1v4.1h-1z"/>
<path fill="#00aeff" d="M76 28.0h1v4.1h-1zM23 32.0h1v2.1h-1zM0 34.0h1v4.1h-1zM70 34.0h1v4.1h-1zM27 40.0h1v2.1h-1zM41 40.0h1v2.1h-1zM22 46.0h1v2.1h-1zM34 46.0h1v2.1h-1zM78 46.0h1v2.1h-1zM22 48.0h1v4.1h-1zM45 54.0h1v4.1h-1zM16 58.0h1v4.1h-1zM45 62.0h1v2.1h-1zM57 62.0h1v2.1h-1zM65 62.0h1v2.1h-1zM65 64.0h1v4.1h-1zM83 64.0h1v4.1h-1zM82 68.0h1v4.1h-1zM48 74.0h1v4.1h-1zM44 78.0h1v4.1h-1zM75 78.0h1v4.1h-1zM67 82.0h1v4.1h-1zM45 86.0h1v4.1h-1zM55 86.0h1v4.1h-1zM48 90.0h1v4.1h-1zM34 98.0h1v4.1h-1zM70 102.0h1v4.1h-1zM7 106.0h1v6.1h-1zM18 106.0h1v6.1h-1zM26 106.0h1v6.1h-1zM53 106.0h1v6.1h-1zM44 112.0h1v4.1h-1zM52 112.0h1v4.1h-1zM64 112.0h1v4.1h-1zM72 112.0h1v4.1h-1z"/>
<path fill="#00ceff" d="M78 28.0h1v4.1h-1zM60 46.0h1v2.1h-1zM54 54.0h1v4.1h-1zM28 58.0h1v4.1h-1zM79 62.0h1v2.1h-1zM24 64.0h1v4.1h-1zM48 68.0h1v4.1h-1zM29 72.0h1v2.1h-1zM62 74.0h1v4.1h-1zM67 74.0h1v4.1h-1zM75 74.0h1v4.1h-1zM63 82.0h1v4.1h-1zM69 82.0h1v4.1h-1zM36 90.0h1v4.1h-1zM25 94.0h1v4.1h-1zM36 94.0h1v4.1h-1zM39 98.0h1v4.1h-1zM82 98.0h1v4.1h-1zM5 102.0h1v4.1h-1zM54 102.0h1v4.1h-1zM65 102.0h1v4.1h-1zM27 106.0h1v6.1h-1zM57 106.0h1v6.1h-1zM29 112.0h1v4.1h-1zM42 112.0h1v4.1h-1zM58 112.0h1v4.1h-1z"/>
<path fill="#ff0000" d="M0 32.0h1v2.1h-1zM71 38.0h1v2.1h-1zM74 62.0h1v2.1h-1z"/>
<path fill="#00deff" d="M7 32.0h1v2.1h-1zM22 34.0h1v4.1h-1zM41 34.0h1v4.1h-1zM58 38.0h1v2.1h-1zM87 38.0h1v2.1h-1zM23 40.0h1v2.1h-1zM26 42.0h1v4.1h-1zM12 58.0h1v4.1h-1zM22 58.0h1v4.1h-1zM26 58.0h1v4.1h-1zM45 58.0h1v4.1h-1zM33 62.0h1v2.1h-1zM80 62.0h1v2.1h-1zM85 64.0h1v4.1h-1zM46 68.0h1v4.1h-1zM6 74.0h1v4.1h-1zM48 78.0h1v4.1h-1zM29 86.0h1v4.1h-1zM54 90.0h1v4.1h-1zM39 94.0h1v4.1h-1zM36 98.0h1v4.1h-1zM67 98.0h1v4.1h-1zM52 102.0h1v4.1h-1z"/>
<path fill="#060006" d="M9 32.0h1v2.1h-1zM53 86.0h1v4.1h-1zM77 106.0h1v6.1h-1z"/>
<path fill="#00fbd6" d="M11 32.0h1v2.1h-1zM17 34.0h1v4.1h-1zM26 34.0h1v4.1h-1zM7 74.0h1v4.1h-1zM88 74.0h1v4.1h-1zM60 90.0h1v4.1h-1zM21 94.0h1v4.1h-1zM55 98.0h1v4.1h-1zM55 102.0h2v4.1h-2zM36 112.0h1v4.1h-1z"/>
<path fill="#00f05a" d="M13 32.0h1v2.1h-1zM37 38.0h1v2.1h-1zM60 42.0h1v4.1h-1z"/>
<path fill="#200023" d="M19 32.0h1v2.1h-1zM56 34.0h1v4.1h-1zM3 38.0h1v2.1h-1zM7 52.0h1v2.1h-1zM73 64.0h1v4.1h-1zM0 90.0h1v4.1h-1zM73 90.0h1v4.1h-1zM6 98.0h1v4.1h-1zM6 102.0h1v4.1h-1z"/>
<path fill="#00efff" d="M26 32.0h1v2.1h-1zM45 34.0h1v4.1h-1zM27 38.0h1v2.1h-1zM50 38.0h1v2.1h-1zM50 54.0h1v4.1h-1zM76 54.0h1v4.1h-1zM44 62.0h1v2.1h-1zM44 64.0h1v4.1h-1zM26 68.0h1v4.1h-1zM5 72.0h1v2.1h-1zM16 72.0h1v2.1h-1zM63 72.0h1v2.1h-1zM65 82.0h1v4.1h-1zM36 86.0h1v4.1h-1zM37 90.0h1v4.1h-1zM52 90.0h1v4.1h-1zM55 90.0h1v4.1h-1zM9 94.0h1v4.1h-1zM34 94.0h1v4.1h-1zM20 98.0h1v4.1h-1zM82 102.0h1v4.1h-1zM47 106.0h1v6.1h-1zM56 106.0h1v6.1h-1zM38 112.0h1v4.1h-1zM69 112.0h2v4.1h-2zM88 112.0h1v4.1h-1z"/>
<path fill="#43fc03" d="M28 32.0h1v2.1h-1zM6 34.0h1v4.1h-1zM43 34.0h1v4.1h-1zM33 82.0h1v4.1h-1z"/>
<path fill="#190019" d="M37 32.0h1v2.1h-1zM50 40.0h1v2.1h-1zM11 48.0h1v4.1h-1zM36 52.0h1v2.1h-1zM2 62.0h1v2.1h-1zM3 64.0h1v4.1h-1zM73 68.0h1v4.1h-1z"/>
<path fill="#300037" d="M69 32.0h1v2.1h-1zM83 34.0h1v4.1h-1zM12 54.0h1v4.1h-1zM36 54.0h1v4.1h-1zM20 62.0h1v2.1h-1zM3 68.0h1v4.1h-1zM13 68.0h1v4.1h-1zM18 72.0h1v2.1h-1zM49 82.0h1v4.1h-1zM57 82.0h1v4.1h-1z"/>
<path fill="#00f5a0" d="M13 34.0h1v4.1h-1zM25 54.0h1v4.1h-1zM25 58.0h1v4.1h-1zM25 62.0h1v2.1h-1zM25 64.0h1v4.1h-1zM50 102.0h1v4.1h-1zM26 112.0h1v4.1h-1z"/>
<path fill="#0df211" d="M23 34.0h1v4.1h-1zM19 62.0h1v2.1h-1z"/>
<path fill="#00fce4" d="M17 38.0h1v2.1h-1zM81 42.0h1v4.1h-1zM61 46.0h1v2.1h-1zM15 52.0h1v2.1h-1zM71 58.0h1v4.1h-1zM52 72.0h1v2.1h-1zM45 90.0h1v4.1h-1zM36 102.0h1v4.1h-1zM73 102.0h1v4.1h-1zM44 106.0h1v6.1h-1zM65 112.0h1v4.1h-1z"/>
<path fill="#007eff" d="M43 38.0h1v2.1h-1zM28 40.0h1v2.1h-1zM69 40.0h1v2.1h-1zM83 40.0h1v2.1h-1zM45 42.0h1v4.1h-1zM26 46.0h1v2.1h-1zM77 46.0h1v2.1h-1zM74 48.0h1v4.1h-1zM87 52.0h1v2.1h-1zM13 54.0h1v4.1h-1zM87 54.0h1v4.1h-1zM14 58.0h1v4.1h-1zM44 58.0h1v4.1h-1zM57 58.0h1v4.1h-1zM81 62.0h1v2.1h-1zM6 64.0h1v4.1h-1zM42 64.0h1v4.1h-1zM87 64.0h1v4.1h-1zM67 68.0h1v4.1h-1zM30 72.0h1v2.1h-1zM36 72.0h1v2.1h-1zM34 74.0h1v4.1h-1zM71 74.0h1v4.1h-1zM74 74.0h1v4.1h-1zM24 78.0h1v4.1h-1zM86 78.0h1v4.1h-1zM45 82.0h1v4.1h-1zM56 82.0h1v4.1h-1zM66 82.0h1v4.1h-1zM13 86.0h1v4.1h-1zM52 86.0h1v4.1h-1zM54 86.0h1v4.1h-1zM67 86.0h1v4.1h-1zM81 86.0h1v4.1h-1zM30 94.0h1v4.1h-1zM43 94.0h1v4.1h-1zM56 98.0h2v4.1h-2zM61 98.0h1v4.1h-1zM86 98.0h1v4.1h-1zM39 102.0h1v4.1h-1zM3 106.0h1v6.1h-1zM66 106.0h1v6.1h-1zM41 112.0h1v4.1h-1z"/>
<path fill="#1bf50d" d="M68 40.0h1v2.1h-1zM87 48.0h1v4.1h-1z"/>
<path fill="#00f6ae" d="M22 42.0h1v4.1h-1zM7 98.0h1v4.1h-1zM27 102.0h1v4.1h-1zM35 112.0h1v4.1h-1z"/>
<path fill="#00f037" d="M25 42.0h1v4.1h-1zM25 46.0h1v2.1h-1zM19 58.0h1v4.1h-1z"/>
<path fill="#00f9c9" d="M32 42.0h1v4.1h-1zM71 54.0h1v4.1h-1zM71 64.0h1v4.1h-1zM16 86.0h1v4.1h-1zM33 102.0h1v4.1h-1zM70 106.0h1v6.1h-1z"/>
<path fill="#00f384" d="M5 46.0h1v2.1h-1zM9 58.0h1v4.1h-1z"/>
<path fill="#130013" d="M79 46.0h1v2.1h-1zM15 86.0h1v4.1h-1z"/>
<path fill="#ff7100" d="M25 48.0h1v4.1h-1zM25 52.0h1v2.1h-1z"/>
<path fill="#0c000c" d="M4 52.0h1v2.1h-1zM7 54.0h1v4.1h-1zM21 72.0h1v2.1h-1zM51 86.0h1v4.1h-1z"/>
<path fill="#00f168" d="M26 52.0h1v2.1h-1zM66 78.0h1v4.1h-1zM65 90.0h1v4.1h-1zM40 98.0h1v4.1h-1zM60 112.0h1v4.1h-1z"/>
<path fill="#28002d" d="M80 52.0h1v2.1h-1zM6 54.0h1v4.1h-1zM11 54.0h1v4.1h-1zM0 62.0h1v2.1h-1zM53 64.0h1v4.1h-1zM4 74.0h1v4.1h-1zM18 74.0h1v4.1h-1zM1 78.0h1v4.1h-1zM49 78.0h1v4.1h-1z"/>
<path fill="#000000" d="M2 58.0h1v4.1h-1zM20 58.0h1v4.1h-1zM21 68.0h1v4.1h-1z"/>
<path fill="#00ffff" d="M16 62.0h1v2.1h-1zM52 62.0h1v2.1h-1zM80 64.0h1v4.1h-1zM25 68.0h1v4.1h-1zM71 68.0h1v4.1h-1zM80 68.0h1v4.1h-1zM25 72.0h1v2.1h-1zM47 72.0h1v2.1h-1zM63 74.0h1v4.1h-1zM67 78.0h1v4.1h-1zM48 82.0h1v4.1h-1zM65 86.0h1v4.1h-1zM35 94.0h1v4.1h-1zM37 94.0h1v4.1h-1zM67 94.0h1v4.1h-1zM27 98.0h1v4.1h-1zM30 98.0h1v4.1h-1zM35 102.0h1v4.1h-1zM36 106.0h1v6.1h-1z"/>
<path fill="#a0ff00" d="M45 64.0h1v4.1h-1z"/>
<path fill="#00f020" d="M16 74.0h1v4.1h-1zM38 90.0h1v4.1h-1z"/>
<path fill="#00f02b" d="M78 74.0h1v4.1h-1z"/>
<path fill="#00f04e" d="M43 78.0h1v4.1h-1zM12 112.0h1v4.1h-1z"/>
<path fill="#00f043" d="M24 82.0h1v4.1h-1zM12 86.0h1v4.1h-1z"/>
<path fill="#80ff00" d="M27 94.0h1v4.1h-1z"/>
<path fill="#28f80a" d="M47 94.0h1v4.1h-1zM4 98.0h1v4.1h-1z"/>
<path fill="#ccff00" d="M35 98.0h1v4.1h-1z"/>
<path fill="#afff00" d="M37 98.0h1v4.1h-1z"/>
<path fill="#00f014" d="M61 102.0h1v4.1h-1z"/>
<path fill="#50ff00" d="M67 102.0h1v4.1h-1z"/>
<path fill="#ff9600" d="M81 102.0h1v4.1h-1z"/>
<path fill="#00f492" d="M31 112.0h1v4.1h-1z"/>
</g>
<line x1="89.80" y1="54.67" x2="809.80" y2="54.67" stroke="#000" stroke-width="1.2" stroke-dasharray="1.7 6.34" stroke-dashoffset="0.85"/>
<line x1="89.80" y1="89.77" x2="809.80" y2="89.77" stroke="#000" stroke-width="1.2" stroke-dasharray="1.7 6.34" stroke-dashoffset="0.85"/>
<line x1="179.80" y1="1.80" x2="179.80" y2="137.72" stroke="#000" stroke-width="1.2" stroke-dasharray="2 6.04" stroke-dashoffset="0.5"/>
<line x1="269.80" y1="1.80" x2="269.80" y2="137.72" stroke="#000" stroke-width="1.2" stroke-dasharray="2 6.04" stroke-dashoffset="0.5"/>
<line x1="359.80" y1="1.80" x2="359.80" y2="137.72" stroke="#000" stroke-width="1.2" stroke-dasharray="2 6.04" stroke-dashoffset="0.5"/>
<line x1="449.80" y1="1.80" x2="449.80" y2="137.72" stroke="#000" stroke-width="1.2" stroke-dasharray="2 6.04" stroke-dashoffset="0.5"/>
<line x1="539.80" y1="1.80" x2="539.80" y2="137.72" stroke="#000" stroke-width="1.2" stroke-dasharray="2 6.04" stroke-dashoffset="0.5"/>
<line x1="629.80" y1="1.80" x2="629.80" y2="137.72" stroke="#000" stroke-width="1.2" stroke-dasharray="2 6.04" stroke-dashoffset="0.5"/>
<line x1="719.80" y1="1.80" x2="719.80" y2="137.72" stroke="#000" stroke-width="1.2" stroke-dasharray="2 6.04" stroke-dashoffset="0.5"/>
<use href="#coast"/>
<rect x="179.80" y="1.1" width="90.00" height="1.5" fill="#fff"/>
<rect x="179.80" y="137.3" width="90.00" height="1.5" fill="#fff"/>
<rect x="359.80" y="1.1" width="90.00" height="1.5" fill="#fff"/>
<rect x="359.80" y="137.3" width="90.00" height="1.5" fill="#fff"/>
<rect x="539.80" y="1.1" width="90.00" height="1.5" fill="#fff"/>
<rect x="539.80" y="137.3" width="90.00" height="1.5" fill="#fff"/>
<rect x="719.80" y="1.1" width="88.70" height="1.5" fill="#fff"/>
<rect x="719.80" y="137.3" width="88.70" height="1.5" fill="#fff"/>
<rect x="89" y="1.10" width="1.8" height="25.18" fill="#fff"/>
<rect x="808.6" y="1.10" width="1.8" height="25.18" fill="#fff"/>
<rect x="89" y="54.67" width="1.8" height="35.10" fill="#fff"/>
<rect x="808.6" y="54.67" width="1.8" height="35.10" fill="#fff"/>
<text x="82.3" y="8.20" font-size="14.2" text-anchor="end" textLength="28.6" lengthAdjust="spacingAndGlyphs">30°S</text>
<text x="82.3" y="32.68" font-size="14.2" text-anchor="end" textLength="28.6" lengthAdjust="spacingAndGlyphs">40°S</text>
<text x="82.3" y="61.07" font-size="14.2" text-anchor="end" textLength="28.6" lengthAdjust="spacingAndGlyphs">50°S</text>
<text x="82.3" y="96.17" font-size="14.2" text-anchor="end" textLength="28.6" lengthAdjust="spacingAndGlyphs">60°S</text>
<text x="82.3" y="144.12" font-size="14.2" text-anchor="end" textLength="28.6" lengthAdjust="spacingAndGlyphs">70°S</text>
<text transform="translate(35.6,70.00) rotate(-90)" font-size="16" text-anchor="middle" textLength="21.7" lengthAdjust="spacingAndGlyphs">ice</text>
</g>
<rect x="890.2" y="256.30" width="8.3" height="156.20" fill="url(#cg)" stroke="#000" stroke-width="0.8"/>
<line x1="888.8" y1="412.50" x2="890.2" y2="412.50" stroke="#000" stroke-width="0.7"/>
<line x1="888.8" y1="408.14" x2="890.2" y2="408.14" stroke="#000" stroke-width="0.7"/>
<line x1="888.8" y1="403.77" x2="890.2" y2="403.77" stroke="#000" stroke-width="0.7"/>
<line x1="888.8" y1="399.41" x2="890.2" y2="399.41" stroke="#000" stroke-width="0.7"/>
<line x1="888.8" y1="395.05" x2="890.2" y2="395.05" stroke="#000" stroke-width="0.7"/>
<line x1="888.8" y1="390.68" x2="890.2" y2="390.68" stroke="#000" stroke-width="0.7"/>
<line x1="888.8" y1="386.32" x2="890.2" y2="386.32" stroke="#000" stroke-width="0.7"/>
<line x1="888.8" y1="381.96" x2="890.2" y2="381.96" stroke="#000" stroke-width="0.7"/>
<line x1="888.8" y1="377.59" x2="890.2" y2="377.59" stroke="#000" stroke-width="0.7"/>
<line x1="888.8" y1="373.23" x2="890.2" y2="373.23" stroke="#000" stroke-width="0.7"/>
<line x1="888.8" y1="368.87" x2="890.2" y2="368.87" stroke="#000" stroke-width="0.7"/>
<line x1="888.8" y1="364.51" x2="890.2" y2="364.51" stroke="#000" stroke-width="0.7"/>
<line x1="888.8" y1="360.14" x2="890.2" y2="360.14" stroke="#000" stroke-width="0.7"/>
<line x1="888.8" y1="355.78" x2="890.2" y2="355.78" stroke="#000" stroke-width="0.7"/>
<line x1="888.8" y1="351.42" x2="890.2" y2="351.42" stroke="#000" stroke-width="0.7"/>
<line x1="888.8" y1="347.05" x2="890.2" y2="347.05" stroke="#000" stroke-width="0.7"/>
<line x1="888.8" y1="342.69" x2="890.2" y2="342.69" stroke="#000" stroke-width="0.7"/>
<line x1="888.8" y1="338.33" x2="890.2" y2="338.33" stroke="#000" stroke-width="0.7"/>
<line x1="888.8" y1="333.96" x2="890.2" y2="333.96" stroke="#000" stroke-width="0.7"/>
<line x1="888.8" y1="329.60" x2="890.2" y2="329.60" stroke="#000" stroke-width="0.7"/>
<line x1="888.8" y1="325.24" x2="890.2" y2="325.24" stroke="#000" stroke-width="0.7"/>
<line x1="888.8" y1="320.87" x2="890.2" y2="320.87" stroke="#000" stroke-width="0.7"/>
<line x1="888.8" y1="316.51" x2="890.2" y2="316.51" stroke="#000" stroke-width="0.7"/>
<line x1="888.8" y1="312.15" x2="890.2" y2="312.15" stroke="#000" stroke-width="0.7"/>
<line x1="888.8" y1="307.78" x2="890.2" y2="307.78" stroke="#000" stroke-width="0.7"/>
<line x1="888.8" y1="303.42" x2="890.2" y2="303.42" stroke="#000" stroke-width="0.7"/>
<line x1="888.8" y1="299.06" x2="890.2" y2="299.06" stroke="#000" stroke-width="0.7"/>
<line x1="888.8" y1="294.70" x2="890.2" y2="294.70" stroke="#000" stroke-width="0.7"/>
<line x1="888.8" y1="290.33" x2="890.2" y2="290.33" stroke="#000" stroke-width="0.7"/>
<line x1="888.8" y1="285.97" x2="890.2" y2="285.97" stroke="#000" stroke-width="0.7"/>
<line x1="888.8" y1="281.61" x2="890.2" y2="281.61" stroke="#000" stroke-width="0.7"/>
<line x1="888.8" y1="277.24" x2="890.2" y2="277.24" stroke="#000" stroke-width="0.7"/>
<line x1="888.8" y1="272.88" x2="890.2" y2="272.88" stroke="#000" stroke-width="0.7"/>
<line x1="888.8" y1="268.52" x2="890.2" y2="268.52" stroke="#000" stroke-width="0.7"/>
<line x1="888.8" y1="264.15" x2="890.2" y2="264.15" stroke="#000" stroke-width="0.7"/>
<line x1="888.8" y1="259.79" x2="890.2" y2="259.79" stroke="#000" stroke-width="0.7"/>
<line x1="887.6" y1="412.50" x2="890.2" y2="412.50" stroke="#000" stroke-width="0.8"/>
<text x="882.6" y="416.40" font-size="12.6" text-anchor="end" textLength="19.0" lengthAdjust="spacingAndGlyphs">0.0</text>
<line x1="887.6" y1="368.87" x2="890.2" y2="368.87" stroke="#000" stroke-width="0.8"/>
<text x="882.6" y="372.77" font-size="12.6" text-anchor="end" textLength="19.0" lengthAdjust="spacingAndGlyphs">0.1</text>
<line x1="887.6" y1="325.24" x2="890.2" y2="325.24" stroke="#000" stroke-width="0.8"/>
<text x="882.6" y="329.14" font-size="12.6" text-anchor="end" textLength="19.0" lengthAdjust="spacingAndGlyphs">0.2</text>
<line x1="887.6" y1="281.61" x2="890.2" y2="281.61" stroke="#000" stroke-width="0.8"/>
<text x="882.6" y="285.51" font-size="12.6" text-anchor="end" textLength="19.0" lengthAdjust="spacingAndGlyphs">0.3</text>
<text transform="translate(854.6,334.40) rotate(-90)" font-size="12" text-anchor="middle" textLength="59" lengthAdjust="spacingAndGlyphs">frequency</text>
<g transform="translate(0,440)">
<rect x="88" y="0" width="723.70" height="140" fill="#000"/>
<g shape-rendering="crispEdges" transform="translate(92.00,0) scale(8.0416,1)">
<path fill="#004dff" d="M0 28.0h1v4.1h-1zM33 32.0h1v2.1h-1zM33 34.0h1v4.1h-1zM33 38.0h1v2.1h-1zM13 40.0h1v2.1h-1zM43 42.0h1v4.1h-1zM65 90.0h1v4.1h-1zM62 98.0h1v4.1h-1z"/>
<path fill="#370041" d="M1 28.0h1v4.1h-1zM3 28.0h2v4.1h-2zM14 28.0h1v4.1h-1zM7 32.0h1v2.1h-1zM40 32.0h1v2.1h-1zM15 34.0h2v4.1h-2zM18 34.0h1v4.1h-1zM55 34.0h2v4.1h-2zM87 38.0h1v2.1h-1zM0 40.0h1v2.1h-1zM5 40.0h1v2.1h-1zM10 40.0h1v2.1h-1zM17 40.0h1v2.1h-1zM29 40.0h1v2.1h-1zM40 40.0h1v2.1h-1zM57 40.0h1v2.1h-1zM63 40.0h1v2.1h-1zM2 42.0h1v4.1h-1zM4 42.0h1v4.1h-1zM56 42.0h1v4.1h-1zM58 42.0h1v4.1h-1zM72 42.0h1v4.1h-1zM80 42.0h1v4.1h-1zM7 46.0h2v2.1h-2zM11 46.0h1v2.1h-1zM14 46.0h1v2.1h-1zM19 46.0h1v2.1h-1zM22 46.0h2v2.1h-2zM31 46.0h1v2.1h-1zM39 46.0h1v2.1h-1zM54 46.0h1v2.1h-1zM59 46.0h1v2.1h-1zM67 46.0h1v2.1h-1zM72 46.0h2v2.1h-2zM6 48.0h1v4.1h-1zM12 48.0h1v4.1h-1zM47 48.0h2v4.1h-2zM51 48.0h1v4.1h-1zM86 48.0h1v4.1h-1zM29 52.0h3v2.1h-3zM49 52.0h1v2.1h-1zM65 52.0h1v2.1h-1zM74 52.0h1v2.1h-1zM79 52.0h1v2.1h-1zM13 54.0h1v4.1h-1zM15 54.0h2v4.1h-2zM19 54.0h1v4.1h-1zM23 54.0h1v4.1h-1zM36 54.0h1v4.1h-1zM51 54.0h2v4.1h-2zM85 54.0h1v4.1h-1zM4 58.0h1v4.1h-1zM6 58.0h1v4.1h-1zM18 58.0h1v4.1h-1zM20 58.0h1v4.1h-1zM27 58.0h2v4.1h-2zM36 58.0h1v4.1h-1zM56 58.0h1v4.1h-1zM62 58.0h1v4.1h-1zM70 58.0h1v4.1h-1zM4 62.0h1v2.1h-1zM11 62.0h1v2.1h-1zM54 62.0h1v2.1h-1zM72 62.0h1v2.1h-1zM1 64.0h1v4.1h-1zM24 64.0h1v4.1h-1zM40 64.0h1v4.1h-1zM13 68.0h1v4.1h-1zM42 68.0h1v4.1h-1zM62 68.0h1v4.1h-1zM23 72.0h1v2.1h-1zM27 72.0h1v2.1h-1zM39 72.0h1v2.1h-1zM67 72.0h1v2.1h-1zM69 72.0h2v2.1h-2zM72 72.0h1v2.1h-1zM6 74.0h1v4.1h-1zM15 74.0h1v4.1h-1zM34 74.0h1v4.1h-1zM71 74.0h1v4.1h-1zM2 78.0h1v4.1h-1zM6 78.0h1v4.1h-1zM10 78.0h2v4.1h-2zM42 78.0h1v4.1h-1zM54 78.0h1v4.1h-1zM12 82.0h1v4.1h-1zM24 82.0h1v4.1h-1zM26 82.0h1v4.1h-1zM32 82.0h1v4.1h-1zM35 82.0h1v4.1h-1zM44 82.0h1v4.1h-1zM53 82.0h1v4.1h-1zM69 82.0h1v4.1h-1zM72 82.0h1v4.1h-1zM82 82.0h1v4.1h-1zM85 82.0h1v4.1h-1zM15 86.0h1v4.1h-1zM21 86.0h1v4.1h-1zM53 86.0h1v4.1h-1zM0 90.0h1v4.1h-1zM29 90.0h1v4.1h-1zM74 90.0h1v4.1h-1zM84 90.0h1v4.1h-1zM15 94.0h1v4.1h-1zM29 94.0h1v4.1h-1zM40 94.0h1v4.1h-1zM59 94.0h2v4.1h-2zM73 94.0h1v4.1h-1zM85 94.0h1v4.1h-1zM24 98.0h1v4.1h-1zM37 98.0h1v4.1h-1zM42 98.0h1v4.1h-1zM57 98.0h2v4.1h-2zM4 102.0h1v4.1h-1zM30 102.0h1v4.1h-1zM42 102.0h1v4.1h-1zM74 102.0h1v4.1h-1zM77 102.0h1v4.1h-1zM15 106.0h2v6.1h-2zM19 106.0h1v6.1h-1zM29 106.0h1v6.1h-1zM56 106.0h1v6.1h-1zM60 106.0h1v6.1h-1zM13 112.0h1v4.1h-1zM20 112.0h1v4.1h-1zM24 112.0h1v4.1h-1zM35 112.0h1v4.1h-1zM43 112.0h1v4.1h-1zM70 112.0h1v4.1h-1zM77 112.0h1v4.1h-1zM87 112.0h1v4.1h-1z"/>
<path fill="#008eff" d="M2 28.0h1v4.1h-1zM47 28.0h1v4.1h-1zM60 68.0h1v4.1h-1z"/>
<path fill="#5500aa" d="M5 28.0h1v4.1h-1zM17 28.0h1v4.1h-1zM45 28.0h1v4.1h-1zM54 28.0h1v4.1h-1zM68 28.0h1v4.1h-1zM75 28.0h1v4.1h-1zM3 32.0h1v2.1h-1zM5 32.0h1v2.1h-1zM50 32.0h3v2.1h-3zM54 32.0h1v2.1h-1zM59 32.0h1v2.1h-1zM76 32.0h1v2.1h-1zM2 34.0h1v4.1h-1zM4 34.0h1v4.1h-1zM13 34.0h2v4.1h-2zM43 34.0h1v4.1h-1zM54 34.0h1v4.1h-1zM60 34.0h1v4.1h-1zM64 34.0h1v4.1h-1zM1 38.0h1v2.1h-1zM22 38.0h1v2.1h-1zM32 38.0h1v2.1h-1zM41 38.0h1v2.1h-1zM76 38.0h1v2.1h-1zM44 40.0h1v2.1h-1zM65 40.0h1v2.1h-1zM68 40.0h1v2.1h-1zM79 40.0h1v2.1h-1zM9 42.0h1v4.1h-1zM61 42.0h1v4.1h-1zM27 46.0h1v2.1h-1zM44 46.0h1v2.1h-1zM8 48.0h1v4.1h-1zM13 48.0h1v4.1h-1zM15 48.0h2v4.1h-2zM20 48.0h1v4.1h-1zM36 52.0h1v2.1h-1zM61 52.0h1v2.1h-1zM57 54.0h1v4.1h-1zM67 54.0h1v4.1h-1zM76 54.0h1v4.1h-1zM52 58.0h1v4.1h-1zM63 58.0h1v4.1h-1zM9 62.0h1v2.1h-1zM44 62.0h1v2.1h-1zM51 62.0h1v2.1h-1zM68 62.0h1v2.1h-1zM86 62.0h1v2.1h-1zM29 64.0h1v4.1h-1zM71 64.0h1v4.1h-1zM2 68.0h1v4.1h-1zM18 68.0h1v4.1h-1zM37 68.0h1v4.1h-1zM78 68.0h1v4.1h-1zM82 68.0h1v4.1h-1zM40 72.0h1v2.1h-1zM58 72.0h1v2.1h-1zM16 74.0h1v4.1h-1zM21 74.0h1v4.1h-1zM23 74.0h1v4.1h-1zM62 74.0h1v4.1h-1zM18 78.0h1v4.1h-1zM29 78.0h1v4.1h-1zM31 78.0h1v4.1h-1zM70 78.0h1v4.1h-1zM83 78.0h1v4.1h-1zM0 82.0h1v4.1h-1zM11 82.0h1v4.1h-1zM58 82.0h1v4.1h-1zM87 86.0h1v4.1h-1zM50 90.0h1v4.1h-1zM70 90.0h1v4.1h-1zM83 90.0h1v4.1h-1zM6 94.0h1v4.1h-1zM16 94.0h2v4.1h-2zM24 94.0h1v4.1h-1zM36 94.0h1v4.1h-1zM17 98.0h1v4.1h-1zM75 98.0h2v4.1h-2zM45 102.0h1v4.1h-1zM57 102.0h1v4.1h-1zM78 102.0h1v4.1h-1zM81 102.0h1v4.1h-1zM23 106.0h1v6.1h-1zM34 106.0h1v6.1h-1zM38 106.0h1v6.1h-1zM72 106.0h1v6.1h-1zM78 106.0h1v6.1h-1zM2 112.0h1v4.1h-1zM12 112.0h1v4.1h-1zM21 112.0h1v4.1h-1zM36 112.0h1v4.1h-1zM48 112.0h1v4.1h-1zM63 112.0h1v4.1h-1zM83 112.0h1v4.1h-1z"/>
<path fill="#00ceff" d="M6 28.0h1v4.1h-1zM56 74.0h1v4.1h-1zM69 112.0h1v4.1h-1z"/>
<path fill="#4a0066" d="M7 28.0h1v4.1h-1zM53 28.0h1v4.1h-1zM58 28.0h1v4.1h-1zM64 28.0h1v4.1h-1zM1 32.0h1v2.1h-1zM49 32.0h1v2.1h-1zM8 38.0h1v2.1h-1zM10 38.0h1v2.1h-1zM29 38.0h1v2.1h-1zM43 38.0h1v2.1h-1zM65 38.0h1v2.1h-1zM77 38.0h1v2.1h-1zM11 40.0h1v2.1h-1zM26 40.0h2v2.1h-2zM31 40.0h1v2.1h-1zM47 40.0h1v2.1h-1zM51 40.0h1v2.1h-1zM60 40.0h1v2.1h-1zM71 40.0h1v2.1h-1zM3 42.0h1v4.1h-1zM11 42.0h1v4.1h-1zM27 42.0h1v4.1h-1zM29 42.0h1v4.1h-1zM51 42.0h1v4.1h-1zM54 42.0h1v4.1h-1zM0 46.0h1v2.1h-1zM13 46.0h1v2.1h-1zM32 46.0h1v2.1h-1zM35 46.0h1v2.1h-1zM45 46.0h1v2.1h-1zM68 46.0h1v2.1h-1zM77 46.0h1v2.1h-1zM3 48.0h2v4.1h-2zM9 48.0h1v4.1h-1zM32 48.0h1v4.1h-1zM42 48.0h1v4.1h-1zM65 48.0h1v4.1h-1zM80 48.0h1v4.1h-1zM4 52.0h1v2.1h-1zM20 52.0h1v2.1h-1zM28 52.0h1v2.1h-1zM41 52.0h1v2.1h-1zM48 52.0h1v2.1h-1zM60 52.0h1v2.1h-1zM69 52.0h1v2.1h-1zM71 52.0h1v2.1h-1zM81 52.0h1v2.1h-1zM8 54.0h1v4.1h-1zM12 54.0h1v4.1h-1zM31 54.0h1v4.1h-1zM49 54.0h1v4.1h-1zM55 54.0h1v4.1h-1zM58 54.0h1v4.1h-1zM79 54.0h1v4.1h-1zM23 58.0h2v4.1h-2zM38 58.0h1v4.1h-1zM42 58.0h1v4.1h-1zM64 58.0h1v4.1h-1zM75 58.0h1v4.1h-1zM10 62.0h1v2.1h-1zM21 62.0h1v2.1h-1zM27 62.0h1v2.1h-1zM64 62.0h1v2.1h-1zM69 62.0h1v2.1h-1zM16 64.0h1v4.1h-1zM52 64.0h1v4.1h-1zM65 64.0h1v4.1h-1zM77 64.0h1v4.1h-1zM83 64.0h1v4.1h-1zM31 68.0h1v4.1h-1zM73 68.0h1v4.1h-1zM79 68.0h1v4.1h-1zM84 68.0h1v4.1h-1zM0 72.0h1v2.1h-1zM42 72.0h1v2.1h-1zM2 74.0h1v4.1h-1zM5 74.0h1v4.1h-1zM37 74.0h1v4.1h-1zM45 74.0h1v4.1h-1zM47 74.0h1v4.1h-1zM53 74.0h1v4.1h-1zM9 78.0h1v4.1h-1zM20 78.0h1v4.1h-1zM26 78.0h1v4.1h-1zM34 78.0h1v4.1h-1zM67 78.0h2v4.1h-2zM78 78.0h1v4.1h-1zM80 78.0h1v4.1h-1zM88 78.0h1v4.1h-1zM31 82.0h1v4.1h-1zM39 82.0h1v4.1h-1zM45 82.0h1v4.1h-1zM60 82.0h1v4.1h-1zM71 82.0h1v4.1h-1zM83 82.0h1v4.1h-1zM36 86.0h1v4.1h-1zM40 86.0h1v4.1h-1zM55 86.0h1v4.1h-1zM57 86.0h1v4.1h-1zM72 86.0h1v4.1h-1zM81 86.0h1v4.1h-1zM2 90.0h1v4.1h-1zM16 90.0h1v4.1h-1zM18 90.0h1v4.1h-1zM21 90.0h1v4.1h-1zM24 90.0h1v4.1h-1zM28 90.0h1v4.1h-1zM51 90.0h1v4.1h-1zM59 90.0h1v4.1h-1zM71 90.0h1v4.1h-1zM41 94.0h1v4.1h-1zM49 94.0h2v4.1h-2zM62 94.0h1v4.1h-1zM64 94.0h1v4.1h-1zM71 94.0h1v4.1h-1zM88 94.0h1v4.1h-1zM22 98.0h1v4.1h-1zM44 98.0h1v4.1h-1zM51 98.0h1v4.1h-1zM65 98.0h1v4.1h-1zM67 98.0h1v4.1h-1zM83 98.0h1v4.1h-1zM85 98.0h1v4.1h-1zM88 98.0h1v4.1h-1zM11 102.0h1v4.1h-1zM18 102.0h1v4.1h-1zM20 102.0h1v4.1h-1zM40 102.0h1v4.1h-1zM43 102.0h1v4.1h-1zM52 102.0h1v4.1h-1zM56 102.0h1v4.1h-1zM64 102.0h1v4.1h-1zM1 106.0h1v6.1h-1zM20 106.0h1v6.1h-1zM26 106.0h1v6.1h-1zM28 106.0h1v6.1h-1zM31 106.0h1v6.1h-1zM37 106.0h1v6.1h-1zM44 106.0h1v6.1h-1zM52 106.0h1v6.1h-1zM69 106.0h1v6.1h-1zM83 106.0h1v6.1h-1zM7 112.0h1v4.1h-1zM16 112.0h1v4.1h-1zM19 112.0h1v4.1h-1zM30 112.0h1v4.1h-1zM32 112.0h3v4.1h-3zM58 112.0h1v4.1h-1z"/>
<path fill="#300037" d="M8 28.0h1v4.1h-1zM12 28.0h1v4.1h-1zM29 28.0h1v4.1h-1zM71 28.0h1v4.1h-1zM27 34.0h1v4.1h-1zM71 34.0h1v4.1h-1zM15 38.0h1v2.1h-1zM74 38.0h1v2.1h-1zM46 40.0h1v2.1h-1zM50 40.0h1v2.1h-1zM58 40.0h1v2.1h-1zM26 42.0h1v4.1h-1zM35 42.0h2v4.1h-2zM42 42.0h1v4.1h-1zM59 42.0h1v4.1h-1zM74 42.0h1v4.1h-1zM79 42.0h1v4.1h-1zM3 46.0h1v2.1h-1zM16 46.0h1v2.1h-1zM30 46.0h1v2.1h-1zM47 46.0h1v2.1h-1zM65 46.0h1v2.1h-1zM82 46.0h1v2.1h-1zM11 48.0h1v4.1h-1zM19 48.0h1v4.1h-1zM22 48.0h1v4.1h-1zM26 48.0h1v4.1h-1zM37 48.0h1v4.1h-1zM84 48.0h1v4.1h-1zM1 52.0h1v2.1h-1zM17 52.0h1v2.1h-1zM51 52.0h1v2.1h-1zM54 52.0h1v2.1h-1zM66 52.0h1v2.1h-1zM85 52.0h2v2.1h-2zM88 52.0h1v2.1h-1zM14 54.0h1v4.1h-1zM18 54.0h1v4.1h-1zM25 54.0h1v4.1h-1zM38 54.0h1v4.1h-1zM40 54.0h1v4.1h-1zM53 54.0h2v4.1h-2zM75 54.0h1v4.1h-1zM0 58.0h1v4.1h-1zM2 58.0h1v4.1h-1zM22 58.0h1v4.1h-1zM26 58.0h1v4.1h-1zM30 58.0h1v4.1h-1zM51 58.0h1v4.1h-1zM54 58.0h1v4.1h-1zM79 58.0h1v4.1h-1zM20 62.0h1v2.1h-1zM25 62.0h1v2.1h-1zM28 62.0h1v2.1h-1zM38 62.0h1v2.1h-1zM42 62.0h1v2.1h-1zM78 62.0h1v2.1h-1zM70 64.0h1v4.1h-1zM84 64.0h1v4.1h-1zM5 68.0h1v4.1h-1zM44 68.0h1v4.1h-1zM64 68.0h1v4.1h-1zM86 68.0h1v4.1h-1zM17 72.0h1v2.1h-1zM20 72.0h1v2.1h-1zM34 72.0h1v2.1h-1zM65 72.0h1v2.1h-1zM68 72.0h1v2.1h-1zM54 74.0h1v4.1h-1zM53 78.0h1v4.1h-1zM71 78.0h2v4.1h-2zM16 82.0h1v4.1h-1zM36 82.0h1v4.1h-1zM42 82.0h1v4.1h-1zM63 82.0h1v4.1h-1zM84 82.0h1v4.1h-1zM28 86.0h1v4.1h-1zM35 86.0h1v4.1h-1zM63 86.0h1v4.1h-1zM73 86.0h1v4.1h-1zM56 90.0h1v4.1h-1zM69 90.0h1v4.1h-1zM33 94.0h1v4.1h-1zM47 94.0h1v4.1h-1zM56 94.0h1v4.1h-1zM84 94.0h1v4.1h-1zM27 98.0h1v4.1h-1zM47 98.0h1v4.1h-1zM61 98.0h1v4.1h-1zM39 102.0h1v4.1h-1zM47 102.0h1v4.1h-1zM50 102.0h1v4.1h-1zM61 102.0h1v4.1h-1zM13 106.0h1v6.1h-1zM55 106.0h1v6.1h-1zM22 112.0h1v4.1h-1zM27 112.0h1v4.1h-1zM54 112.0h1v4.1h-1zM56 112.0h1v4.1h-1zM65 112.0h1v4.1h-1zM82 112.0h1v4.1h-1z"/>
<path fill="#2d00e6" d="M9 28.0h1v4.1h-1zM22 28.0h1v4.1h-1zM40 28.0h1v4.1h-1zM82 28.0h1v4.1h-1zM38 32.0h1v2.1h-1zM19 34.0h1v4.1h-1zM21 34.0h1v4.1h-1zM41 34.0h1v4.1h-1zM48 34.0h1v4.1h-1zM62 38.0h1v2.1h-1zM48 40.0h1v2.1h-1zM83 42.0h1v4.1h-1zM41 46.0h1v2.1h-1zM69 46.0h1v2.1h-1zM43 48.0h1v4.1h-1zM77 52.0h1v2.1h-1zM10 54.0h1v4.1h-1zM20 54.0h1v4.1h-1zM69 54.0h1v4.1h-1zM36 62.0h1v2.1h-1zM16 68.0h1v4.1h-1zM58 68.0h1v4.1h-1zM49 72.0h1v2.1h-1zM66 74.0h1v4.1h-1zM3 78.0h1v4.1h-1zM28 78.0h1v4.1h-1zM28 82.0h1v4.1h-1zM61 82.0h1v4.1h-1zM64 82.0h1v4.1h-1zM41 86.0h1v4.1h-1zM61 86.0h1v4.1h-1zM75 94.0h1v4.1h-1zM6 102.0h1v4.1h-1zM66 102.0h1v4.1h-1zM73 102.0h1v4.1h-1zM71 106.0h1v6.1h-1zM47 112.0h1v4.1h-1z"/>
<path fill="#52008f" d="M10 28.0h1v4.1h-1zM27 28.0h1v4.1h-1zM57 28.0h1v4.1h-1zM59 28.0h1v4.1h-1zM81 28.0h1v4.1h-1zM10 32.0h1v2.1h-1zM17 32.0h1v2.1h-1zM19 32.0h1v2.1h-1zM34 32.0h1v2.1h-1zM60 32.0h1v2.1h-1zM63 32.0h2v2.1h-2zM74 32.0h1v2.1h-1zM79 32.0h1v2.1h-1zM0 34.0h1v4.1h-1zM17 34.0h1v4.1h-1zM29 34.0h1v4.1h-1zM37 34.0h1v4.1h-1zM74 34.0h2v4.1h-2zM78 34.0h1v4.1h-1zM86 34.0h1v4.1h-1zM0 38.0h1v2.1h-1zM17 38.0h1v2.1h-1zM54 38.0h1v2.1h-1zM58 38.0h1v2.1h-1zM67 38.0h1v2.1h-1zM75 38.0h1v2.1h-1zM3 40.0h1v2.1h-1zM9 40.0h1v2.1h-1zM15 40.0h1v2.1h-1zM21 40.0h1v2.1h-1zM25 40.0h1v2.1h-1zM55 40.0h1v2.1h-1zM75 40.0h1v2.1h-1zM18 42.0h1v4.1h-1zM32 42.0h1v4.1h-1zM52 42.0h1v4.1h-1zM65 42.0h1v4.1h-1zM85 42.0h1v4.1h-1zM88 42.0h1v4.1h-1zM9 46.0h1v2.1h-1zM58 46.0h1v2.1h-1zM18 48.0h1v4.1h-1zM39 48.0h1v4.1h-1zM58 48.0h1v4.1h-1zM60 48.0h1v4.1h-1zM64 48.0h1v4.1h-1zM67 48.0h1v4.1h-1zM82 48.0h1v4.1h-1zM3 52.0h1v2.1h-1zM16 52.0h1v2.1h-1zM32 52.0h2v2.1h-2zM39 52.0h1v2.1h-1zM43 52.0h1v2.1h-1zM52 52.0h1v2.1h-1zM64 52.0h1v2.1h-1zM82 52.0h1v2.1h-1zM7 54.0h1v4.1h-1zM24 54.0h1v4.1h-1zM34 54.0h2v4.1h-2zM5 58.0h1v4.1h-1zM7 58.0h2v4.1h-2zM61 58.0h1v4.1h-1zM67 58.0h1v4.1h-1zM14 62.0h1v2.1h-1zM37 62.0h1v2.1h-1zM53 62.0h1v2.1h-1zM82 62.0h1v2.1h-1zM37 64.0h1v4.1h-1zM48 64.0h1v4.1h-1zM61 64.0h1v4.1h-1zM69 64.0h1v4.1h-1zM75 64.0h1v4.1h-1zM88 64.0h1v4.1h-1zM40 68.0h1v4.1h-1zM61 68.0h1v4.1h-1zM65 68.0h1v4.1h-1zM2 72.0h1v2.1h-1zM9 72.0h1v2.1h-1zM21 72.0h1v2.1h-1zM59 72.0h1v2.1h-1zM83 72.0h1v2.1h-1zM85 72.0h1v2.1h-1zM88 72.0h1v2.1h-1zM42 74.0h1v4.1h-1zM68 74.0h1v4.1h-1zM88 74.0h1v4.1h-1zM60 78.0h1v4.1h-1zM86 78.0h1v4.1h-1zM3 82.0h1v4.1h-1zM66 82.0h1v4.1h-1zM9 86.0h1v4.1h-1zM34 86.0h1v4.1h-1zM45 86.0h1v4.1h-1zM47 86.0h1v4.1h-1zM83 86.0h1v4.1h-1zM34 90.0h1v4.1h-1zM66 90.0h1v4.1h-1zM68 90.0h1v4.1h-1zM75 90.0h1v4.1h-1zM4 94.0h1v4.1h-1zM28 94.0h1v4.1h-1zM35 94.0h1v4.1h-1zM63 94.0h1v4.1h-1zM76 94.0h1v4.1h-1zM79 94.0h1v4.1h-1zM7 98.0h1v4.1h-1zM26 98.0h1v4.1h-1zM28 98.0h1v4.1h-1zM31 98.0h1v4.1h-1zM63 98.0h1v4.1h-1zM68 98.0h1v4.1h-1zM72 98.0h1v4.1h-1zM5 102.0h1v4.1h-1zM24 102.0h1v4.1h-1zM33 102.0h1v4.1h-1zM51 102.0h1v4.1h-1zM76 102.0h1v4.1h-1zM80 102.0h1v4.1h-1zM85 102.0h1v4.1h-1zM7 106.0h1v6.1h-1zM11 106.0h1v6.1h-1zM17 106.0h1v6.1h-1zM70 106.0h1v6.1h-1zM80 106.0h1v6.1h-1zM31 112.0h1v4.1h-1zM73 112.0h1v4.1h-1z"/>
<path fill="#500073" d="M11 28.0h1v4.1h-1zM16 28.0h1v4.1h-1zM21 28.0h1v4.1h-1zM44 28.0h1v4.1h-1zM48 28.0h2v4.1h-2zM67 28.0h1v4.1h-1zM21 32.0h1v2.1h-1zM23 32.0h1v2.1h-1zM37 32.0h1v2.1h-1zM77 32.0h1v2.1h-1zM81 32.0h1v2.1h-1zM87 32.0h1v2.1h-1zM3 34.0h1v4.1h-1zM6 34.0h1v4.1h-1zM63 34.0h1v4.1h-1zM66 34.0h1v4.1h-1zM76 34.0h1v4.1h-1zM13 38.0h1v2.1h-1zM23 38.0h1v2.1h-1zM31 38.0h1v2.1h-1zM37 38.0h1v2.1h-1zM51 38.0h1v2.1h-1zM66 38.0h1v2.1h-1zM71 38.0h1v2.1h-1zM81 38.0h2v2.1h-2zM35 40.0h1v2.1h-1zM39 40.0h1v2.1h-1zM66 40.0h1v2.1h-1zM77 40.0h1v2.1h-1zM83 40.0h1v2.1h-1zM88 40.0h1v2.1h-1zM1 42.0h1v4.1h-1zM10 42.0h1v4.1h-1zM24 42.0h1v4.1h-1zM44 42.0h1v4.1h-1zM66 42.0h1v4.1h-1zM68 42.0h1v4.1h-1zM71 42.0h1v4.1h-1zM81 42.0h1v4.1h-1zM21 46.0h1v2.1h-1zM28 46.0h1v2.1h-1zM57 46.0h1v2.1h-1zM70 46.0h2v2.1h-2zM76 46.0h1v2.1h-1zM81 46.0h1v2.1h-1zM27 48.0h1v4.1h-1zM55 48.0h1v4.1h-1zM68 48.0h1v4.1h-1zM81 48.0h1v4.1h-1zM88 48.0h1v4.1h-1zM23 52.0h1v2.1h-1zM27 52.0h1v2.1h-1zM34 52.0h1v2.1h-1zM53 52.0h1v2.1h-1zM58 52.0h1v2.1h-1zM72 52.0h1v2.1h-1zM76 52.0h1v2.1h-1zM78 52.0h1v2.1h-1zM0 54.0h1v4.1h-1zM5 54.0h1v4.1h-1zM27 54.0h1v4.1h-1zM41 54.0h1v4.1h-1zM48 54.0h1v4.1h-1zM9 58.0h1v4.1h-1zM37 58.0h1v4.1h-1zM49 58.0h1v4.1h-1zM77 58.0h1v4.1h-1zM7 62.0h1v2.1h-1zM16 62.0h1v2.1h-1zM85 62.0h1v2.1h-1zM7 64.0h1v4.1h-1zM11 64.0h1v4.1h-1zM60 64.0h1v4.1h-1zM1 68.0h1v4.1h-1zM54 68.0h1v4.1h-1zM67 68.0h1v4.1h-1zM74 68.0h1v4.1h-1zM83 68.0h1v4.1h-1zM4 72.0h2v2.1h-2zM33 72.0h1v2.1h-1zM48 72.0h1v2.1h-1zM52 72.0h1v2.1h-1zM60 72.0h1v2.1h-1zM87 72.0h1v2.1h-1zM8 74.0h1v4.1h-1zM28 74.0h1v4.1h-1zM38 74.0h1v4.1h-1zM40 74.0h1v4.1h-1zM65 74.0h1v4.1h-1zM67 74.0h1v4.1h-1zM79 74.0h1v4.1h-1zM87 74.0h1v4.1h-1zM12 78.0h1v4.1h-1zM27 78.0h1v4.1h-1zM33 78.0h1v4.1h-1zM43 78.0h1v4.1h-1zM51 78.0h1v4.1h-1zM64 78.0h1v4.1h-1zM10 82.0h1v4.1h-1zM34 82.0h1v4.1h-1zM41 82.0h1v4.1h-1zM43 82.0h1v4.1h-1zM51 82.0h1v4.1h-1zM70 82.0h1v4.1h-1zM79 82.0h1v4.1h-1zM29 86.0h1v4.1h-1zM48 86.0h1v4.1h-1zM70 86.0h2v4.1h-2zM78 86.0h2v4.1h-2zM82 86.0h1v4.1h-1zM57 90.0h1v4.1h-1zM81 90.0h1v4.1h-1zM87 90.0h1v4.1h-1zM7 94.0h1v4.1h-1zM13 94.0h1v4.1h-1zM22 94.0h1v4.1h-1zM18 98.0h1v4.1h-1zM45 98.0h1v4.1h-1zM54 98.0h1v4.1h-1zM79 98.0h2v4.1h-2zM21 102.0h2v4.1h-2zM25 102.0h1v4.1h-1zM27 102.0h1v4.1h-1zM32 102.0h1v4.1h-1zM38 102.0h1v4.1h-1zM44 102.0h1v4.1h-1zM55 102.0h1v4.1h-1zM79 102.0h1v4.1h-1zM8 106.0h1v6.1h-1zM22 106.0h1v6.1h-1zM24 106.0h1v6.1h-1zM27 106.0h1v6.1h-1zM41 106.0h1v6.1h-1zM45 106.0h1v6.1h-1zM47 106.0h1v6.1h-1zM51 106.0h1v6.1h-1zM61 106.0h1v6.1h-1zM63 106.0h1v6.1h-1zM73 106.0h1v6.1h-1zM84 106.0h1v6.1h-1zM87 106.0h2v6.1h-2zM28 112.0h1v4.1h-1zM41 112.0h1v4.1h-1z"/>
<path fill="#007eff" d="M13 28.0h1v4.1h-1zM38 38.0h1v2.1h-1z"/>
<path fill="#2000ed" d="M15 28.0h1v4.1h-1zM62 28.0h1v4.1h-1zM39 32.0h1v2.1h-1zM62 32.0h1v2.1h-1zM69 32.0h1v2.1h-1zM32 34.0h1v4.1h-1zM38 34.0h2v4.1h-2zM62 34.0h1v4.1h-1zM85 34.0h1v4.1h-1zM69 38.0h1v2.1h-1zM33 40.0h1v2.1h-1zM38 42.0h1v4.1h-1zM52 46.0h1v2.1h-1zM64 46.0h1v2.1h-1zM10 52.0h1v2.1h-1zM42 52.0h1v2.1h-1zM57 58.0h1v4.1h-1zM18 64.0h1v4.1h-1zM75 68.0h1v4.1h-1zM14 72.0h1v2.1h-1zM44 72.0h1v2.1h-1zM56 72.0h1v2.1h-1zM80 72.0h1v2.1h-1zM73 74.0h1v4.1h-1zM61 78.0h1v4.1h-1zM20 86.0h1v4.1h-1zM2 98.0h1v4.1h-1zM38 98.0h1v4.1h-1zM79 112.0h1v4.1h-1z"/>
<path fill="#44005a" d="M18 28.0h1v4.1h-1zM77 28.0h1v4.1h-1zM6 32.0h1v2.1h-1zM27 32.0h1v2.1h-1zM29 32.0h1v2.1h-1zM44 32.0h1v2.1h-1zM61 32.0h1v2.1h-1zM66 32.0h1v2.1h-1zM31 34.0h1v4.1h-1zM51 34.0h1v4.1h-1zM81 34.0h2v4.1h-2zM87 34.0h1v4.1h-1zM42 38.0h1v2.1h-1zM49 38.0h2v2.1h-2zM56 38.0h1v2.1h-1zM63 38.0h1v2.1h-1zM70 38.0h1v2.1h-1zM72 38.0h1v2.1h-1zM1 40.0h1v2.1h-1zM22 40.0h1v2.1h-1zM32 40.0h1v2.1h-1zM59 40.0h1v2.1h-1zM73 40.0h2v2.1h-2zM0 42.0h1v4.1h-1zM5 42.0h1v4.1h-1zM19 42.0h1v4.1h-1zM31 42.0h1v4.1h-1zM46 42.0h1v4.1h-1zM53 42.0h1v4.1h-1zM55 42.0h1v4.1h-1zM62 42.0h1v4.1h-1zM75 42.0h1v4.1h-1zM48 46.0h1v2.1h-1zM63 46.0h1v2.1h-1zM74 46.0h1v2.1h-1zM80 46.0h1v2.1h-1zM7 48.0h1v4.1h-1zM56 48.0h1v4.1h-1zM66 48.0h1v4.1h-1zM72 48.0h1v4.1h-1zM9 52.0h1v2.1h-1zM21 52.0h1v2.1h-1zM35 52.0h1v2.1h-1zM44 52.0h1v2.1h-1zM56 52.0h1v2.1h-1zM56 54.0h1v4.1h-1zM64 54.0h1v4.1h-1zM78 54.0h1v4.1h-1zM81 54.0h3v4.1h-3zM86 54.0h1v4.1h-1zM16 58.0h1v4.1h-1zM34 58.0h1v4.1h-1zM39 58.0h2v4.1h-2zM55 58.0h1v4.1h-1zM65 58.0h1v4.1h-1zM69 58.0h1v4.1h-1zM78 58.0h1v4.1h-1zM80 58.0h1v4.1h-1zM88 58.0h1v4.1h-1zM5 62.0h1v2.1h-1zM33 62.0h1v2.1h-1zM35 62.0h1v2.1h-1zM39 62.0h1v2.1h-1zM41 62.0h1v2.1h-1zM55 62.0h1v2.1h-1zM74 62.0h1v2.1h-1zM76 62.0h1v2.1h-1zM21 64.0h1v4.1h-1zM23 64.0h1v4.1h-1zM55 64.0h1v4.1h-1zM64 64.0h1v4.1h-1zM86 64.0h1v4.1h-1zM11 68.0h1v4.1h-1zM21 68.0h1v4.1h-1zM26 68.0h1v4.1h-1zM29 68.0h1v4.1h-1zM50 68.0h2v4.1h-2zM85 68.0h1v4.1h-1zM1 72.0h1v2.1h-1zM12 72.0h2v2.1h-2zM15 72.0h1v2.1h-1zM25 72.0h1v2.1h-1zM31 72.0h1v2.1h-1zM45 72.0h1v2.1h-1zM53 72.0h2v2.1h-2zM64 72.0h1v2.1h-1zM71 72.0h1v2.1h-1zM82 72.0h1v2.1h-1zM11 74.0h1v4.1h-1zM18 74.0h1v4.1h-1zM25 74.0h1v4.1h-1zM63 74.0h1v4.1h-1zM70 74.0h1v4.1h-1zM84 74.0h2v4.1h-2zM0 78.0h1v4.1h-1zM7 78.0h1v4.1h-1zM41 78.0h1v4.1h-1zM62 78.0h1v4.1h-1zM69 78.0h1v4.1h-1zM84 78.0h1v4.1h-1zM9 82.0h1v4.1h-1zM14 82.0h1v4.1h-1zM20 82.0h1v4.1h-1zM27 82.0h1v4.1h-1zM37 82.0h1v4.1h-1zM50 82.0h1v4.1h-1zM73 82.0h1v4.1h-1zM76 82.0h1v4.1h-1zM3 86.0h1v4.1h-1zM24 86.0h1v4.1h-1zM59 86.0h2v4.1h-2zM1 90.0h1v4.1h-1zM7 90.0h1v4.1h-1zM17 90.0h1v4.1h-1zM30 90.0h2v4.1h-2zM48 90.0h1v4.1h-1zM78 90.0h1v4.1h-1zM88 90.0h1v4.1h-1zM8 94.0h1v4.1h-1zM26 94.0h1v4.1h-1zM42 94.0h1v4.1h-1zM55 94.0h1v4.1h-1zM61 94.0h1v4.1h-1zM68 94.0h1v4.1h-1zM78 94.0h1v4.1h-1zM82 94.0h1v4.1h-1zM11 98.0h1v4.1h-1zM30 98.0h1v4.1h-1zM33 98.0h1v4.1h-1zM41 98.0h1v4.1h-1zM49 98.0h1v4.1h-1zM52 98.0h2v4.1h-2zM60 98.0h1v4.1h-1zM73 98.0h1v4.1h-1zM8 102.0h3v4.1h-3zM13 102.0h1v4.1h-1zM23 102.0h1v4.1h-1zM28 102.0h1v4.1h-1zM48 102.0h1v4.1h-1zM63 102.0h1v4.1h-1zM68 102.0h1v4.1h-1zM25 106.0h1v6.1h-1zM40 106.0h1v6.1h-1zM64 106.0h1v6.1h-1zM66 106.0h1v6.1h-1zM68 106.0h1v6.1h-1zM8 112.0h2v4.1h-2zM38 112.0h1v4.1h-1zM40 112.0h1v4.1h-1zM68 112.0h1v4.1h-1zM71 112.0h1v4.1h-1zM76 112.0h1v4.1h-1zM78 112.0h1v4.1h-1z"/>
<path fill="#0600fb" d="M19 28.0h1v4.1h-1zM30 28.0h1v4.1h-1zM41 28.0h1v4.1h-1zM36 32.0h1v2.1h-1zM9 34.0h1v4.1h-1zM57 34.0h1v4.1h-1zM38 40.0h1v2.1h-1zM5 48.0h1v4.1h-1zM10 48.0h1v4.1h-1zM52 48.0h1v4.1h-1zM88 68.0h1v4.1h-1zM3 72.0h1v2.1h-1zM73 78.0h1v4.1h-1zM66 86.0h1v4.1h-1zM25 98.0h1v4.1h-1zM87 98.0h1v4.1h-1z"/>
<path fill="#200023" d="M20 28.0h1v4.1h-1zM66 28.0h1v4.1h-1zM74 28.0h1v4.1h-1zM14 32.0h1v2.1h-1zM18 32.0h1v2.1h-1zM20 32.0h1v2.1h-1zM78 32.0h1v2.1h-1zM25 34.0h1v4.1h-1zM27 38.0h1v2.1h-1zM20 40.0h1v2.1h-1zM39 42.0h1v4.1h-1zM70 42.0h1v4.1h-1zM46 46.0h1v2.1h-1zM62 46.0h1v2.1h-1zM79 46.0h1v2.1h-1zM87 46.0h1v2.1h-1zM21 48.0h1v4.1h-1zM50 48.0h1v4.1h-1zM54 48.0h1v4.1h-1zM73 48.0h1v4.1h-1zM83 48.0h1v4.1h-1zM11 52.0h1v2.1h-1zM26 52.0h1v2.1h-1zM45 52.0h1v2.1h-1zM75 52.0h1v2.1h-1zM80 52.0h1v2.1h-1zM83 52.0h1v2.1h-1zM39 54.0h1v4.1h-1zM46 54.0h1v4.1h-1zM11 58.0h1v4.1h-1zM47 58.0h1v4.1h-1zM1 62.0h1v2.1h-1zM13 62.0h1v2.1h-1zM19 62.0h1v2.1h-1zM22 62.0h1v2.1h-1zM32 62.0h1v2.1h-1zM45 62.0h1v2.1h-1zM47 62.0h1v2.1h-1zM73 62.0h1v2.1h-1zM79 62.0h1v2.1h-1zM19 64.0h1v4.1h-1zM47 64.0h1v4.1h-1zM76 64.0h1v4.1h-1zM12 68.0h1v4.1h-1zM20 68.0h1v4.1h-1zM46 68.0h2v4.1h-2zM53 68.0h1v4.1h-1zM81 68.0h1v4.1h-1zM7 72.0h1v2.1h-1zM18 72.0h1v2.1h-1zM22 72.0h1v2.1h-1zM81 72.0h1v2.1h-1zM0 74.0h1v4.1h-1zM17 74.0h1v4.1h-1zM24 74.0h1v4.1h-1zM35 74.0h1v4.1h-1zM39 74.0h1v4.1h-1zM50 74.0h1v4.1h-1zM59 74.0h1v4.1h-1zM15 78.0h1v4.1h-1zM24 78.0h1v4.1h-1zM44 78.0h1v4.1h-1zM74 78.0h1v4.1h-1zM5 82.0h1v4.1h-1zM19 82.0h1v4.1h-1zM22 82.0h2v4.1h-2zM46 82.0h1v4.1h-1zM65 82.0h1v4.1h-1zM74 82.0h1v4.1h-1zM5 86.0h1v4.1h-1zM7 86.0h1v4.1h-1zM31 86.0h1v4.1h-1zM37 86.0h1v4.1h-1zM67 86.0h1v4.1h-1zM38 90.0h1v4.1h-1zM54 90.0h1v4.1h-1zM64 90.0h1v4.1h-1zM1 94.0h1v4.1h-1zM27 94.0h1v4.1h-1zM65 94.0h1v4.1h-1zM69 94.0h1v4.1h-1zM3 98.0h2v4.1h-2zM10 98.0h1v4.1h-1zM15 98.0h1v4.1h-1zM48 98.0h1v4.1h-1zM84 98.0h1v4.1h-1zM62 102.0h1v4.1h-1zM32 106.0h1v6.1h-1zM46 106.0h1v6.1h-1zM4 112.0h1v4.1h-1zM10 112.0h1v4.1h-1zM44 112.0h1v4.1h-1zM64 112.0h1v4.1h-1zM84 112.0h1v4.1h-1zM88 112.0h1v4.1h-1z"/>
<path fill="#3d004e" d="M23 28.0h1v4.1h-1zM25 28.0h1v4.1h-1zM65 28.0h1v4.1h-1zM11 32.0h1v2.1h-1zM16 32.0h1v2.1h-1zM31 32.0h1v2.1h-1zM1 34.0h1v4.1h-1zM12 34.0h1v4.1h-1zM67 34.0h1v4.1h-1zM70 34.0h1v4.1h-1zM14 38.0h1v2.1h-1zM25 38.0h1v2.1h-1zM6 40.0h1v2.1h-1zM23 40.0h1v2.1h-1zM53 40.0h1v2.1h-1zM85 40.0h1v2.1h-1zM8 42.0h1v4.1h-1zM12 42.0h1v4.1h-1zM15 42.0h1v4.1h-1zM17 42.0h1v4.1h-1zM30 42.0h1v4.1h-1zM40 42.0h1v4.1h-1zM76 42.0h1v4.1h-1zM4 46.0h2v2.1h-2zM12 46.0h1v2.1h-1zM15 46.0h1v2.1h-1zM20 46.0h1v2.1h-1zM37 46.0h1v2.1h-1zM51 46.0h1v2.1h-1zM61 46.0h1v2.1h-1zM66 46.0h1v2.1h-1zM88 46.0h1v2.1h-1zM0 48.0h2v4.1h-2zM25 48.0h1v4.1h-1zM35 48.0h1v4.1h-1zM40 48.0h1v4.1h-1zM69 48.0h1v4.1h-1zM71 48.0h1v4.1h-1zM76 48.0h1v4.1h-1zM78 48.0h2v4.1h-2zM85 48.0h1v4.1h-1zM0 52.0h1v2.1h-1zM12 52.0h2v2.1h-2zM19 52.0h1v2.1h-1zM37 52.0h1v2.1h-1zM62 52.0h1v2.1h-1zM2 54.0h1v4.1h-1zM22 54.0h1v4.1h-1zM30 54.0h1v4.1h-1zM32 54.0h1v4.1h-1zM37 54.0h1v4.1h-1zM44 54.0h1v4.1h-1zM50 54.0h1v4.1h-1zM70 54.0h1v4.1h-1zM72 54.0h1v4.1h-1zM74 54.0h1v4.1h-1zM77 54.0h1v4.1h-1zM1 58.0h1v4.1h-1zM12 58.0h2v4.1h-2zM46 58.0h1v4.1h-1zM50 58.0h1v4.1h-1zM68 58.0h1v4.1h-1zM81 58.0h1v4.1h-1zM83 58.0h1v4.1h-1zM6 62.0h1v2.1h-1zM70 62.0h1v2.1h-1zM77 62.0h1v2.1h-1zM5 64.0h1v4.1h-1zM9 64.0h2v4.1h-2zM20 64.0h1v4.1h-1zM28 64.0h1v4.1h-1zM31 64.0h2v4.1h-2zM54 64.0h1v4.1h-1zM68 64.0h1v4.1h-1zM72 64.0h2v4.1h-2zM79 64.0h1v4.1h-1zM0 68.0h1v4.1h-1zM9 68.0h1v4.1h-1zM22 68.0h1v4.1h-1zM24 68.0h1v4.1h-1zM28 68.0h1v4.1h-1zM35 68.0h1v4.1h-1zM38 68.0h1v4.1h-1zM43 68.0h1v4.1h-1zM48 68.0h1v4.1h-1zM59 68.0h1v4.1h-1zM68 68.0h1v4.1h-1zM29 72.0h1v2.1h-1zM35 72.0h1v2.1h-1zM38 72.0h1v2.1h-1zM41 72.0h1v2.1h-1zM51 72.0h1v2.1h-1zM77 72.0h1v2.1h-1zM12 74.0h3v4.1h-3zM27 74.0h1v4.1h-1zM29 74.0h1v4.1h-1zM41 74.0h1v4.1h-1zM76 74.0h2v4.1h-2zM1 78.0h1v4.1h-1zM13 78.0h1v4.1h-1zM36 78.0h2v4.1h-2zM40 78.0h1v4.1h-1zM47 78.0h1v4.1h-1zM50 78.0h1v4.1h-1zM65 78.0h1v4.1h-1zM75 78.0h1v4.1h-1zM81 78.0h1v4.1h-1zM85 78.0h1v4.1h-1zM2 82.0h1v4.1h-1zM4 82.0h1v4.1h-1zM18 82.0h1v4.1h-1zM25 82.0h1v4.1h-1zM30 82.0h1v4.1h-1zM40 82.0h1v4.1h-1zM62 82.0h1v4.1h-1zM81 82.0h1v4.1h-1zM8 86.0h1v4.1h-1zM14 86.0h1v4.1h-1zM16 86.0h1v4.1h-1zM26 86.0h1v4.1h-1zM32 86.0h1v4.1h-1zM39 86.0h1v4.1h-1zM54 86.0h1v4.1h-1zM76 86.0h1v4.1h-1zM88 86.0h1v4.1h-1zM9 90.0h2v4.1h-2zM13 90.0h1v4.1h-1zM19 90.0h1v4.1h-1zM22 90.0h1v4.1h-1zM35 90.0h1v4.1h-1zM47 90.0h1v4.1h-1zM52 90.0h1v4.1h-1zM76 90.0h1v4.1h-1zM0 94.0h1v4.1h-1zM9 94.0h1v4.1h-1zM31 94.0h1v4.1h-1zM46 94.0h1v4.1h-1zM52 94.0h1v4.1h-1zM5 98.0h2v4.1h-2zM19 98.0h1v4.1h-1zM32 98.0h1v4.1h-1zM1 102.0h1v4.1h-1zM17 102.0h1v4.1h-1zM29 102.0h1v4.1h-1zM53 102.0h1v4.1h-1zM69 102.0h2v4.1h-2zM84 102.0h1v4.1h-1zM9 106.0h2v6.1h-2zM59 106.0h1v6.1h-1zM15 112.0h1v4.1h-1zM18 112.0h1v4.1h-1zM26 112.0h1v4.1h-1zM42 112.0h1v4.1h-1zM49 112.0h1v4.1h-1zM52 112.0h1v4.1h-1zM60 112.0h1v4.1h-1zM72 112.0h1v4.1h-1zM86 112.0h1v4.1h-1z"/>
<path fill="#00f5a0" d="M24 28.0h1v4.1h-1z"/>
<path fill="#4b00b9" d="M26 28.0h1v4.1h-1zM32 28.0h1v4.1h-1zM34 28.0h1v4.1h-1zM37 28.0h1v4.1h-1zM70 28.0h1v4.1h-1zM83 28.0h1v4.1h-1zM26 32.0h1v2.1h-1zM35 32.0h1v2.1h-1zM56 32.0h1v2.1h-1zM70 32.0h1v2.1h-1zM72 32.0h1v2.1h-1zM84 32.0h1v2.1h-1zM10 34.0h1v4.1h-1zM26 34.0h1v4.1h-1zM30 34.0h1v4.1h-1zM35 34.0h1v4.1h-1zM77 34.0h1v4.1h-1zM35 38.0h1v2.1h-1zM40 38.0h1v2.1h-1zM46 38.0h1v2.1h-1zM53 38.0h1v2.1h-1zM55 38.0h1v2.1h-1zM64 38.0h1v2.1h-1zM79 38.0h1v2.1h-1zM86 38.0h1v2.1h-1zM43 40.0h1v2.1h-1zM41 42.0h1v4.1h-1zM45 42.0h1v4.1h-1zM53 46.0h1v2.1h-1zM83 46.0h1v2.1h-1zM23 48.0h1v4.1h-1zM28 48.0h1v4.1h-1zM41 48.0h1v4.1h-1zM18 52.0h1v2.1h-1zM24 52.0h1v2.1h-1zM47 52.0h1v2.1h-1zM3 58.0h1v4.1h-1zM48 58.0h1v4.1h-1zM74 58.0h1v4.1h-1zM18 62.0h1v2.1h-1zM26 62.0h1v2.1h-1zM61 62.0h1v2.1h-1zM66 62.0h1v2.1h-1zM14 64.0h1v4.1h-1zM33 64.0h1v4.1h-1zM58 64.0h1v4.1h-1zM3 68.0h1v4.1h-1zM33 68.0h1v4.1h-1zM55 68.0h1v4.1h-1zM57 68.0h1v4.1h-1zM19 74.0h1v4.1h-1zM46 74.0h1v4.1h-1zM51 74.0h1v4.1h-1zM57 74.0h1v4.1h-1zM14 78.0h1v4.1h-1zM19 78.0h1v4.1h-1zM55 78.0h1v4.1h-1zM29 82.0h1v4.1h-1zM58 86.0h1v4.1h-1zM12 90.0h1v4.1h-1zM20 90.0h1v4.1h-1zM61 90.0h1v4.1h-1zM80 90.0h1v4.1h-1zM20 94.0h1v4.1h-1zM34 94.0h1v4.1h-1zM12 98.0h1v4.1h-1zM70 98.0h1v4.1h-1zM2 102.0h1v4.1h-1zM12 102.0h1v4.1h-1zM36 102.0h1v4.1h-1zM58 102.0h1v4.1h-1zM67 102.0h1v4.1h-1zM71 102.0h2v4.1h-2zM1 112.0h1v4.1h-1zM50 112.0h1v4.1h-1zM53 112.0h1v4.1h-1z"/>
<path fill="#1300f4" d="M28 28.0h1v4.1h-1zM69 28.0h1v4.1h-1zM79 28.0h1v4.1h-1zM83 32.0h1v2.1h-1zM45 38.0h1v2.1h-1zM5 52.0h1v2.1h-1zM1 54.0h1v4.1h-1zM71 62.0h1v2.1h-1zM57 64.0h1v4.1h-1zM75 72.0h1v2.1h-1zM3 74.0h1v4.1h-1zM83 74.0h1v4.1h-1zM57 78.0h1v4.1h-1zM68 82.0h1v4.1h-1zM2 106.0h1v6.1h-1z"/>
<path fill="#4100c8" d="M31 28.0h1v4.1h-1zM35 28.0h1v4.1h-1zM39 28.0h1v4.1h-1zM42 32.0h1v2.1h-1zM47 32.0h1v2.1h-1zM53 32.0h1v2.1h-1zM85 32.0h1v2.1h-1zM28 34.0h1v4.1h-1zM50 34.0h1v4.1h-1zM58 34.0h1v4.1h-1zM69 34.0h1v4.1h-1zM2 38.0h1v2.1h-1zM11 38.0h1v2.1h-1zM19 38.0h1v2.1h-1zM30 38.0h1v2.1h-1zM34 38.0h1v2.1h-1zM39 38.0h1v2.1h-1zM48 38.0h1v2.1h-1zM85 38.0h1v2.1h-1zM28 40.0h1v2.1h-1zM30 40.0h1v2.1h-1zM62 40.0h1v2.1h-1zM64 40.0h1v2.1h-1zM67 40.0h1v2.1h-1zM34 42.0h1v4.1h-1zM69 42.0h1v4.1h-1zM24 46.0h1v2.1h-1zM33 46.0h1v2.1h-1zM38 48.0h1v4.1h-1zM55 52.0h1v2.1h-1zM57 52.0h1v2.1h-1zM44 58.0h1v4.1h-1zM53 58.0h1v4.1h-1zM76 58.0h1v4.1h-1zM51 64.0h1v4.1h-1zM66 64.0h1v4.1h-1zM8 72.0h1v2.1h-1zM28 72.0h1v2.1h-1zM78 74.0h1v4.1h-1zM66 78.0h1v4.1h-1zM76 78.0h1v4.1h-1zM57 82.0h1v4.1h-1zM75 82.0h1v4.1h-1zM78 82.0h1v4.1h-1zM86 82.0h1v4.1h-1zM51 86.0h1v4.1h-1zM69 86.0h1v4.1h-1zM75 86.0h1v4.1h-1zM80 86.0h1v4.1h-1zM45 90.0h1v4.1h-1zM2 94.0h1v4.1h-1zM11 94.0h1v4.1h-1zM45 94.0h1v4.1h-1zM58 94.0h1v4.1h-1zM66 94.0h1v4.1h-1zM21 98.0h1v4.1h-1zM64 98.0h1v4.1h-1zM71 98.0h1v4.1h-1zM75 102.0h1v4.1h-1zM53 106.0h1v6.1h-1zM75 106.0h1v6.1h-1zM79 106.0h1v6.1h-1zM81 106.0h1v6.1h-1z"/>
<path fill="#0013ff" d="M33 28.0h1v4.1h-1zM21 38.0h1v2.1h-1zM36 48.0h1v4.1h-1zM18 86.0h1v4.1h-1zM58 90.0h1v4.1h-1z"/>
<path fill="#3700d7" d="M36 28.0h1v4.1h-1zM42 28.0h2v4.1h-2zM50 28.0h1v4.1h-1zM56 28.0h1v4.1h-1zM60 28.0h1v4.1h-1zM76 28.0h1v4.1h-1zM9 32.0h1v2.1h-1zM28 32.0h1v2.1h-1zM73 32.0h1v2.1h-1zM86 32.0h1v2.1h-1zM42 34.0h1v4.1h-1zM52 34.0h2v4.1h-2zM4 38.0h1v2.1h-1zM28 38.0h1v2.1h-1zM44 38.0h1v2.1h-1zM52 38.0h1v2.1h-1zM59 38.0h1v2.1h-1zM61 38.0h1v2.1h-1zM68 38.0h1v2.1h-1zM45 40.0h1v2.1h-1zM10 46.0h1v2.1h-1zM38 46.0h1v2.1h-1zM43 46.0h1v2.1h-1zM33 48.0h1v4.1h-1zM33 54.0h1v4.1h-1zM10 58.0h1v4.1h-1zM3 62.0h1v2.1h-1zM3 64.0h1v4.1h-1zM85 64.0h1v4.1h-1zM55 72.0h1v2.1h-1zM66 72.0h1v2.1h-1zM49 74.0h1v4.1h-1zM55 74.0h1v4.1h-1zM61 74.0h1v4.1h-1zM10 86.0h1v4.1h-1zM68 86.0h1v4.1h-1zM25 90.0h1v4.1h-1zM85 90.0h2v4.1h-2zM12 94.0h1v4.1h-1zM67 106.0h1v6.1h-1zM45 112.0h1v4.1h-1zM75 112.0h1v4.1h-1zM81 112.0h1v4.1h-1z"/>
<path fill="#0006ff" d="M38 28.0h1v4.1h-1zM52 28.0h1v4.1h-1zM36 34.0h1v4.1h-1zM24 38.0h1v2.1h-1zM33 42.0h1v4.1h-1zM25 46.0h1v2.1h-1zM57 62.0h1v2.1h-1zM43 98.0h1v4.1h-1zM66 98.0h1v4.1h-1z"/>
<path fill="#510081" d="M46 28.0h1v4.1h-1zM61 28.0h1v4.1h-1zM78 28.0h1v4.1h-1zM87 28.0h2v4.1h-2zM2 32.0h1v2.1h-1zM13 32.0h1v2.1h-1zM15 32.0h1v2.1h-1zM22 32.0h1v2.1h-1zM45 32.0h1v2.1h-1zM57 32.0h2v2.1h-2zM67 32.0h1v2.1h-1zM7 34.0h1v4.1h-1zM23 34.0h1v4.1h-1zM40 34.0h1v4.1h-1zM46 34.0h2v4.1h-2zM49 34.0h1v4.1h-1zM72 34.0h1v4.1h-1zM79 34.0h1v4.1h-1zM84 34.0h1v4.1h-1zM5 38.0h2v2.1h-2zM47 38.0h1v2.1h-1zM60 38.0h1v2.1h-1zM88 38.0h1v2.1h-1zM34 40.0h1v2.1h-1zM37 40.0h1v2.1h-1zM41 40.0h1v2.1h-1zM72 40.0h1v2.1h-1zM78 40.0h1v2.1h-1zM81 40.0h1v2.1h-1zM21 42.0h1v4.1h-1zM23 42.0h1v4.1h-1zM48 42.0h1v4.1h-1zM67 42.0h1v4.1h-1zM78 42.0h1v4.1h-1zM1 46.0h1v2.1h-1zM18 46.0h1v2.1h-1zM40 46.0h1v2.1h-1zM24 48.0h1v4.1h-1zM30 48.0h2v4.1h-2zM34 48.0h1v4.1h-1zM44 48.0h2v4.1h-2zM53 48.0h1v4.1h-1zM61 48.0h1v4.1h-1zM75 48.0h1v4.1h-1zM8 52.0h1v2.1h-1zM14 52.0h2v2.1h-2zM22 52.0h1v2.1h-1zM40 52.0h1v2.1h-1zM46 52.0h1v2.1h-1zM70 52.0h1v2.1h-1zM9 54.0h1v4.1h-1zM28 54.0h1v4.1h-1zM47 54.0h1v4.1h-1zM60 54.0h1v4.1h-1zM14 58.0h1v4.1h-1zM33 58.0h1v4.1h-1zM41 58.0h1v4.1h-1zM82 58.0h1v4.1h-1zM85 58.0h2v4.1h-2zM24 62.0h1v2.1h-1zM29 62.0h1v2.1h-1zM31 62.0h1v2.1h-1zM48 62.0h1v2.1h-1zM52 62.0h1v2.1h-1zM60 62.0h1v2.1h-1zM65 62.0h1v2.1h-1zM75 62.0h1v2.1h-1zM83 62.0h1v2.1h-1zM0 64.0h1v4.1h-1zM4 64.0h1v4.1h-1zM13 64.0h1v4.1h-1zM34 64.0h1v4.1h-1zM50 64.0h1v4.1h-1zM78 64.0h1v4.1h-1zM82 64.0h1v4.1h-1zM4 68.0h1v4.1h-1zM14 68.0h1v4.1h-1zM19 68.0h1v4.1h-1zM45 68.0h1v4.1h-1zM49 68.0h1v4.1h-1zM56 68.0h1v4.1h-1zM69 68.0h1v4.1h-1zM19 72.0h1v2.1h-1zM24 72.0h1v2.1h-1zM26 72.0h1v2.1h-1zM57 72.0h1v2.1h-1zM73 72.0h2v2.1h-2zM31 74.0h1v4.1h-1zM60 74.0h1v4.1h-1zM64 74.0h1v4.1h-1zM69 74.0h1v4.1h-1zM74 74.0h1v4.1h-1zM80 74.0h1v4.1h-1zM23 78.0h1v4.1h-1zM38 78.0h1v4.1h-1zM48 78.0h2v4.1h-2zM79 78.0h1v4.1h-1zM87 78.0h1v4.1h-1zM21 82.0h1v4.1h-1zM55 82.0h1v4.1h-1zM67 82.0h1v4.1h-1zM80 82.0h1v4.1h-1zM4 86.0h1v4.1h-1zM30 86.0h1v4.1h-1zM38 86.0h1v4.1h-1zM11 90.0h1v4.1h-1zM32 90.0h1v4.1h-1zM42 90.0h2v4.1h-2zM53 90.0h1v4.1h-1zM60 90.0h1v4.1h-1zM82 90.0h1v4.1h-1zM25 94.0h1v4.1h-1zM43 94.0h1v4.1h-1zM51 94.0h1v4.1h-1zM53 94.0h1v4.1h-1zM74 94.0h1v4.1h-1zM80 94.0h2v4.1h-2zM86 94.0h1v4.1h-1zM13 98.0h1v4.1h-1zM34 98.0h1v4.1h-1zM81 98.0h1v4.1h-1zM86 98.0h1v4.1h-1zM7 102.0h1v4.1h-1zM59 102.0h2v4.1h-2zM86 102.0h3v4.1h-3zM12 106.0h1v6.1h-1zM30 106.0h1v6.1h-1zM36 106.0h1v6.1h-1zM43 106.0h1v6.1h-1zM48 106.0h1v6.1h-1zM50 106.0h1v6.1h-1zM58 106.0h1v6.1h-1zM62 106.0h1v6.1h-1zM76 106.0h1v6.1h-1zM86 106.0h1v6.1h-1zM11 112.0h1v4.1h-1zM17 112.0h1v4.1h-1zM23 112.0h1v4.1h-1zM25 112.0h1v4.1h-1zM57 112.0h1v4.1h-1zM67 112.0h1v4.1h-1z"/>
<path fill="#130013" d="M51 28.0h1v4.1h-1zM80 28.0h1v4.1h-1zM24 34.0h1v4.1h-1zM73 34.0h1v4.1h-1zM80 34.0h1v4.1h-1zM16 38.0h1v2.1h-1zM7 40.0h1v2.1h-1zM47 42.0h1v4.1h-1zM50 42.0h1v4.1h-1zM73 42.0h1v4.1h-1zM82 42.0h1v4.1h-1zM14 48.0h1v4.1h-1zM45 54.0h1v4.1h-1zM32 58.0h1v4.1h-1zM35 58.0h1v4.1h-1zM71 58.0h1v4.1h-1zM62 62.0h1v2.1h-1zM6 64.0h1v4.1h-1zM15 64.0h1v4.1h-1zM25 64.0h1v4.1h-1zM41 64.0h1v4.1h-1zM10 68.0h1v4.1h-1zM23 68.0h1v4.1h-1zM36 68.0h1v4.1h-1zM39 68.0h1v4.1h-1zM87 68.0h1v4.1h-1zM62 72.0h1v2.1h-1zM76 72.0h1v2.1h-1zM84 72.0h1v2.1h-1zM20 74.0h1v4.1h-1zM5 78.0h1v4.1h-1zM22 78.0h1v4.1h-1zM17 82.0h1v4.1h-1zM33 82.0h1v4.1h-1zM59 82.0h1v4.1h-1zM88 82.0h1v4.1h-1zM2 86.0h1v4.1h-1zM22 86.0h1v4.1h-1zM46 86.0h1v4.1h-1zM56 86.0h1v4.1h-1zM23 90.0h1v4.1h-1zM30 94.0h1v4.1h-1zM39 94.0h1v4.1h-1zM9 98.0h1v4.1h-1zM14 98.0h1v4.1h-1zM29 98.0h1v4.1h-1zM46 98.0h1v4.1h-1zM59 98.0h1v4.1h-1zM54 102.0h1v4.1h-1zM5 106.0h1v6.1h-1zM49 106.0h1v6.1h-1zM6 112.0h1v4.1h-1zM39 112.0h1v4.1h-1zM46 112.0h1v4.1h-1z"/>
<path fill="#54009c" d="M55 28.0h1v4.1h-1zM63 28.0h1v4.1h-1zM72 28.0h1v4.1h-1zM84 28.0h2v4.1h-2zM0 32.0h1v2.1h-1zM12 32.0h1v2.1h-1zM30 32.0h1v2.1h-1zM32 32.0h1v2.1h-1zM43 32.0h1v2.1h-1zM46 32.0h1v2.1h-1zM48 32.0h1v2.1h-1zM68 32.0h1v2.1h-1zM75 32.0h1v2.1h-1zM88 32.0h1v2.1h-1zM5 34.0h1v4.1h-1zM11 34.0h1v4.1h-1zM22 34.0h1v4.1h-1zM34 34.0h1v4.1h-1zM44 34.0h2v4.1h-2zM59 34.0h1v4.1h-1zM83 34.0h1v4.1h-1zM88 34.0h1v4.1h-1zM3 38.0h1v2.1h-1zM26 38.0h1v2.1h-1zM36 38.0h1v2.1h-1zM78 38.0h1v2.1h-1zM83 38.0h1v2.1h-1zM4 40.0h1v2.1h-1zM19 40.0h1v2.1h-1zM24 40.0h1v2.1h-1zM54 40.0h1v2.1h-1zM61 40.0h1v2.1h-1zM76 40.0h1v2.1h-1zM86 40.0h1v2.1h-1zM28 42.0h1v4.1h-1zM37 42.0h1v4.1h-1zM60 42.0h1v4.1h-1zM64 42.0h1v4.1h-1zM86 42.0h1v4.1h-1zM36 46.0h1v2.1h-1zM55 46.0h1v2.1h-1zM78 46.0h1v2.1h-1zM85 46.0h2v2.1h-2zM57 48.0h1v4.1h-1zM70 48.0h1v4.1h-1zM77 48.0h1v4.1h-1zM7 52.0h1v2.1h-1zM38 52.0h1v2.1h-1zM67 52.0h1v2.1h-1zM3 54.0h1v4.1h-1zM63 54.0h1v4.1h-1zM31 58.0h1v4.1h-1zM58 58.0h1v4.1h-1zM60 58.0h1v4.1h-1zM66 58.0h1v4.1h-1zM0 62.0h1v2.1h-1zM30 62.0h1v2.1h-1zM50 62.0h1v2.1h-1zM67 62.0h1v2.1h-1zM88 62.0h1v2.1h-1zM26 64.0h1v4.1h-1zM53 64.0h1v4.1h-1zM74 64.0h1v4.1h-1zM8 68.0h1v4.1h-1zM15 68.0h1v4.1h-1zM34 68.0h1v4.1h-1zM71 68.0h1v4.1h-1zM77 68.0h1v4.1h-1zM16 72.0h1v2.1h-1zM37 72.0h1v2.1h-1zM46 72.0h1v2.1h-1zM61 72.0h1v2.1h-1zM78 72.0h1v2.1h-1zM1 74.0h1v4.1h-1zM4 74.0h1v4.1h-1zM26 74.0h1v4.1h-1zM48 74.0h1v4.1h-1zM58 74.0h1v4.1h-1zM82 74.0h1v4.1h-1zM16 78.0h1v4.1h-1zM21 78.0h1v4.1h-1zM58 78.0h1v4.1h-1zM38 82.0h1v4.1h-1zM64 86.0h1v4.1h-1zM85 86.0h2v4.1h-2zM4 90.0h1v4.1h-1zM15 90.0h1v4.1h-1zM36 90.0h1v4.1h-1zM41 90.0h1v4.1h-1zM63 90.0h1v4.1h-1zM79 90.0h1v4.1h-1zM21 94.0h1v4.1h-1zM87 94.0h1v4.1h-1zM20 98.0h1v4.1h-1zM36 98.0h1v4.1h-1zM55 98.0h1v4.1h-1zM74 98.0h1v4.1h-1zM78 98.0h1v4.1h-1zM31 102.0h1v4.1h-1zM34 102.0h1v4.1h-1zM41 102.0h1v4.1h-1zM33 106.0h1v6.1h-1zM42 106.0h1v6.1h-1zM77 106.0h1v6.1h-1zM85 106.0h1v6.1h-1zM29 112.0h1v4.1h-1zM37 112.0h1v4.1h-1zM51 112.0h1v4.1h-1zM80 112.0h1v4.1h-1zM85 112.0h1v4.1h-1z"/>
<path fill="#00fce4" d="M73 28.0h1v4.1h-1zM9 38.0h1v2.1h-1zM2 62.0h1v2.1h-1zM63 62.0h1v2.1h-1z"/>
<path fill="#006eff" d="M86 28.0h1v4.1h-1z"/>
<path fill="#28002d" d="M4 32.0h1v2.1h-1zM8 32.0h1v2.1h-1zM25 32.0h1v2.1h-1zM71 32.0h1v2.1h-1zM7 38.0h1v2.1h-1zM18 38.0h1v2.1h-1zM73 38.0h1v2.1h-1zM80 38.0h1v2.1h-1zM2 40.0h1v2.1h-1zM18 40.0h1v2.1h-1zM36 40.0h1v2.1h-1zM49 40.0h1v2.1h-1zM6 42.0h1v4.1h-1zM13 42.0h1v4.1h-1zM20 42.0h1v4.1h-1zM6 46.0h1v2.1h-1zM26 46.0h1v2.1h-1zM34 46.0h1v2.1h-1zM50 46.0h1v2.1h-1zM60 46.0h1v2.1h-1zM17 48.0h1v4.1h-1zM62 48.0h2v4.1h-2zM74 48.0h1v4.1h-1zM25 52.0h1v2.1h-1zM59 52.0h1v2.1h-1zM11 54.0h1v4.1h-1zM29 54.0h1v4.1h-1zM43 54.0h1v4.1h-1zM68 54.0h1v4.1h-1zM80 54.0h1v4.1h-1zM88 54.0h1v4.1h-1zM25 58.0h1v4.1h-1zM29 58.0h1v4.1h-1zM12 62.0h1v2.1h-1zM46 62.0h1v2.1h-1zM49 62.0h1v2.1h-1zM56 62.0h1v2.1h-1zM8 64.0h1v4.1h-1zM12 64.0h1v4.1h-1zM30 64.0h1v4.1h-1zM42 64.0h2v4.1h-2zM46 64.0h1v4.1h-1zM56 64.0h1v4.1h-1zM81 64.0h1v4.1h-1zM7 68.0h1v4.1h-1zM32 68.0h1v4.1h-1zM52 68.0h1v4.1h-1zM72 68.0h1v4.1h-1zM32 72.0h1v2.1h-1zM43 72.0h1v2.1h-1zM50 72.0h1v2.1h-1zM79 72.0h1v2.1h-1zM86 72.0h1v2.1h-1zM9 74.0h1v4.1h-1zM22 74.0h1v4.1h-1zM33 74.0h1v4.1h-1zM86 74.0h1v4.1h-1zM4 78.0h1v4.1h-1zM8 78.0h1v4.1h-1zM17 78.0h1v4.1h-1zM35 78.0h1v4.1h-1zM56 78.0h1v4.1h-1zM63 78.0h1v4.1h-1zM82 78.0h1v4.1h-1zM6 82.0h1v4.1h-1zM13 82.0h1v4.1h-1zM15 82.0h1v4.1h-1zM49 82.0h1v4.1h-1zM54 82.0h1v4.1h-1zM87 82.0h1v4.1h-1zM0 86.0h1v4.1h-1zM17 86.0h1v4.1h-1zM23 86.0h1v4.1h-1zM27 86.0h1v4.1h-1zM44 86.0h1v4.1h-1zM49 86.0h1v4.1h-1zM3 90.0h1v4.1h-1zM49 90.0h1v4.1h-1zM5 94.0h1v4.1h-1zM10 94.0h1v4.1h-1zM18 94.0h1v4.1h-1zM23 94.0h1v4.1h-1zM44 94.0h1v4.1h-1zM48 94.0h1v4.1h-1zM57 94.0h1v4.1h-1zM83 94.0h1v4.1h-1zM0 98.0h2v4.1h-2zM16 98.0h1v4.1h-1zM50 98.0h1v4.1h-1zM56 98.0h1v4.1h-1zM3 102.0h1v4.1h-1zM15 102.0h1v4.1h-1zM19 102.0h1v4.1h-1zM26 102.0h1v4.1h-1zM49 102.0h1v4.1h-1zM65 102.0h1v4.1h-1zM6 106.0h1v6.1h-1zM35 106.0h1v6.1h-1zM39 106.0h1v6.1h-1zM65 106.0h1v6.1h-1zM3 112.0h1v4.1h-1zM55 112.0h1v4.1h-1zM59 112.0h1v4.1h-1zM61 112.0h2v4.1h-2z"/>
<path fill="#0c000c" d="M24 32.0h1v2.1h-1zM65 32.0h1v2.1h-1zM56 40.0h1v2.1h-1zM80 40.0h1v2.1h-1zM16 42.0h1v4.1h-1zM17 46.0h1v2.1h-1zM29 46.0h1v2.1h-1zM49 48.0h1v4.1h-1zM6 52.0h1v2.1h-1zM66 54.0h1v4.1h-1zM15 58.0h1v4.1h-1zM19 58.0h1v4.1h-1zM73 58.0h1v4.1h-1zM36 64.0h1v4.1h-1zM38 64.0h1v4.1h-1zM49 64.0h1v4.1h-1zM63 64.0h1v4.1h-1zM27 68.0h1v4.1h-1zM70 68.0h1v4.1h-1zM6 72.0h1v2.1h-1zM47 72.0h1v2.1h-1zM7 74.0h1v4.1h-1zM32 74.0h1v4.1h-1zM52 78.0h1v4.1h-1zM59 78.0h1v4.1h-1zM48 82.0h1v4.1h-1zM13 86.0h1v4.1h-1zM33 86.0h1v4.1h-1zM62 86.0h1v4.1h-1zM74 86.0h1v4.1h-1zM26 90.0h1v4.1h-1zM44 90.0h1v4.1h-1zM77 90.0h1v4.1h-1zM14 94.0h1v4.1h-1zM67 94.0h1v4.1h-1zM39 98.0h1v4.1h-1zM82 98.0h1v4.1h-1zM35 102.0h1v4.1h-1zM0 106.0h1v6.1h-1zM14 112.0h1v4.1h-1z"/>
<path fill="#0020ff" d="M41 32.0h1v2.1h-1zM68 34.0h1v4.1h-1zM58 62.0h1v2.1h-1zM66 68.0h1v4.1h-1zM40 90.0h1v4.1h-1z"/>
<path fill="#190019" d="M55 32.0h1v2.1h-1zM20 34.0h1v4.1h-1zM84 38.0h1v2.1h-1zM42 40.0h1v2.1h-1zM84 40.0h1v2.1h-1zM49 42.0h1v4.1h-1zM57 42.0h1v4.1h-1zM63 42.0h1v4.1h-1zM77 42.0h1v4.1h-1zM2 46.0h1v2.1h-1zM75 46.0h1v2.1h-1zM29 48.0h1v4.1h-1zM87 48.0h1v4.1h-1zM50 52.0h1v2.1h-1zM63 52.0h1v2.1h-1zM68 52.0h1v2.1h-1zM73 52.0h1v2.1h-1zM84 52.0h1v2.1h-1zM6 54.0h1v4.1h-1zM26 54.0h1v4.1h-1zM65 54.0h1v4.1h-1zM71 54.0h1v4.1h-1zM84 54.0h1v4.1h-1zM8 62.0h1v2.1h-1zM15 62.0h1v2.1h-1zM23 62.0h1v2.1h-1zM34 62.0h1v2.1h-1zM40 62.0h1v2.1h-1zM80 62.0h1v2.1h-1zM87 62.0h1v2.1h-1zM22 64.0h1v4.1h-1zM27 64.0h1v4.1h-1zM39 64.0h1v4.1h-1zM44 64.0h1v4.1h-1zM62 64.0h1v4.1h-1zM80 68.0h1v4.1h-1zM11 72.0h1v2.1h-1zM10 74.0h1v4.1h-1zM43 74.0h1v4.1h-1zM72 74.0h1v4.1h-1zM81 74.0h1v4.1h-1zM25 78.0h1v4.1h-1zM30 78.0h1v4.1h-1zM32 78.0h1v4.1h-1zM39 78.0h1v4.1h-1zM45 78.0h2v4.1h-2zM77 78.0h1v4.1h-1zM7 82.0h2v4.1h-2zM47 82.0h1v4.1h-1zM56 82.0h1v4.1h-1zM77 82.0h1v4.1h-1zM12 86.0h1v4.1h-1zM19 86.0h1v4.1h-1zM84 86.0h1v4.1h-1zM6 90.0h1v4.1h-1zM8 90.0h1v4.1h-1zM27 90.0h1v4.1h-1zM37 90.0h1v4.1h-1zM39 90.0h1v4.1h-1zM67 90.0h1v4.1h-1zM72 90.0h2v4.1h-2zM3 94.0h1v4.1h-1zM19 94.0h1v4.1h-1zM32 94.0h1v4.1h-1zM37 94.0h1v4.1h-1zM8 98.0h1v4.1h-1zM40 98.0h1v4.1h-1zM0 102.0h1v4.1h-1zM37 102.0h1v4.1h-1zM18 106.0h1v6.1h-1zM74 106.0h1v6.1h-1zM66 112.0h1v4.1h-1zM74 112.0h1v4.1h-1z"/>
<path fill="#000000" d="M80 32.0h1v2.1h-1zM12 38.0h1v2.1h-1zM20 38.0h1v2.1h-1zM8 40.0h1v2.1h-1zM12 40.0h1v2.1h-1zM14 40.0h1v2.1h-1zM16 40.0h1v2.1h-1zM70 40.0h1v2.1h-1zM87 40.0h1v2.1h-1zM7 42.0h1v4.1h-1zM14 42.0h1v4.1h-1zM22 42.0h1v4.1h-1zM84 42.0h1v4.1h-1zM87 42.0h1v4.1h-1zM2 48.0h1v4.1h-1zM2 52.0h1v2.1h-1zM87 52.0h1v2.1h-1zM21 54.0h1v4.1h-1zM59 54.0h1v4.1h-1zM73 54.0h1v4.1h-1zM87 54.0h1v4.1h-1zM43 58.0h1v4.1h-1zM45 58.0h1v4.1h-1zM59 58.0h1v4.1h-1zM87 58.0h1v4.1h-1zM43 62.0h1v2.1h-1zM59 62.0h1v2.1h-1zM84 62.0h1v2.1h-1zM59 64.0h1v4.1h-1zM80 64.0h1v4.1h-1zM87 64.0h1v4.1h-1zM6 68.0h1v4.1h-1zM17 68.0h1v4.1h-1zM41 68.0h1v4.1h-1zM10 72.0h1v2.1h-1zM36 72.0h1v2.1h-1zM36 74.0h1v4.1h-1zM44 74.0h1v4.1h-1zM1 82.0h1v4.1h-1zM1 86.0h1v4.1h-1zM65 86.0h1v4.1h-1zM77 86.0h1v4.1h-1zM5 90.0h1v4.1h-1zM14 90.0h1v4.1h-1zM77 94.0h1v4.1h-1zM23 98.0h1v4.1h-1zM35 98.0h1v4.1h-1zM77 98.0h1v4.1h-1zM14 102.0h1v4.1h-1zM16 102.0h1v4.1h-1zM46 102.0h1v4.1h-1zM14 106.0h1v6.1h-1zM0 112.0h1v4.1h-1zM5 112.0h1v4.1h-1z"/>
<path fill="#00f492" d="M82 32.0h1v2.1h-1zM42 54.0h1v4.1h-1z"/>
<path fill="#060006" d="M8 34.0h1v4.1h-1zM65 34.0h1v4.1h-1zM82 40.0h1v2.1h-1zM49 46.0h1v2.1h-1zM84 46.0h1v2.1h-1zM17 54.0h1v4.1h-1zM62 54.0h1v4.1h-1zM17 58.0h1v4.1h-1zM21 58.0h1v4.1h-1zM72 58.0h1v4.1h-1zM84 58.0h1v4.1h-1zM17 62.0h1v2.1h-1zM81 62.0h1v2.1h-1zM17 64.0h1v4.1h-1zM35 64.0h1v4.1h-1zM25 68.0h1v4.1h-1zM30 68.0h1v4.1h-1zM63 68.0h1v4.1h-1zM30 72.0h1v2.1h-1zM63 72.0h1v2.1h-1zM30 74.0h1v4.1h-1zM52 74.0h1v4.1h-1zM6 86.0h1v4.1h-1zM52 86.0h1v4.1h-1zM33 90.0h1v4.1h-1zM46 90.0h1v4.1h-1zM38 94.0h1v4.1h-1zM54 94.0h1v4.1h-1zM69 98.0h1v4.1h-1zM82 102.0h1v4.1h-1zM3 106.0h2v6.1h-2zM54 106.0h1v6.1h-1zM82 106.0h1v6.1h-1z"/>
<path fill="#ff2e00" d="M61 34.0h1v4.1h-1z"/>
<path fill="#00fef1" d="M57 38.0h1v2.1h-1zM69 40.0h1v2.1h-1z"/>
<path fill="#009eff" d="M52 40.0h1v2.1h-1zM52 82.0h1v4.1h-1zM55 90.0h1v4.1h-1z"/>
<path fill="#00f043" d="M25 42.0h1v4.1h-1z"/>
<path fill="#00deff" d="M42 46.0h1v2.1h-1zM76 68.0h1v4.1h-1zM42 86.0h1v4.1h-1z"/>
<path fill="#00fbd6" d="M56 46.0h1v2.1h-1zM61 54.0h1v4.1h-1zM45 64.0h1v4.1h-1zM83 102.0h1v4.1h-1z"/>
<path fill="#ff7100" d="M46 48.0h1v4.1h-1z"/>
<path fill="#005eff" d="M59 48.0h1v4.1h-1z"/>
<path fill="#002dff" d="M4 54.0h1v4.1h-1zM72 94.0h1v4.1h-1z"/>
<path fill="#00f276" d="M2 64.0h1v4.1h-1z"/>
<path fill="#00f8bb" d="M67 64.0h1v4.1h-1z"/>
<path fill="#00f168" d="M75 74.0h1v4.1h-1zM25 86.0h1v4.1h-1zM70 94.0h1v4.1h-1z"/>
<path fill="#00ffff" d="M11 86.0h1v4.1h-1z"/>
<path fill="#ff5f00" d="M43 86.0h1v4.1h-1z"/>
<path fill="#00beff" d="M50 86.0h1v4.1h-1z"/>
<path fill="#ff0000" d="M62 90.0h1v4.1h-1z"/>
<path fill="#00f05a" d="M21 106.0h1v6.1h-1z"/>
<path fill="#00f6ae" d="M57 106.0h1v6.1h-1z"/>
</g>
<line x1="89.80" y1="54.67" x2="809.80" y2="54.67" stroke="#000" stroke-width="1.2" stroke-dasharray="1.7 6.34" stroke-dashoffset="0.85"/>
<line x1="89.80" y1="89.77" x2="809.80" y2="89.77" stroke="#000" stroke-width="1.2" stroke-dasharray="1.7 6.34" stroke-dashoffset="0.85"/>
<line x1="179.80" y1="1.80" x2="179.80" y2="137.72" stroke="#000" stroke-width="1.2" stroke-dasharray="2 6.04" stroke-dashoffset="0.5"/>
<line x1="269.80" y1="1.80" x2="269.80" y2="137.72" stroke="#000" stroke-width="1.2" stroke-dasharray="2 6.04" stroke-dashoffset="0.5"/>
<line x1="359.80" y1="1.80" x2="359.80" y2="137.72" stroke="#000" stroke-width="1.2" stroke-dasharray="2 6.04" stroke-dashoffset="0.5"/>
<line x1="449.80" y1="1.80" x2="449.80" y2="137.72" stroke="#000" stroke-width="1.2" stroke-dasharray="2 6.04" stroke-dashoffset="0.5"/>
<line x1="539.80" y1="1.80" x2="539.80" y2="137.72" stroke="#000" stroke-width="1.2" stroke-dasharray="2 6.04" stroke-dashoffset="0.5"/>
<line x1="629.80" y1="1.80" x2="629.80" y2="137.72" stroke="#000" stroke-width="1.2" stroke-dasharray="2 6.04" stroke-dashoffset="0.5"/>
<line x1="719.80" y1="1.80" x2="719.80" y2="137.72" stroke="#000" stroke-width="1.2" stroke-dasharray="2 6.04" stroke-dashoffset="0.5"/>
<use href="#coast"/>
<rect x="179.80" y="1.1" width="90.00" height="1.5" fill="#fff"/>
<rect x="179.80" y="137.3" width="90.00" height="1.5" fill="#fff"/>
<rect x="359.80" y="1.1" width="90.00" height="1.5" fill="#fff"/>
<rect x="359.80" y="137.3" width="90.00" height="1.5" fill="#fff"/>
<rect x="539.80" y="1.1" width="90.00" height="1.5" fill="#fff"/>
<rect x="539.80" y="137.3" width="90.00" height="1.5" fill="#fff"/>
<rect x="719.80" y="1.1" width="88.70" height="1.5" fill="#fff"/>
<rect x="719.80" y="137.3" width="88.70" height="1.5" fill="#fff"/>
<rect x="89" y="1.10" width="1.8" height="25.18" fill="#fff"/>
<rect x="808.6" y="1.10" width="1.8" height="25.18" fill="#fff"/>
<rect x="89" y="54.67" width="1.8" height="35.10" fill="#fff"/>
<rect x="808.6" y="54.67" width="1.8" height="35.10" fill="#fff"/>
<text x="82.3" y="8.20" font-size="14.2" text-anchor="end" textLength="28.6" lengthAdjust="spacingAndGlyphs">30°S</text>
<text x="82.3" y="32.68" font-size="14.2" text-anchor="end" textLength="28.6" lengthAdjust="spacingAndGlyphs">40°S</text>
<text x="82.3" y="61.07" font-size="14.2" text-anchor="end" textLength="28.6" lengthAdjust="spacingAndGlyphs">50°S</text>
<text x="82.3" y="96.17" font-size="14.2" text-anchor="end" textLength="28.6" lengthAdjust="spacingAndGlyphs">60°S</text>
<text x="82.3" y="144.12" font-size="14.2" text-anchor="end" textLength="28.6" lengthAdjust="spacingAndGlyphs">70°S</text>
<text transform="translate(35.5,70.00) rotate(-90)" font-size="16" text-anchor="middle" textLength="22.7" lengthAdjust="spacingAndGlyphs">HO</text>
</g>
<rect x="890.2" y="432.30" width="8.3" height="156.20" fill="url(#cg)" stroke="#000" stroke-width="0.8"/>
<line x1="888.8" y1="588.50" x2="890.2" y2="588.50" stroke="#000" stroke-width="0.7"/>
<line x1="888.8" y1="583.43" x2="890.2" y2="583.43" stroke="#000" stroke-width="0.7"/>
<line x1="888.8" y1="578.36" x2="890.2" y2="578.36" stroke="#000" stroke-width="0.7"/>
<line x1="888.8" y1="573.29" x2="890.2" y2="573.29" stroke="#000" stroke-width="0.7"/>
<line x1="888.8" y1="568.21" x2="890.2" y2="568.21" stroke="#000" stroke-width="0.7"/>
<line x1="888.8" y1="563.14" x2="890.2" y2="563.14" stroke="#000" stroke-width="0.7"/>
<line x1="888.8" y1="558.07" x2="890.2" y2="558.07" stroke="#000" stroke-width="0.7"/>
<line x1="888.8" y1="553.00" x2="890.2" y2="553.00" stroke="#000" stroke-width="0.7"/>
<line x1="888.8" y1="547.93" x2="890.2" y2="547.93" stroke="#000" stroke-width="0.7"/>
<line x1="888.8" y1="542.86" x2="890.2" y2="542.86" stroke="#000" stroke-width="0.7"/>
<line x1="888.8" y1="537.79" x2="890.2" y2="537.79" stroke="#000" stroke-width="0.7"/>
<line x1="888.8" y1="532.71" x2="890.2" y2="532.71" stroke="#000" stroke-width="0.7"/>
<line x1="888.8" y1="527.64" x2="890.2" y2="527.64" stroke="#000" stroke-width="0.7"/>
<line x1="888.8" y1="522.57" x2="890.2" y2="522.57" stroke="#000" stroke-width="0.7"/>
<line x1="888.8" y1="517.50" x2="890.2" y2="517.50" stroke="#000" stroke-width="0.7"/>
<line x1="888.8" y1="512.43" x2="890.2" y2="512.43" stroke="#000" stroke-width="0.7"/>
<line x1="888.8" y1="507.36" x2="890.2" y2="507.36" stroke="#000" stroke-width="0.7"/>
<line x1="888.8" y1="502.29" x2="890.2" y2="502.29" stroke="#000" stroke-width="0.7"/>
<line x1="888.8" y1="497.21" x2="890.2" y2="497.21" stroke="#000" stroke-width="0.7"/>
<line x1="888.8" y1="492.14" x2="890.2" y2="492.14" stroke="#000" stroke-width="0.7"/>
<line x1="888.8" y1="487.07" x2="890.2" y2="487.07" stroke="#000" stroke-width="0.7"/>
<line x1="888.8" y1="482.00" x2="890.2" y2="482.00" stroke="#000" stroke-width="0.7"/>
<line x1="888.8" y1="476.93" x2="890.2" y2="476.93" stroke="#000" stroke-width="0.7"/>
<line x1="888.8" y1="471.86" x2="890.2" y2="471.86" stroke="#000" stroke-width="0.7"/>
<line x1="888.8" y1="466.79" x2="890.2" y2="466.79" stroke="#000" stroke-width="0.7"/>
<line x1="888.8" y1="461.71" x2="890.2" y2="461.71" stroke="#000" stroke-width="0.7"/>
<line x1="888.8" y1="456.64" x2="890.2" y2="456.64" stroke="#000" stroke-width="0.7"/>
<line x1="888.8" y1="451.57" x2="890.2" y2="451.57" stroke="#000" stroke-width="0.7"/>
<line x1="888.8" y1="446.50" x2="890.2" y2="446.50" stroke="#000" stroke-width="0.7"/>
<line x1="888.8" y1="441.43" x2="890.2" y2="441.43" stroke="#000" stroke-width="0.7"/>
<line x1="888.8" y1="436.36" x2="890.2" y2="436.36" stroke="#000" stroke-width="0.7"/>
<line x1="887.6" y1="588.50" x2="890.2" y2="588.50" stroke="#000" stroke-width="0.8"/>
<text x="882.6" y="592.40" font-size="12.6" text-anchor="end" textLength="26.6" lengthAdjust="spacingAndGlyphs">0.00</text>
<line x1="887.6" y1="568.21" x2="890.2" y2="568.21" stroke="#000" stroke-width="0.8"/>
<text x="882.6" y="572.11" font-size="12.6" text-anchor="end" textLength="26.6" lengthAdjust="spacingAndGlyphs">0.02</text>
<line x1="887.6" y1="547.93" x2="890.2" y2="547.93" stroke="#000" stroke-width="0.8"/>
<text x="882.6" y="551.83" font-size="12.6" text-anchor="end" textLength="26.6" lengthAdjust="spacingAndGlyphs">0.04</text>
<line x1="887.6" y1="527.64" x2="890.2" y2="527.64" stroke="#000" stroke-width="0.8"/>
<text x="882.6" y="531.54" font-size="12.6" text-anchor="end" textLength="26.6" lengthAdjust="spacingAndGlyphs">0.06</text>
<line x1="887.6" y1="507.36" x2="890.2" y2="507.36" stroke="#000" stroke-width="0.8"/>
<text x="882.6" y="511.26" font-size="12.6" text-anchor="end" textLength="26.6" lengthAdjust="spacingAndGlyphs">0.08</text>
<line x1="887.6" y1="487.07" x2="890.2" y2="487.07" stroke="#000" stroke-width="0.8"/>
<text x="882.6" y="490.97" font-size="12.6" text-anchor="end" textLength="26.6" lengthAdjust="spacingAndGlyphs">0.10</text>
<line x1="887.6" y1="466.79" x2="890.2" y2="466.79" stroke="#000" stroke-width="0.8"/>
<text x="882.6" y="470.69" font-size="12.6" text-anchor="end" textLength="26.6" lengthAdjust="spacingAndGlyphs">0.12</text>
<line x1="887.6" y1="446.50" x2="890.2" y2="446.50" stroke="#000" stroke-width="0.8"/>
<text x="882.6" y="450.40" font-size="12.6" text-anchor="end" textLength="26.6" lengthAdjust="spacingAndGlyphs">0.14</text>
<text transform="translate(847.2,510.40) rotate(-90)" font-size="12" text-anchor="middle" textLength="59" lengthAdjust="spacingAndGlyphs">frequency</text>
<g transform="translate(0,616)">
<rect x="88" y="0" width="723.70" height="140" fill="#000"/>
<g shape-rendering="crispEdges" transform="translate(92.00,0) scale(8.0416,1)">
<path fill="#ff1400" d="M0 28.0h1v4.1h-1zM3 28.0h1v4.1h-1zM43 28.0h1v4.1h-1zM53 28.0h1v4.1h-1zM57 28.0h1v4.1h-1zM75 28.0h1v4.1h-1zM2 32.0h1v2.1h-1zM9 32.0h1v2.1h-1zM16 32.0h1v2.1h-1zM38 32.0h1v2.1h-1zM45 32.0h1v2.1h-1zM80 32.0h1v2.1h-1zM2 34.0h1v4.1h-1zM12 34.0h1v4.1h-1zM28 34.0h1v4.1h-1zM36 34.0h1v4.1h-1zM54 34.0h2v4.1h-2zM62 34.0h1v4.1h-1zM65 34.0h1v4.1h-1zM67 34.0h1v4.1h-1zM74 34.0h1v4.1h-1zM78 34.0h1v4.1h-1zM82 34.0h1v4.1h-1zM16 38.0h1v2.1h-1zM29 38.0h1v2.1h-1zM36 38.0h1v2.1h-1zM40 38.0h1v2.1h-1zM44 38.0h1v2.1h-1zM49 38.0h1v2.1h-1zM60 38.0h1v2.1h-1zM77 38.0h1v2.1h-1zM82 38.0h1v2.1h-1zM7 40.0h1v2.1h-1zM9 40.0h2v2.1h-2zM14 40.0h1v2.1h-1zM29 40.0h1v2.1h-1zM36 40.0h1v2.1h-1zM38 40.0h1v2.1h-1zM43 40.0h1v2.1h-1zM47 40.0h1v2.1h-1zM71 40.0h1v2.1h-1zM77 40.0h1v2.1h-1zM83 40.0h2v2.1h-2zM87 40.0h1v2.1h-1zM2 42.0h1v4.1h-1zM13 42.0h1v4.1h-1zM23 42.0h1v4.1h-1zM49 42.0h1v4.1h-1zM53 42.0h2v4.1h-2zM56 42.0h1v4.1h-1zM65 42.0h1v4.1h-1zM20 46.0h1v2.1h-1zM25 46.0h1v2.1h-1zM28 46.0h1v2.1h-1zM34 46.0h1v2.1h-1zM45 46.0h1v2.1h-1zM60 46.0h1v2.1h-1zM68 46.0h1v2.1h-1zM74 46.0h2v2.1h-2zM77 46.0h1v2.1h-1zM85 46.0h1v2.1h-1zM0 48.0h2v4.1h-2zM7 48.0h1v4.1h-1zM9 48.0h1v4.1h-1zM12 48.0h1v4.1h-1zM28 48.0h1v4.1h-1zM49 48.0h1v4.1h-1zM82 48.0h2v4.1h-2zM88 48.0h1v4.1h-1zM2 52.0h1v2.1h-1zM11 52.0h5v2.1h-5zM18 52.0h1v2.1h-1zM21 52.0h1v2.1h-1zM49 52.0h1v2.1h-1zM66 52.0h1v2.1h-1zM74 52.0h1v2.1h-1zM76 52.0h1v2.1h-1zM82 52.0h1v2.1h-1zM4 54.0h1v4.1h-1zM9 54.0h1v4.1h-1zM13 54.0h1v4.1h-1zM21 54.0h1v4.1h-1zM27 54.0h1v4.1h-1zM45 54.0h1v4.1h-1zM51 54.0h1v4.1h-1zM55 54.0h1v4.1h-1zM58 54.0h1v4.1h-1zM68 54.0h2v4.1h-2zM1 58.0h1v4.1h-1zM5 58.0h1v4.1h-1zM11 58.0h1v4.1h-1zM20 58.0h1v4.1h-1zM36 58.0h1v4.1h-1zM46 58.0h1v4.1h-1zM54 58.0h1v4.1h-1zM66 58.0h1v4.1h-1zM82 58.0h2v4.1h-2zM7 62.0h1v2.1h-1zM13 62.0h1v2.1h-1zM16 62.0h1v2.1h-1zM34 62.0h1v2.1h-1zM38 62.0h1v2.1h-1zM40 62.0h1v2.1h-1zM42 62.0h1v2.1h-1zM46 62.0h2v2.1h-2zM54 62.0h2v2.1h-2zM58 62.0h1v2.1h-1zM71 62.0h1v2.1h-1zM88 62.0h1v2.1h-1zM22 64.0h1v4.1h-1zM28 64.0h1v4.1h-1zM48 64.0h1v4.1h-1zM51 64.0h1v4.1h-1zM62 64.0h1v4.1h-1zM68 64.0h1v4.1h-1zM9 68.0h1v4.1h-1zM14 68.0h2v4.1h-2zM28 68.0h1v4.1h-1zM73 68.0h1v4.1h-1zM76 68.0h1v4.1h-1zM78 68.0h1v4.1h-1zM1 72.0h1v2.1h-1zM9 72.0h2v2.1h-2zM32 72.0h1v2.1h-1zM34 72.0h1v2.1h-1zM38 72.0h2v2.1h-2zM46 72.0h1v2.1h-1zM51 72.0h1v2.1h-1zM79 72.0h1v2.1h-1zM85 72.0h1v2.1h-1zM1 74.0h1v4.1h-1zM16 74.0h1v4.1h-1zM20 74.0h1v4.1h-1zM23 74.0h1v4.1h-1zM27 74.0h1v4.1h-1zM40 74.0h1v4.1h-1zM53 74.0h1v4.1h-1zM63 74.0h1v4.1h-1zM78 74.0h1v4.1h-1zM88 74.0h1v4.1h-1zM13 78.0h2v4.1h-2zM58 78.0h1v4.1h-1zM71 78.0h1v4.1h-1zM76 78.0h1v4.1h-1zM81 78.0h1v4.1h-1zM8 82.0h1v4.1h-1zM10 82.0h1v4.1h-1zM31 82.0h1v4.1h-1zM35 82.0h1v4.1h-1zM45 82.0h2v4.1h-2zM55 82.0h1v4.1h-1zM14 86.0h1v4.1h-1zM22 86.0h1v4.1h-1zM24 86.0h1v4.1h-1zM27 86.0h1v4.1h-1zM32 86.0h2v4.1h-2zM37 86.0h1v4.1h-1zM59 86.0h1v4.1h-1zM68 86.0h1v4.1h-1zM75 86.0h1v4.1h-1zM82 86.0h1v4.1h-1zM24 90.0h1v4.1h-1zM56 90.0h1v4.1h-1zM63 90.0h1v4.1h-1zM81 90.0h1v4.1h-1zM19 94.0h1v4.1h-1zM36 94.0h1v4.1h-1zM45 94.0h1v4.1h-1zM67 94.0h2v4.1h-2zM78 94.0h1v4.1h-1zM88 94.0h1v4.1h-1zM19 98.0h1v4.1h-1zM35 98.0h1v4.1h-1zM71 98.0h1v4.1h-1zM77 98.0h1v4.1h-1zM0 102.0h1v4.1h-1zM8 102.0h1v4.1h-1zM16 102.0h1v4.1h-1zM34 102.0h1v4.1h-1zM53 102.0h1v4.1h-1zM59 102.0h1v4.1h-1zM80 102.0h1v4.1h-1zM82 102.0h2v4.1h-2zM88 102.0h1v4.1h-1zM12 106.0h1v6.1h-1zM36 106.0h1v6.1h-1zM41 106.0h1v6.1h-1zM54 106.0h1v6.1h-1zM58 106.0h1v6.1h-1zM74 106.0h1v6.1h-1zM86 106.0h1v6.1h-1zM11 112.0h1v4.1h-1zM19 112.0h1v4.1h-1zM74 112.0h1v4.1h-1zM78 112.0h1v4.1h-1z"/>
<path fill="#ff2e00" d="M1 28.0h1v4.1h-1zM4 28.0h1v4.1h-1zM11 28.0h1v4.1h-1zM19 28.0h1v4.1h-1zM22 28.0h1v4.1h-1zM24 28.0h1v4.1h-1zM52 28.0h1v4.1h-1zM11 32.0h1v2.1h-1zM52 32.0h1v2.1h-1zM54 32.0h1v2.1h-1zM72 32.0h1v2.1h-1zM88 32.0h1v2.1h-1zM3 34.0h1v4.1h-1zM14 34.0h1v4.1h-1zM34 34.0h1v4.1h-1zM41 34.0h1v4.1h-1zM52 34.0h1v4.1h-1zM70 34.0h1v4.1h-1zM77 34.0h1v4.1h-1zM81 34.0h1v4.1h-1zM87 34.0h1v4.1h-1zM17 38.0h1v2.1h-1zM26 38.0h2v2.1h-2zM41 38.0h1v2.1h-1zM47 38.0h1v2.1h-1zM65 38.0h1v2.1h-1zM17 40.0h1v2.1h-1zM27 40.0h2v2.1h-2zM60 40.0h1v2.1h-1zM63 40.0h1v2.1h-1zM65 40.0h1v2.1h-1zM72 40.0h1v2.1h-1zM21 42.0h1v4.1h-1zM27 42.0h1v4.1h-1zM45 42.0h1v4.1h-1zM55 42.0h1v4.1h-1zM17 46.0h1v2.1h-1zM49 46.0h1v2.1h-1zM57 46.0h1v2.1h-1zM69 46.0h1v2.1h-1zM71 46.0h1v2.1h-1zM4 48.0h1v4.1h-1zM50 48.0h1v4.1h-1zM55 48.0h1v4.1h-1zM66 48.0h1v4.1h-1zM74 48.0h1v4.1h-1zM4 52.0h1v2.1h-1zM10 52.0h1v2.1h-1zM17 52.0h1v2.1h-1zM25 52.0h2v2.1h-2zM58 52.0h1v2.1h-1zM3 54.0h1v4.1h-1zM11 54.0h1v4.1h-1zM18 54.0h1v4.1h-1zM23 54.0h1v4.1h-1zM33 54.0h1v4.1h-1zM47 54.0h1v4.1h-1zM61 54.0h1v4.1h-1zM12 58.0h1v4.1h-1zM19 58.0h1v4.1h-1zM25 58.0h1v4.1h-1zM38 58.0h1v4.1h-1zM48 58.0h1v4.1h-1zM74 58.0h1v4.1h-1zM53 62.0h1v2.1h-1zM60 62.0h1v2.1h-1zM65 62.0h1v2.1h-1zM68 62.0h1v2.1h-1zM86 62.0h1v2.1h-1zM21 64.0h1v4.1h-1zM45 64.0h1v4.1h-1zM58 64.0h1v4.1h-1zM84 64.0h1v4.1h-1zM6 68.0h2v4.1h-2zM53 68.0h1v4.1h-1zM59 68.0h1v4.1h-1zM80 68.0h1v4.1h-1zM83 68.0h1v4.1h-1zM5 72.0h1v2.1h-1zM24 72.0h1v2.1h-1zM28 72.0h1v2.1h-1zM37 72.0h1v2.1h-1zM49 72.0h1v2.1h-1zM53 72.0h1v2.1h-1zM58 72.0h3v2.1h-3zM71 72.0h1v2.1h-1zM78 72.0h1v2.1h-1zM2 74.0h1v4.1h-1zM12 74.0h1v4.1h-1zM17 74.0h2v4.1h-2zM26 74.0h1v4.1h-1zM32 74.0h1v4.1h-1zM42 74.0h1v4.1h-1zM50 74.0h1v4.1h-1zM54 74.0h1v4.1h-1zM57 74.0h1v4.1h-1zM71 74.0h1v4.1h-1zM8 78.0h1v4.1h-1zM12 78.0h1v4.1h-1zM19 78.0h1v4.1h-1zM49 78.0h1v4.1h-1zM64 78.0h1v4.1h-1zM72 78.0h1v4.1h-1zM7 82.0h1v4.1h-1zM20 82.0h1v4.1h-1zM29 82.0h1v4.1h-1zM32 82.0h1v4.1h-1zM38 82.0h2v4.1h-2zM44 82.0h1v4.1h-1zM50 82.0h2v4.1h-2zM58 82.0h1v4.1h-1zM65 82.0h1v4.1h-1zM72 82.0h1v4.1h-1zM81 82.0h1v4.1h-1zM86 82.0h2v4.1h-2zM11 86.0h1v4.1h-1zM13 86.0h1v4.1h-1zM18 86.0h1v4.1h-1zM21 86.0h1v4.1h-1zM23 86.0h1v4.1h-1zM28 86.0h2v4.1h-2zM38 86.0h1v4.1h-1zM44 86.0h1v4.1h-1zM46 86.0h1v4.1h-1zM49 86.0h1v4.1h-1zM54 86.0h1v4.1h-1zM12 90.0h1v4.1h-1zM31 90.0h1v4.1h-1zM36 90.0h2v4.1h-2zM48 90.0h1v4.1h-1zM54 90.0h2v4.1h-2zM57 90.0h1v4.1h-1zM61 90.0h1v4.1h-1zM75 90.0h1v4.1h-1zM0 94.0h1v4.1h-1zM11 94.0h2v4.1h-2zM18 94.0h1v4.1h-1zM30 94.0h2v4.1h-2zM37 94.0h1v4.1h-1zM48 94.0h1v4.1h-1zM56 94.0h1v4.1h-1zM80 94.0h1v4.1h-1zM2 98.0h1v4.1h-1zM29 98.0h1v4.1h-1zM32 98.0h1v4.1h-1zM39 98.0h1v4.1h-1zM54 98.0h1v4.1h-1zM59 98.0h1v4.1h-1zM64 98.0h1v4.1h-1zM67 98.0h1v4.1h-1zM76 98.0h1v4.1h-1zM79 98.0h1v4.1h-1zM2 102.0h1v4.1h-1zM13 102.0h2v4.1h-2zM17 102.0h2v4.1h-2zM37 102.0h1v4.1h-1zM51 102.0h1v4.1h-1zM68 102.0h1v4.1h-1zM84 102.0h1v4.1h-1zM4 106.0h1v6.1h-1zM11 106.0h1v6.1h-1zM34 106.0h1v6.1h-1zM59 106.0h1v6.1h-1zM82 106.0h1v6.1h-1zM2 112.0h1v4.1h-1zM20 112.0h1v4.1h-1zM25 112.0h1v4.1h-1zM27 112.0h1v4.1h-1zM30 112.0h1v4.1h-1zM35 112.0h1v4.1h-1zM42 112.0h1v4.1h-1zM47 112.0h1v4.1h-1zM54 112.0h2v4.1h-2zM64 112.0h1v4.1h-1zM72 112.0h1v4.1h-1zM85 112.0h1v4.1h-1z"/>
<path fill="#ff3e00" d="M2 28.0h1v4.1h-1zM5 28.0h1v4.1h-1zM30 28.0h1v4.1h-1zM45 28.0h1v4.1h-1zM70 28.0h1v4.1h-1zM12 32.0h1v2.1h-1zM36 32.0h1v2.1h-1zM40 32.0h1v2.1h-1zM44 32.0h1v2.1h-1zM68 32.0h1v2.1h-1zM16 34.0h1v4.1h-1zM43 34.0h2v4.1h-2zM60 34.0h1v4.1h-1zM68 34.0h1v4.1h-1zM88 34.0h1v4.1h-1zM2 38.0h1v2.1h-1zM48 38.0h1v2.1h-1zM26 40.0h1v2.1h-1zM81 40.0h1v2.1h-1zM20 42.0h1v4.1h-1zM34 42.0h1v4.1h-1zM61 42.0h1v4.1h-1zM63 42.0h1v4.1h-1zM26 46.0h1v2.1h-1zM81 46.0h1v2.1h-1zM14 48.0h1v4.1h-1zM17 48.0h1v4.1h-1zM22 48.0h1v4.1h-1zM26 48.0h1v4.1h-1zM39 48.0h1v4.1h-1zM53 48.0h1v4.1h-1zM44 52.0h1v2.1h-1zM77 52.0h1v2.1h-1zM88 52.0h1v2.1h-1zM31 54.0h1v4.1h-1zM48 54.0h1v4.1h-1zM72 54.0h1v4.1h-1zM76 54.0h1v4.1h-1zM82 54.0h1v4.1h-1zM84 54.0h1v4.1h-1zM7 58.0h1v4.1h-1zM10 58.0h1v4.1h-1zM17 58.0h1v4.1h-1zM44 58.0h1v4.1h-1zM57 58.0h1v4.1h-1zM86 58.0h1v4.1h-1zM0 62.0h1v2.1h-1zM12 62.0h1v2.1h-1zM19 62.0h2v2.1h-2zM27 62.0h2v2.1h-2zM74 62.0h1v2.1h-1zM81 62.0h3v2.1h-3zM5 64.0h1v4.1h-1zM7 64.0h1v4.1h-1zM23 64.0h1v4.1h-1zM46 64.0h1v4.1h-1zM53 64.0h1v4.1h-1zM75 64.0h1v4.1h-1zM83 64.0h1v4.1h-1zM1 68.0h1v4.1h-1zM27 68.0h1v4.1h-1zM62 68.0h1v4.1h-1zM70 68.0h1v4.1h-1zM26 72.0h2v2.1h-2zM33 72.0h1v2.1h-1zM42 72.0h1v2.1h-1zM50 72.0h1v2.1h-1zM55 72.0h1v2.1h-1zM34 74.0h1v4.1h-1zM38 74.0h1v4.1h-1zM44 74.0h1v4.1h-1zM51 74.0h1v4.1h-1zM61 74.0h1v4.1h-1zM67 74.0h1v4.1h-1zM76 74.0h1v4.1h-1zM7 78.0h1v4.1h-1zM29 78.0h1v4.1h-1zM39 78.0h1v4.1h-1zM43 78.0h2v4.1h-2zM50 78.0h1v4.1h-1zM18 82.0h1v4.1h-1zM26 82.0h2v4.1h-2zM42 82.0h1v4.1h-1zM52 82.0h1v4.1h-1zM76 82.0h1v4.1h-1zM25 86.0h1v4.1h-1zM31 86.0h1v4.1h-1zM67 86.0h1v4.1h-1zM71 86.0h1v4.1h-1zM8 90.0h1v4.1h-1zM20 90.0h2v4.1h-2zM35 90.0h1v4.1h-1zM40 90.0h1v4.1h-1zM52 90.0h1v4.1h-1zM59 90.0h1v4.1h-1zM68 90.0h1v4.1h-1zM80 90.0h1v4.1h-1zM83 90.0h1v4.1h-1zM21 94.0h1v4.1h-1zM35 94.0h1v4.1h-1zM39 94.0h1v4.1h-1zM42 94.0h1v4.1h-1zM44 94.0h1v4.1h-1zM54 94.0h1v4.1h-1zM58 94.0h1v4.1h-1zM61 94.0h2v4.1h-2zM83 94.0h1v4.1h-1zM86 94.0h1v4.1h-1zM8 98.0h1v4.1h-1zM47 98.0h1v4.1h-1zM49 98.0h1v4.1h-1zM52 98.0h1v4.1h-1zM57 98.0h1v4.1h-1zM60 98.0h1v4.1h-1zM65 98.0h1v4.1h-1zM69 98.0h1v4.1h-1zM86 98.0h1v4.1h-1zM40 102.0h1v4.1h-1zM44 102.0h1v4.1h-1zM57 102.0h1v4.1h-1zM60 102.0h1v4.1h-1zM72 102.0h1v4.1h-1zM86 102.0h1v4.1h-1zM1 106.0h1v6.1h-1zM21 106.0h1v6.1h-1zM37 106.0h1v6.1h-1zM45 106.0h1v6.1h-1zM51 106.0h1v6.1h-1zM63 106.0h1v6.1h-1zM69 106.0h1v6.1h-1zM71 106.0h1v6.1h-1zM76 106.0h1v6.1h-1zM88 106.0h1v6.1h-1zM0 112.0h1v4.1h-1zM17 112.0h1v4.1h-1zM39 112.0h1v4.1h-1zM50 112.0h1v4.1h-1zM63 112.0h1v4.1h-1zM70 112.0h1v4.1h-1zM83 112.0h1v4.1h-1zM86 112.0h1v4.1h-1z"/>
<path fill="#ff0000" d="M6 28.0h3v4.1h-3zM13 28.0h1v4.1h-1zM16 28.0h3v4.1h-3zM20 28.0h2v4.1h-2zM25 28.0h1v4.1h-1zM28 28.0h1v4.1h-1zM31 28.0h3v4.1h-3zM35 28.0h1v4.1h-1zM39 28.0h1v4.1h-1zM41 28.0h1v4.1h-1zM44 28.0h1v4.1h-1zM50 28.0h2v4.1h-2zM55 28.0h2v4.1h-2zM58 28.0h4v4.1h-4zM63 28.0h5v4.1h-5zM69 28.0h1v4.1h-1zM71 28.0h3v4.1h-3zM76 28.0h1v4.1h-1zM78 28.0h4v4.1h-4zM83 28.0h4v4.1h-4zM1 32.0h1v2.1h-1zM4 32.0h1v2.1h-1zM6 32.0h3v2.1h-3zM13 32.0h1v2.1h-1zM15 32.0h1v2.1h-1zM17 32.0h5v2.1h-5zM25 32.0h1v2.1h-1zM27 32.0h2v2.1h-2zM31 32.0h3v2.1h-3zM35 32.0h1v2.1h-1zM39 32.0h1v2.1h-1zM41 32.0h2v2.1h-2zM46 32.0h1v2.1h-1zM50 32.0h2v2.1h-2zM53 32.0h1v2.1h-1zM55 32.0h1v2.1h-1zM57 32.0h1v2.1h-1zM59 32.0h1v2.1h-1zM61 32.0h1v2.1h-1zM63 32.0h4v2.1h-4zM69 32.0h3v2.1h-3zM73 32.0h2v2.1h-2zM76 32.0h4v2.1h-4zM81 32.0h1v2.1h-1zM84 32.0h4v2.1h-4zM1 34.0h1v4.1h-1zM4 34.0h1v4.1h-1zM6 34.0h4v4.1h-4zM11 34.0h1v4.1h-1zM15 34.0h1v4.1h-1zM18 34.0h3v4.1h-3zM25 34.0h1v4.1h-1zM30 34.0h4v4.1h-4zM35 34.0h1v4.1h-1zM37 34.0h3v4.1h-3zM46 34.0h1v4.1h-1zM51 34.0h1v4.1h-1zM53 34.0h1v4.1h-1zM57 34.0h3v4.1h-3zM63 34.0h2v4.1h-2zM66 34.0h1v4.1h-1zM69 34.0h1v4.1h-1zM71 34.0h3v4.1h-3zM76 34.0h1v4.1h-1zM79 34.0h2v4.1h-2zM83 34.0h4v4.1h-4zM1 38.0h1v2.1h-1zM3 38.0h2v2.1h-2zM6 38.0h1v2.1h-1zM8 38.0h2v2.1h-2zM11 38.0h3v2.1h-3zM15 38.0h1v2.1h-1zM18 38.0h4v2.1h-4zM31 38.0h1v2.1h-1zM33 38.0h1v2.1h-1zM35 38.0h1v2.1h-1zM37 38.0h3v2.1h-3zM42 38.0h2v2.1h-2zM45 38.0h1v2.1h-1zM53 38.0h2v2.1h-2zM56 38.0h4v2.1h-4zM64 38.0h1v2.1h-1zM66 38.0h11v2.1h-11zM78 38.0h2v2.1h-2zM83 38.0h5v2.1h-5zM0 40.0h2v2.1h-2zM3 40.0h2v2.1h-2zM8 40.0h1v2.1h-1zM12 40.0h2v2.1h-2zM15 40.0h1v2.1h-1zM18 40.0h2v2.1h-2zM23 40.0h1v2.1h-1zM30 40.0h4v2.1h-4zM37 40.0h1v2.1h-1zM40 40.0h2v2.1h-2zM44 40.0h3v2.1h-3zM50 40.0h5v2.1h-5zM57 40.0h1v2.1h-1zM59 40.0h1v2.1h-1zM61 40.0h2v2.1h-2zM64 40.0h1v2.1h-1zM66 40.0h5v2.1h-5zM73 40.0h3v2.1h-3zM78 40.0h1v2.1h-1zM80 40.0h1v2.1h-1zM82 40.0h1v2.1h-1zM85 40.0h2v2.1h-2zM0 42.0h2v4.1h-2zM3 42.0h2v4.1h-2zM6 42.0h1v4.1h-1zM8 42.0h1v4.1h-1zM15 42.0h2v4.1h-2zM19 42.0h1v4.1h-1zM22 42.0h1v4.1h-1zM30 42.0h4v4.1h-4zM35 42.0h1v4.1h-1zM37 42.0h2v4.1h-2zM40 42.0h1v4.1h-1zM42 42.0h1v4.1h-1zM44 42.0h1v4.1h-1zM46 42.0h1v4.1h-1zM50 42.0h3v4.1h-3zM57 42.0h1v4.1h-1zM59 42.0h1v4.1h-1zM64 42.0h1v4.1h-1zM66 42.0h5v4.1h-5zM73 42.0h3v4.1h-3zM79 42.0h2v4.1h-2zM82 42.0h5v4.1h-5zM0 46.0h7v2.1h-7zM9 46.0h5v2.1h-5zM15 46.0h2v2.1h-2zM18 46.0h2v2.1h-2zM23 46.0h1v2.1h-1zM27 46.0h1v2.1h-1zM29 46.0h5v2.1h-5zM35 46.0h8v2.1h-8zM50 46.0h3v2.1h-3zM56 46.0h1v2.1h-1zM58 46.0h2v2.1h-2zM61 46.0h2v2.1h-2zM64 46.0h2v2.1h-2zM67 46.0h1v2.1h-1zM70 46.0h1v2.1h-1zM72 46.0h2v2.1h-2zM79 46.0h2v2.1h-2zM82 46.0h1v2.1h-1zM86 46.0h2v2.1h-2zM3 48.0h1v4.1h-1zM5 48.0h2v4.1h-2zM8 48.0h1v4.1h-1zM15 48.0h2v4.1h-2zM20 48.0h2v4.1h-2zM23 48.0h1v4.1h-1zM29 48.0h10v4.1h-10zM40 48.0h4v4.1h-4zM45 48.0h2v4.1h-2zM48 48.0h1v4.1h-1zM51 48.0h2v4.1h-2zM54 48.0h1v4.1h-1zM56 48.0h1v4.1h-1zM58 48.0h4v4.1h-4zM63 48.0h3v4.1h-3zM67 48.0h4v4.1h-4zM72 48.0h2v4.1h-2zM75 48.0h1v4.1h-1zM77 48.0h1v4.1h-1zM79 48.0h2v4.1h-2zM85 48.0h1v4.1h-1zM0 52.0h1v2.1h-1zM3 52.0h1v2.1h-1zM5 52.0h1v2.1h-1zM8 52.0h1v2.1h-1zM16 52.0h1v2.1h-1zM20 52.0h1v2.1h-1zM22 52.0h1v2.1h-1zM28 52.0h1v2.1h-1zM30 52.0h3v2.1h-3zM35 52.0h1v2.1h-1zM37 52.0h7v2.1h-7zM45 52.0h2v2.1h-2zM48 52.0h1v2.1h-1zM50 52.0h1v2.1h-1zM52 52.0h1v2.1h-1zM54 52.0h1v2.1h-1zM56 52.0h2v2.1h-2zM59 52.0h1v2.1h-1zM62 52.0h4v2.1h-4zM68 52.0h2v2.1h-2zM71 52.0h1v2.1h-1zM73 52.0h1v2.1h-1zM75 52.0h1v2.1h-1zM78 52.0h1v2.1h-1zM80 52.0h1v2.1h-1zM83 52.0h5v2.1h-5zM2 54.0h1v4.1h-1zM8 54.0h1v4.1h-1zM10 54.0h1v4.1h-1zM20 54.0h1v4.1h-1zM22 54.0h1v4.1h-1zM29 54.0h2v4.1h-2zM32 54.0h1v4.1h-1zM34 54.0h2v4.1h-2zM37 54.0h5v4.1h-5zM43 54.0h2v4.1h-2zM46 54.0h1v4.1h-1zM50 54.0h1v4.1h-1zM52 54.0h1v4.1h-1zM54 54.0h1v4.1h-1zM62 54.0h4v4.1h-4zM70 54.0h2v4.1h-2zM74 54.0h1v4.1h-1zM79 54.0h2v4.1h-2zM83 54.0h1v4.1h-1zM85 54.0h2v4.1h-2zM2 58.0h1v4.1h-1zM8 58.0h2v4.1h-2zM14 58.0h3v4.1h-3zM21 58.0h2v4.1h-2zM26 58.0h1v4.1h-1zM29 58.0h2v4.1h-2zM32 58.0h1v4.1h-1zM35 58.0h1v4.1h-1zM37 58.0h1v4.1h-1zM39 58.0h1v4.1h-1zM41 58.0h3v4.1h-3zM45 58.0h1v4.1h-1zM50 58.0h1v4.1h-1zM53 58.0h1v4.1h-1zM55 58.0h2v4.1h-2zM58 58.0h2v4.1h-2zM62 58.0h4v4.1h-4zM67 58.0h1v4.1h-1zM71 58.0h2v4.1h-2zM77 58.0h2v4.1h-2zM80 58.0h1v4.1h-1zM84 58.0h2v4.1h-2zM1 62.0h2v2.1h-2zM4 62.0h1v2.1h-1zM11 62.0h1v2.1h-1zM15 62.0h1v2.1h-1zM18 62.0h1v2.1h-1zM21 62.0h2v2.1h-2zM26 62.0h1v2.1h-1zM32 62.0h2v2.1h-2zM35 62.0h1v2.1h-1zM37 62.0h1v2.1h-1zM41 62.0h1v2.1h-1zM43 62.0h1v2.1h-1zM45 62.0h1v2.1h-1zM50 62.0h1v2.1h-1zM52 62.0h1v2.1h-1zM56 62.0h2v2.1h-2zM59 62.0h1v2.1h-1zM63 62.0h2v2.1h-2zM67 62.0h1v2.1h-1zM69 62.0h1v2.1h-1zM72 62.0h1v2.1h-1zM77 62.0h1v2.1h-1zM80 62.0h1v2.1h-1zM84 62.0h2v2.1h-2zM1 64.0h4v4.1h-4zM8 64.0h4v4.1h-4zM17 64.0h1v4.1h-1zM29 64.0h1v4.1h-1zM31 64.0h3v4.1h-3zM35 64.0h1v4.1h-1zM37 64.0h2v4.1h-2zM41 64.0h1v4.1h-1zM43 64.0h2v4.1h-2zM47 64.0h1v4.1h-1zM52 64.0h1v4.1h-1zM55 64.0h3v4.1h-3zM59 64.0h1v4.1h-1zM63 64.0h2v4.1h-2zM66 64.0h2v4.1h-2zM69 64.0h1v4.1h-1zM72 64.0h1v4.1h-1zM77 64.0h1v4.1h-1zM87 64.0h1v4.1h-1zM2 68.0h4v4.1h-4zM8 68.0h1v4.1h-1zM12 68.0h1v4.1h-1zM16 68.0h2v4.1h-2zM21 68.0h2v4.1h-2zM29 68.0h5v4.1h-5zM35 68.0h1v4.1h-1zM37 68.0h1v4.1h-1zM41 68.0h1v4.1h-1zM43 68.0h1v4.1h-1zM46 68.0h3v4.1h-3zM52 68.0h1v4.1h-1zM56 68.0h1v4.1h-1zM60 68.0h2v4.1h-2zM63 68.0h2v4.1h-2zM66 68.0h1v4.1h-1zM74 68.0h1v4.1h-1zM77 68.0h1v4.1h-1zM81 68.0h1v4.1h-1zM85 68.0h1v4.1h-1zM87 68.0h2v4.1h-2zM0 72.0h1v2.1h-1zM2 72.0h3v2.1h-3zM7 72.0h2v2.1h-2zM11 72.0h2v2.1h-2zM14 72.0h1v2.1h-1zM16 72.0h1v2.1h-1zM21 72.0h1v2.1h-1zM29 72.0h3v2.1h-3zM35 72.0h2v2.1h-2zM43 72.0h1v2.1h-1zM45 72.0h1v2.1h-1zM48 72.0h1v2.1h-1zM52 72.0h1v2.1h-1zM57 72.0h1v2.1h-1zM62 72.0h3v2.1h-3zM66 72.0h4v2.1h-4zM72 72.0h3v2.1h-3zM76 72.0h2v2.1h-2zM80 72.0h1v2.1h-1zM86 72.0h3v2.1h-3zM3 74.0h5v4.1h-5zM10 74.0h2v4.1h-2zM13 74.0h1v4.1h-1zM19 74.0h1v4.1h-1zM21 74.0h2v4.1h-2zM29 74.0h3v4.1h-3zM33 74.0h1v4.1h-1zM35 74.0h2v4.1h-2zM43 74.0h1v4.1h-1zM46 74.0h1v4.1h-1zM48 74.0h1v4.1h-1zM56 74.0h1v4.1h-1zM60 74.0h1v4.1h-1zM62 74.0h1v4.1h-1zM64 74.0h1v4.1h-1zM68 74.0h1v4.1h-1zM70 74.0h1v4.1h-1zM73 74.0h2v4.1h-2zM84 74.0h2v4.1h-2zM87 74.0h1v4.1h-1zM3 78.0h4v4.1h-4zM9 78.0h2v4.1h-2zM17 78.0h1v4.1h-1zM21 78.0h3v4.1h-3zM33 78.0h1v4.1h-1zM36 78.0h2v4.1h-2zM46 78.0h3v4.1h-3zM53 78.0h1v4.1h-1zM56 78.0h2v4.1h-2zM60 78.0h2v4.1h-2zM63 78.0h1v4.1h-1zM65 78.0h1v4.1h-1zM68 78.0h2v4.1h-2zM73 78.0h1v4.1h-1zM75 78.0h1v4.1h-1zM77 78.0h1v4.1h-1zM79 78.0h2v4.1h-2zM82 78.0h4v4.1h-4zM3 82.0h4v4.1h-4zM9 82.0h1v4.1h-1zM21 82.0h2v4.1h-2zM28 82.0h1v4.1h-1zM33 82.0h1v4.1h-1zM36 82.0h2v4.1h-2zM41 82.0h1v4.1h-1zM43 82.0h1v4.1h-1zM48 82.0h1v4.1h-1zM53 82.0h1v4.1h-1zM56 82.0h2v4.1h-2zM60 82.0h2v4.1h-2zM63 82.0h1v4.1h-1zM68 82.0h3v4.1h-3zM73 82.0h3v4.1h-3zM77 82.0h4v4.1h-4zM83 82.0h3v4.1h-3zM88 82.0h1v4.1h-1zM3 86.0h2v4.1h-2zM6 86.0h1v4.1h-1zM9 86.0h2v4.1h-2zM16 86.0h1v4.1h-1zM26 86.0h1v4.1h-1zM30 86.0h1v4.1h-1zM35 86.0h2v4.1h-2zM43 86.0h1v4.1h-1zM47 86.0h2v4.1h-2zM50 86.0h1v4.1h-1zM55 86.0h3v4.1h-3zM60 86.0h4v4.1h-4zM65 86.0h1v4.1h-1zM69 86.0h2v4.1h-2zM72 86.0h3v4.1h-3zM76 86.0h3v4.1h-3zM87 86.0h2v4.1h-2zM3 90.0h1v4.1h-1zM6 90.0h2v4.1h-2zM9 90.0h2v4.1h-2zM13 90.0h1v4.1h-1zM15 90.0h2v4.1h-2zM19 90.0h1v4.1h-1zM43 90.0h1v4.1h-1zM50 90.0h1v4.1h-1zM70 90.0h1v4.1h-1zM74 90.0h1v4.1h-1zM76 90.0h1v4.1h-1zM78 90.0h1v4.1h-1zM82 90.0h1v4.1h-1zM84 90.0h1v4.1h-1zM88 90.0h1v4.1h-1zM1 94.0h1v4.1h-1zM3 94.0h2v4.1h-2zM7 94.0h1v4.1h-1zM9 94.0h2v4.1h-2zM13 94.0h4v4.1h-4zM20 94.0h1v4.1h-1zM57 94.0h1v4.1h-1zM71 94.0h2v4.1h-2zM74 94.0h1v4.1h-1zM77 94.0h1v4.1h-1zM82 94.0h1v4.1h-1zM84 94.0h2v4.1h-2zM0 98.0h1v4.1h-1zM3 98.0h1v4.1h-1zM5 98.0h1v4.1h-1zM7 98.0h1v4.1h-1zM9 98.0h2v4.1h-2zM12 98.0h5v4.1h-5zM20 98.0h3v4.1h-3zM34 98.0h1v4.1h-1zM61 98.0h1v4.1h-1zM74 98.0h1v4.1h-1zM81 98.0h2v4.1h-2zM87 98.0h1v4.1h-1zM6 102.0h2v4.1h-2zM12 102.0h1v4.1h-1zM15 102.0h1v4.1h-1zM19 102.0h2v4.1h-2zM22 102.0h1v4.1h-1zM32 102.0h1v4.1h-1zM71 102.0h1v4.1h-1zM75 102.0h1v4.1h-1zM77 102.0h1v4.1h-1zM85 102.0h1v4.1h-1zM87 102.0h1v4.1h-1zM3 106.0h1v6.1h-1zM5 106.0h4v6.1h-4zM14 106.0h1v6.1h-1zM20 106.0h1v6.1h-1zM32 106.0h2v6.1h-2zM43 106.0h1v6.1h-1zM49 106.0h1v6.1h-1zM57 106.0h1v6.1h-1zM67 106.0h2v6.1h-2zM75 106.0h1v6.1h-1zM77 106.0h2v6.1h-2zM80 106.0h1v6.1h-1zM87 106.0h1v6.1h-1zM3 112.0h6v4.1h-6zM16 112.0h1v4.1h-1zM21 112.0h2v4.1h-2zM32 112.0h2v4.1h-2zM36 112.0h1v4.1h-1zM45 112.0h1v4.1h-1zM49 112.0h1v4.1h-1zM51 112.0h1v4.1h-1zM58 112.0h1v4.1h-1zM67 112.0h2v4.1h-2zM75 112.0h3v4.1h-3zM79 112.0h2v4.1h-2zM82 112.0h1v4.1h-1zM87 112.0h1v4.1h-1z"/>
<path fill="#ff1e00" d="M9 28.0h1v4.1h-1zM14 28.0h2v4.1h-2zM27 28.0h1v4.1h-1zM40 28.0h1v4.1h-1zM47 28.0h2v4.1h-2zM82 28.0h1v4.1h-1zM88 28.0h1v4.1h-1zM5 32.0h1v2.1h-1zM22 32.0h1v2.1h-1zM29 32.0h2v2.1h-2zM37 32.0h1v2.1h-1zM47 32.0h2v2.1h-2zM60 32.0h1v2.1h-1zM82 32.0h1v2.1h-1zM17 34.0h1v4.1h-1zM21 34.0h1v4.1h-1zM40 34.0h1v4.1h-1zM45 34.0h1v4.1h-1zM47 34.0h4v4.1h-4zM5 38.0h1v2.1h-1zM23 38.0h1v2.1h-1zM30 38.0h1v2.1h-1zM34 38.0h1v2.1h-1zM50 38.0h1v2.1h-1zM52 38.0h1v2.1h-1zM55 38.0h1v2.1h-1zM81 38.0h1v2.1h-1zM5 40.0h1v2.1h-1zM16 40.0h1v2.1h-1zM20 40.0h1v2.1h-1zM34 40.0h2v2.1h-2zM42 40.0h1v2.1h-1zM88 40.0h1v2.1h-1zM12 42.0h1v4.1h-1zM18 42.0h1v4.1h-1zM47 42.0h1v4.1h-1zM58 42.0h1v4.1h-1zM60 42.0h1v4.1h-1zM72 42.0h1v4.1h-1zM77 42.0h1v4.1h-1zM21 46.0h2v2.1h-2zM43 46.0h1v2.1h-1zM46 46.0h1v2.1h-1zM48 46.0h1v2.1h-1zM53 46.0h1v2.1h-1zM78 46.0h1v2.1h-1zM88 46.0h1v2.1h-1zM27 48.0h1v4.1h-1zM47 48.0h1v4.1h-1zM9 52.0h1v2.1h-1zM23 52.0h1v2.1h-1zM72 52.0h1v2.1h-1zM79 52.0h1v2.1h-1zM1 54.0h1v4.1h-1zM12 54.0h1v4.1h-1zM19 54.0h1v4.1h-1zM26 54.0h1v4.1h-1zM49 54.0h1v4.1h-1zM57 54.0h1v4.1h-1zM66 54.0h1v4.1h-1zM73 54.0h1v4.1h-1zM75 54.0h1v4.1h-1zM77 54.0h2v4.1h-2zM87 54.0h2v4.1h-2zM0 58.0h1v4.1h-1zM31 58.0h1v4.1h-1zM34 58.0h1v4.1h-1zM40 58.0h1v4.1h-1zM47 58.0h1v4.1h-1zM51 58.0h1v4.1h-1zM60 58.0h1v4.1h-1zM70 58.0h1v4.1h-1zM87 58.0h2v4.1h-2zM3 62.0h1v2.1h-1zM8 62.0h1v2.1h-1zM10 62.0h1v2.1h-1zM17 62.0h1v2.1h-1zM29 62.0h1v2.1h-1zM39 62.0h1v2.1h-1zM44 62.0h1v2.1h-1zM48 62.0h1v2.1h-1zM51 62.0h1v2.1h-1zM61 62.0h2v2.1h-2zM66 62.0h1v2.1h-1zM70 62.0h1v2.1h-1zM79 62.0h1v2.1h-1zM15 64.0h1v4.1h-1zM24 64.0h1v4.1h-1zM26 64.0h1v4.1h-1zM36 64.0h1v4.1h-1zM54 64.0h1v4.1h-1zM78 64.0h3v4.1h-3zM82 64.0h1v4.1h-1zM0 68.0h1v4.1h-1zM18 68.0h1v4.1h-1zM36 68.0h1v4.1h-1zM38 68.0h1v4.1h-1zM44 68.0h2v4.1h-2zM51 68.0h1v4.1h-1zM57 68.0h1v4.1h-1zM65 68.0h1v4.1h-1zM71 68.0h2v4.1h-2zM6 72.0h1v2.1h-1zM17 72.0h1v2.1h-1zM20 72.0h1v2.1h-1zM25 72.0h1v2.1h-1zM40 72.0h1v2.1h-1zM56 72.0h1v2.1h-1zM70 72.0h1v2.1h-1zM75 72.0h1v2.1h-1zM84 72.0h1v2.1h-1zM0 74.0h1v4.1h-1zM14 74.0h1v4.1h-1zM25 74.0h1v4.1h-1zM28 74.0h1v4.1h-1zM41 74.0h1v4.1h-1zM52 74.0h1v4.1h-1zM69 74.0h1v4.1h-1zM72 74.0h1v4.1h-1zM75 74.0h1v4.1h-1zM80 74.0h2v4.1h-2zM86 74.0h1v4.1h-1zM0 78.0h2v4.1h-2zM11 78.0h1v4.1h-1zM18 78.0h1v4.1h-1zM25 78.0h1v4.1h-1zM27 78.0h2v4.1h-2zM30 78.0h1v4.1h-1zM52 78.0h1v4.1h-1zM54 78.0h1v4.1h-1zM62 78.0h1v4.1h-1zM66 78.0h2v4.1h-2zM87 78.0h1v4.1h-1zM12 82.0h1v4.1h-1zM15 82.0h1v4.1h-1zM30 82.0h1v4.1h-1zM40 82.0h1v4.1h-1zM54 82.0h1v4.1h-1zM82 82.0h1v4.1h-1zM0 86.0h2v4.1h-2zM7 86.0h1v4.1h-1zM15 86.0h1v4.1h-1zM17 86.0h1v4.1h-1zM39 86.0h1v4.1h-1zM41 86.0h1v4.1h-1zM53 86.0h1v4.1h-1zM81 86.0h1v4.1h-1zM85 86.0h1v4.1h-1zM11 90.0h1v4.1h-1zM27 90.0h1v4.1h-1zM47 90.0h1v4.1h-1zM69 90.0h1v4.1h-1zM85 90.0h1v4.1h-1zM5 94.0h1v4.1h-1zM17 94.0h1v4.1h-1zM22 94.0h1v4.1h-1zM24 94.0h1v4.1h-1zM26 94.0h1v4.1h-1zM55 94.0h1v4.1h-1zM59 94.0h1v4.1h-1zM69 94.0h1v4.1h-1zM76 94.0h1v4.1h-1zM79 94.0h1v4.1h-1zM81 94.0h1v4.1h-1zM1 98.0h1v4.1h-1zM31 98.0h1v4.1h-1zM36 98.0h2v4.1h-2zM43 98.0h1v4.1h-1zM45 98.0h1v4.1h-1zM58 98.0h1v4.1h-1zM72 98.0h1v4.1h-1zM75 98.0h1v4.1h-1zM83 98.0h2v4.1h-2zM5 102.0h1v4.1h-1zM31 102.0h1v4.1h-1zM33 102.0h1v4.1h-1zM35 102.0h1v4.1h-1zM39 102.0h1v4.1h-1zM43 102.0h1v4.1h-1zM48 102.0h1v4.1h-1zM76 102.0h1v4.1h-1zM79 102.0h1v4.1h-1zM2 106.0h1v6.1h-1zM17 106.0h3v6.1h-3zM35 106.0h1v6.1h-1zM39 106.0h1v6.1h-1zM79 106.0h1v6.1h-1zM14 112.0h2v4.1h-2zM23 112.0h1v4.1h-1zM38 112.0h1v4.1h-1zM41 112.0h1v4.1h-1zM43 112.0h1v4.1h-1zM81 112.0h1v4.1h-1zM84 112.0h1v4.1h-1zM88 112.0h1v4.1h-1z"/>
<path fill="#ff4f00" d="M10 28.0h1v4.1h-1zM12 28.0h1v4.1h-1zM23 28.0h1v4.1h-1zM34 28.0h1v4.1h-1zM36 28.0h1v4.1h-1zM68 28.0h1v4.1h-1zM87 28.0h1v4.1h-1zM10 32.0h1v2.1h-1zM14 32.0h1v2.1h-1zM62 32.0h1v2.1h-1zM75 32.0h1v2.1h-1zM0 34.0h1v4.1h-1zM23 34.0h1v4.1h-1zM27 34.0h1v4.1h-1zM51 38.0h1v2.1h-1zM49 40.0h1v2.1h-1zM24 42.0h1v4.1h-1zM29 42.0h1v4.1h-1zM14 46.0h1v2.1h-1zM24 46.0h1v2.1h-1zM47 46.0h1v2.1h-1zM19 48.0h1v4.1h-1zM76 48.0h1v4.1h-1zM19 52.0h1v2.1h-1zM27 52.0h1v2.1h-1zM18 58.0h1v4.1h-1zM28 58.0h1v4.1h-1zM52 58.0h1v4.1h-1zM61 58.0h1v4.1h-1zM5 62.0h1v2.1h-1zM78 62.0h1v2.1h-1zM39 64.0h1v4.1h-1zM50 64.0h1v4.1h-1zM58 68.0h1v4.1h-1zM69 68.0h1v4.1h-1zM79 68.0h1v4.1h-1zM84 68.0h1v4.1h-1zM15 72.0h1v2.1h-1zM23 72.0h1v2.1h-1zM83 72.0h1v2.1h-1zM8 74.0h1v4.1h-1zM58 74.0h1v4.1h-1zM83 74.0h1v4.1h-1zM16 78.0h1v4.1h-1zM20 78.0h1v4.1h-1zM26 78.0h1v4.1h-1zM32 78.0h1v4.1h-1zM42 78.0h1v4.1h-1zM45 78.0h1v4.1h-1zM78 78.0h1v4.1h-1zM13 82.0h1v4.1h-1zM25 82.0h1v4.1h-1zM34 82.0h1v4.1h-1zM66 82.0h2v4.1h-2zM40 86.0h1v4.1h-1zM52 86.0h1v4.1h-1zM64 86.0h1v4.1h-1zM79 86.0h1v4.1h-1zM5 90.0h1v4.1h-1zM14 90.0h1v4.1h-1zM23 90.0h1v4.1h-1zM26 90.0h1v4.1h-1zM29 90.0h1v4.1h-1zM44 90.0h1v4.1h-1zM53 90.0h1v4.1h-1zM60 90.0h1v4.1h-1zM64 90.0h1v4.1h-1zM86 90.0h2v4.1h-2zM2 94.0h1v4.1h-1zM29 94.0h1v4.1h-1zM32 94.0h1v4.1h-1zM64 94.0h1v4.1h-1zM70 94.0h1v4.1h-1zM87 94.0h1v4.1h-1zM11 98.0h1v4.1h-1zM17 98.0h1v4.1h-1zM25 98.0h1v4.1h-1zM62 98.0h2v4.1h-2zM88 98.0h1v4.1h-1zM1 102.0h1v4.1h-1zM11 102.0h1v4.1h-1zM25 102.0h1v4.1h-1zM42 102.0h1v4.1h-1zM47 102.0h1v4.1h-1zM54 102.0h1v4.1h-1zM62 102.0h1v4.1h-1zM65 102.0h2v4.1h-2zM78 102.0h1v4.1h-1zM0 106.0h1v6.1h-1zM23 106.0h1v6.1h-1zM26 106.0h1v6.1h-1zM31 106.0h1v6.1h-1zM44 106.0h1v6.1h-1zM47 106.0h2v6.1h-2zM61 106.0h1v6.1h-1zM64 106.0h1v6.1h-1zM70 106.0h1v6.1h-1zM73 106.0h1v6.1h-1zM9 112.0h1v4.1h-1zM28 112.0h1v4.1h-1zM34 112.0h1v4.1h-1zM37 112.0h1v4.1h-1zM46 112.0h1v4.1h-1zM60 112.0h1v4.1h-1zM69 112.0h1v4.1h-1z"/>
<path fill="#ffdb00" d="M26 28.0h1v4.1h-1zM18 48.0h1v4.1h-1zM70 98.0h1v4.1h-1z"/>
<path fill="#ff0a00" d="M29 28.0h1v4.1h-1zM37 28.0h2v4.1h-2zM46 28.0h1v4.1h-1zM54 28.0h1v4.1h-1zM62 28.0h1v4.1h-1zM74 28.0h1v4.1h-1zM77 28.0h1v4.1h-1zM0 32.0h1v2.1h-1zM3 32.0h1v2.1h-1zM58 32.0h1v2.1h-1zM83 32.0h1v2.1h-1zM5 34.0h1v4.1h-1zM13 34.0h1v4.1h-1zM56 34.0h1v4.1h-1zM61 34.0h1v4.1h-1zM75 34.0h1v4.1h-1zM0 38.0h1v2.1h-1zM7 38.0h1v2.1h-1zM10 38.0h1v2.1h-1zM22 38.0h1v2.1h-1zM32 38.0h1v2.1h-1zM61 38.0h1v2.1h-1zM63 38.0h1v2.1h-1zM80 38.0h1v2.1h-1zM2 40.0h1v2.1h-1zM11 40.0h1v2.1h-1zM21 40.0h1v2.1h-1zM39 40.0h1v2.1h-1zM48 40.0h1v2.1h-1zM55 40.0h1v2.1h-1zM58 40.0h1v2.1h-1zM76 40.0h1v2.1h-1zM79 40.0h1v2.1h-1zM5 42.0h1v4.1h-1zM7 42.0h1v4.1h-1zM9 42.0h3v4.1h-3zM14 42.0h1v4.1h-1zM36 42.0h1v4.1h-1zM39 42.0h1v4.1h-1zM41 42.0h1v4.1h-1zM43 42.0h1v4.1h-1zM48 42.0h1v4.1h-1zM62 42.0h1v4.1h-1zM76 42.0h1v4.1h-1zM78 42.0h1v4.1h-1zM87 42.0h2v4.1h-2zM7 46.0h2v2.1h-2zM54 46.0h1v2.1h-1zM63 46.0h1v2.1h-1zM66 46.0h1v2.1h-1zM83 46.0h2v2.1h-2zM2 48.0h1v4.1h-1zM10 48.0h2v4.1h-2zM13 48.0h1v4.1h-1zM62 48.0h1v4.1h-1zM71 48.0h1v4.1h-1zM78 48.0h1v4.1h-1zM81 48.0h1v4.1h-1zM84 48.0h1v4.1h-1zM86 48.0h2v4.1h-2zM1 52.0h1v2.1h-1zM6 52.0h1v2.1h-1zM33 52.0h2v2.1h-2zM36 52.0h1v2.1h-1zM51 52.0h1v2.1h-1zM53 52.0h1v2.1h-1zM60 52.0h2v2.1h-2zM67 52.0h1v2.1h-1zM70 52.0h1v2.1h-1zM0 54.0h1v4.1h-1zM5 54.0h1v4.1h-1zM14 54.0h2v4.1h-2zM28 54.0h1v4.1h-1zM53 54.0h1v4.1h-1zM56 54.0h1v4.1h-1zM59 54.0h2v4.1h-2zM3 58.0h2v4.1h-2zM13 58.0h1v4.1h-1zM33 58.0h1v4.1h-1zM68 58.0h2v4.1h-2zM9 62.0h1v2.1h-1zM14 62.0h1v2.1h-1zM30 62.0h2v2.1h-2zM36 62.0h1v2.1h-1zM87 62.0h1v2.1h-1zM12 64.0h3v4.1h-3zM16 64.0h1v4.1h-1zM18 64.0h2v4.1h-2zM30 64.0h1v4.1h-1zM34 64.0h1v4.1h-1zM42 64.0h1v4.1h-1zM60 64.0h1v4.1h-1zM65 64.0h1v4.1h-1zM81 64.0h1v4.1h-1zM86 64.0h1v4.1h-1zM88 64.0h1v4.1h-1zM10 68.0h2v4.1h-2zM13 68.0h1v4.1h-1zM34 68.0h1v4.1h-1zM39 68.0h2v4.1h-2zM55 68.0h1v4.1h-1zM67 68.0h2v4.1h-2zM82 68.0h1v4.1h-1zM86 68.0h1v4.1h-1zM13 72.0h1v2.1h-1zM19 72.0h1v2.1h-1zM22 72.0h1v2.1h-1zM41 72.0h1v2.1h-1zM47 72.0h1v2.1h-1zM61 72.0h1v2.1h-1zM81 72.0h2v2.1h-2zM9 74.0h1v4.1h-1zM15 74.0h1v4.1h-1zM37 74.0h1v4.1h-1zM39 74.0h1v4.1h-1zM45 74.0h1v4.1h-1zM47 74.0h1v4.1h-1zM55 74.0h1v4.1h-1zM66 74.0h1v4.1h-1zM77 74.0h1v4.1h-1zM79 74.0h1v4.1h-1zM82 74.0h1v4.1h-1zM15 78.0h1v4.1h-1zM31 78.0h1v4.1h-1zM35 78.0h1v4.1h-1zM38 78.0h1v4.1h-1zM41 78.0h1v4.1h-1zM51 78.0h1v4.1h-1zM55 78.0h1v4.1h-1zM70 78.0h1v4.1h-1zM74 78.0h1v4.1h-1zM86 78.0h1v4.1h-1zM88 78.0h1v4.1h-1zM0 82.0h2v4.1h-2zM14 82.0h1v4.1h-1zM17 82.0h1v4.1h-1zM19 82.0h1v4.1h-1zM24 82.0h1v4.1h-1zM47 82.0h1v4.1h-1zM49 82.0h1v4.1h-1zM8 86.0h1v4.1h-1zM12 86.0h1v4.1h-1zM19 86.0h1v4.1h-1zM34 86.0h1v4.1h-1zM42 86.0h1v4.1h-1zM45 86.0h1v4.1h-1zM58 86.0h1v4.1h-1zM80 86.0h1v4.1h-1zM83 86.0h2v4.1h-2zM1 90.0h1v4.1h-1zM4 90.0h1v4.1h-1zM17 90.0h1v4.1h-1zM30 90.0h1v4.1h-1zM45 90.0h1v4.1h-1zM72 90.0h1v4.1h-1zM77 90.0h1v4.1h-1zM6 94.0h1v4.1h-1zM75 94.0h1v4.1h-1zM4 98.0h1v4.1h-1zM6 98.0h1v4.1h-1zM41 98.0h1v4.1h-1zM68 98.0h1v4.1h-1zM80 98.0h1v4.1h-1zM85 98.0h1v4.1h-1zM3 102.0h2v4.1h-2zM9 102.0h1v4.1h-1zM21 102.0h1v4.1h-1zM36 102.0h1v4.1h-1zM41 102.0h1v4.1h-1zM45 102.0h1v4.1h-1zM49 102.0h1v4.1h-1zM55 102.0h1v4.1h-1zM58 102.0h1v4.1h-1zM69 102.0h1v4.1h-1zM74 102.0h1v4.1h-1zM9 106.0h1v6.1h-1zM16 106.0h1v6.1h-1zM22 106.0h1v6.1h-1zM40 106.0h1v6.1h-1zM53 106.0h1v6.1h-1zM55 106.0h1v6.1h-1zM60 106.0h1v6.1h-1zM72 106.0h1v6.1h-1zM85 106.0h1v6.1h-1zM48 112.0h1v4.1h-1zM59 112.0h1v4.1h-1z"/>
<path fill="#ff5f00" d="M42 28.0h1v4.1h-1zM49 32.0h1v2.1h-1zM56 32.0h1v2.1h-1zM67 32.0h1v2.1h-1zM10 34.0h1v4.1h-1zM22 34.0h1v4.1h-1zM29 34.0h1v4.1h-1zM42 34.0h1v4.1h-1zM14 38.0h1v2.1h-1zM25 38.0h1v2.1h-1zM28 38.0h1v2.1h-1zM46 38.0h1v2.1h-1zM88 38.0h1v2.1h-1zM6 40.0h1v2.1h-1zM25 40.0h1v2.1h-1zM56 40.0h1v2.1h-1zM81 42.0h1v4.1h-1zM44 46.0h1v2.1h-1zM55 46.0h1v2.1h-1zM25 48.0h1v4.1h-1zM57 48.0h1v4.1h-1zM7 52.0h1v2.1h-1zM47 52.0h1v2.1h-1zM55 52.0h1v2.1h-1zM81 52.0h1v2.1h-1zM6 54.0h2v4.1h-2zM25 54.0h1v4.1h-1zM36 54.0h1v4.1h-1zM6 58.0h1v4.1h-1zM24 58.0h1v4.1h-1zM49 58.0h1v4.1h-1zM75 58.0h1v4.1h-1zM24 62.0h1v2.1h-1zM27 64.0h1v4.1h-1zM40 64.0h1v4.1h-1zM49 64.0h1v4.1h-1zM71 64.0h1v4.1h-1zM73 64.0h1v4.1h-1zM76 64.0h1v4.1h-1zM20 68.0h1v4.1h-1zM24 68.0h2v4.1h-2zM49 68.0h1v4.1h-1zM54 68.0h1v4.1h-1zM75 68.0h1v4.1h-1zM18 72.0h1v2.1h-1zM54 72.0h1v2.1h-1zM65 72.0h1v2.1h-1zM49 74.0h1v4.1h-1zM59 74.0h1v4.1h-1zM65 74.0h1v4.1h-1zM24 78.0h1v4.1h-1zM34 78.0h1v4.1h-1zM40 78.0h1v4.1h-1zM11 82.0h1v4.1h-1zM16 82.0h1v4.1h-1zM23 82.0h1v4.1h-1zM62 82.0h1v4.1h-1zM71 82.0h1v4.1h-1zM66 86.0h1v4.1h-1zM86 86.0h1v4.1h-1zM22 90.0h1v4.1h-1zM25 90.0h1v4.1h-1zM34 90.0h1v4.1h-1zM51 90.0h1v4.1h-1zM67 90.0h1v4.1h-1zM38 94.0h1v4.1h-1zM47 94.0h1v4.1h-1zM50 94.0h2v4.1h-2zM60 94.0h1v4.1h-1zM63 94.0h1v4.1h-1zM65 94.0h1v4.1h-1zM18 98.0h1v4.1h-1zM24 98.0h1v4.1h-1zM26 98.0h1v4.1h-1zM28 98.0h1v4.1h-1zM44 98.0h1v4.1h-1zM56 98.0h1v4.1h-1zM10 102.0h1v4.1h-1zM23 102.0h1v4.1h-1zM29 102.0h1v4.1h-1zM46 102.0h1v4.1h-1zM67 102.0h1v4.1h-1zM81 102.0h1v4.1h-1zM13 106.0h1v6.1h-1zM46 106.0h1v6.1h-1zM56 106.0h1v6.1h-1zM62 106.0h1v6.1h-1zM83 106.0h1v6.1h-1zM1 112.0h1v4.1h-1zM26 112.0h1v4.1h-1zM53 112.0h1v4.1h-1zM65 112.0h2v4.1h-2zM73 112.0h1v4.1h-1z"/>
<path fill="#ffb100" d="M49 28.0h1v4.1h-1zM62 38.0h1v2.1h-1zM24 40.0h1v2.1h-1zM16 54.0h1v4.1h-1zM46 90.0h1v4.1h-1zM23 94.0h1v4.1h-1zM66 94.0h1v4.1h-1zM46 98.0h1v4.1h-1zM73 98.0h1v4.1h-1zM70 102.0h1v4.1h-1z"/>
<path fill="#ff8400" d="M23 32.0h1v2.1h-1zM26 34.0h1v4.1h-1zM26 42.0h1v4.1h-1zM28 42.0h1v4.1h-1zM71 42.0h1v4.1h-1zM24 48.0h1v4.1h-1zM24 54.0h1v4.1h-1zM81 54.0h1v4.1h-1zM23 58.0h1v4.1h-1zM27 58.0h1v4.1h-1zM23 62.0h1v2.1h-1zM75 62.0h1v2.1h-1zM6 64.0h1v4.1h-1zM20 64.0h1v4.1h-1zM70 64.0h1v4.1h-1zM2 82.0h1v4.1h-1zM18 90.0h1v4.1h-1zM38 90.0h2v4.1h-2zM49 90.0h1v4.1h-1zM8 94.0h1v4.1h-1zM25 94.0h1v4.1h-1zM27 94.0h1v4.1h-1zM40 98.0h1v4.1h-1zM42 98.0h1v4.1h-1zM78 98.0h1v4.1h-1zM24 102.0h1v4.1h-1zM52 102.0h1v4.1h-1zM64 102.0h1v4.1h-1zM25 106.0h1v6.1h-1zM27 106.0h1v6.1h-1zM42 106.0h1v6.1h-1zM81 106.0h1v6.1h-1zM84 106.0h1v6.1h-1zM12 112.0h2v4.1h-2zM18 112.0h1v4.1h-1zM31 112.0h1v4.1h-1zM71 112.0h1v4.1h-1z"/>
<path fill="#ff7100" d="M24 32.0h1v2.1h-1zM43 32.0h1v2.1h-1zM24 38.0h1v2.1h-1zM22 40.0h1v2.1h-1zM76 46.0h1v2.1h-1zM29 52.0h1v2.1h-1zM42 54.0h1v4.1h-1zM6 62.0h1v2.1h-1zM49 62.0h1v2.1h-1zM73 62.0h1v2.1h-1zM0 64.0h1v4.1h-1zM25 64.0h1v4.1h-1zM61 64.0h1v4.1h-1zM74 64.0h1v4.1h-1zM19 68.0h1v4.1h-1zM26 68.0h1v4.1h-1zM44 72.0h1v2.1h-1zM24 74.0h1v4.1h-1zM2 78.0h1v4.1h-1zM59 78.0h1v4.1h-1zM59 82.0h1v4.1h-1zM64 82.0h1v4.1h-1zM2 86.0h1v4.1h-1zM51 86.0h1v4.1h-1zM0 90.0h1v4.1h-1zM33 90.0h1v4.1h-1zM62 90.0h1v4.1h-1zM65 90.0h1v4.1h-1zM71 90.0h1v4.1h-1zM79 90.0h1v4.1h-1zM34 94.0h1v4.1h-1zM40 94.0h2v4.1h-2zM49 94.0h1v4.1h-1zM53 94.0h1v4.1h-1zM33 98.0h1v4.1h-1zM51 98.0h1v4.1h-1zM30 102.0h1v4.1h-1zM56 102.0h1v4.1h-1zM61 102.0h1v4.1h-1zM15 106.0h1v6.1h-1zM28 106.0h2v6.1h-2zM38 106.0h1v6.1h-1zM52 106.0h1v6.1h-1zM65 106.0h1v6.1h-1zM10 112.0h1v4.1h-1zM24 112.0h1v4.1h-1zM29 112.0h1v4.1h-1zM40 112.0h1v4.1h-1zM44 112.0h1v4.1h-1zM57 112.0h1v4.1h-1zM61 112.0h1v4.1h-1z"/>
<path fill="#70ff00" d="M26 32.0h1v2.1h-1z"/>
<path fill="#e9ff00" d="M34 32.0h1v2.1h-1z"/>
<path fill="#daff00" d="M24 34.0h1v4.1h-1zM17 42.0h1v4.1h-1zM48 98.0h1v4.1h-1z"/>
<path fill="#ff9600" d="M25 42.0h1v4.1h-1zM24 52.0h1v2.1h-1zM73 58.0h1v4.1h-1zM76 58.0h1v4.1h-1zM79 58.0h1v4.1h-1zM81 58.0h1v4.1h-1zM76 62.0h1v2.1h-1zM23 68.0h1v4.1h-1zM42 68.0h1v4.1h-1zM41 90.0h1v4.1h-1zM58 90.0h1v4.1h-1zM28 94.0h1v4.1h-1zM43 94.0h1v4.1h-1zM46 94.0h1v4.1h-1zM66 98.0h1v4.1h-1zM26 102.0h2v4.1h-2zM50 102.0h1v4.1h-1zM63 102.0h1v4.1h-1zM10 106.0h1v6.1h-1zM50 106.0h1v6.1h-1zM56 112.0h1v4.1h-1z"/>
<path fill="#ffa400" d="M44 48.0h1v4.1h-1zM2 90.0h1v4.1h-1zM52 94.0h1v4.1h-1zM23 98.0h1v4.1h-1zM27 98.0h1v4.1h-1zM30 98.0h1v4.1h-1zM38 98.0h1v4.1h-1zM50 98.0h1v4.1h-1zM28 102.0h1v4.1h-1zM38 102.0h1v4.1h-1zM24 106.0h1v6.1h-1zM30 106.0h1v6.1h-1zM66 106.0h1v6.1h-1z"/>
<path fill="#ffbf00" d="M17 54.0h1v4.1h-1zM20 86.0h1v4.1h-1zM28 90.0h1v4.1h-1zM66 90.0h1v4.1h-1zM33 94.0h1v4.1h-1zM73 102.0h1v4.1h-1zM52 112.0h1v4.1h-1z"/>
<path fill="#ffcd00" d="M67 54.0h1v4.1h-1zM85 64.0h1v4.1h-1z"/>
<path fill="#afff00" d="M25 62.0h1v2.1h-1z"/>
<path fill="#fff800" d="M50 68.0h1v4.1h-1zM73 94.0h1v4.1h-1z"/>
<path fill="#80ff00" d="M5 86.0h1v4.1h-1z"/>
<path fill="#ccff00" d="M32 90.0h1v4.1h-1zM62 112.0h1v4.1h-1z"/>
<path fill="#f8ff00" d="M42 90.0h1v4.1h-1zM73 90.0h1v4.1h-1z"/>
<path fill="#a0ff00" d="M53 98.0h1v4.1h-1z"/>
<path fill="#ffea00" d="M55 98.0h1v4.1h-1z"/>
</g>
<line x1="89.80" y1="54.67" x2="809.80" y2="54.67" stroke="#000" stroke-width="1.2" stroke-dasharray="1.7 6.34" stroke-dashoffset="0.85"/>
<line x1="89.80" y1="89.77" x2="809.80" y2="89.77" stroke="#000" stroke-width="1.2" stroke-dasharray="1.7 6.34" stroke-dashoffset="0.85"/>
<line x1="179.80" y1="1.80" x2="179.80" y2="137.72" stroke="#000" stroke-width="1.2" stroke-dasharray="2 6.04" stroke-dashoffset="0.5"/>
<line x1="269.80" y1="1.80" x2="269.80" y2="137.72" stroke="#000" stroke-width="1.2" stroke-dasharray="2 6.04" stroke-dashoffset="0.5"/>
<line x1="359.80" y1="1.80" x2="359.80" y2="137.72" stroke="#000" stroke-width="1.2" stroke-dasharray="2 6.04" stroke-dashoffset="0.5"/>
<line x1="449.80" y1="1.80" x2="449.80" y2="137.72" stroke="#000" stroke-width="1.2" stroke-dasharray="2 6.04" stroke-dashoffset="0.5"/>
<line x1="539.80" y1="1.80" x2="539.80" y2="137.72" stroke="#000" stroke-width="1.2" stroke-dasharray="2 6.04" stroke-dashoffset="0.5"/>
<line x1="629.80" y1="1.80" x2="629.80" y2="137.72" stroke="#000" stroke-width="1.2" stroke-dasharray="2 6.04" stroke-dashoffset="0.5"/>
<line x1="719.80" y1="1.80" x2="719.80" y2="137.72" stroke="#000" stroke-width="1.2" stroke-dasharray="2 6.04" stroke-dashoffset="0.5"/>
<use href="#coast"/>
<rect x="179.80" y="1.1" width="90.00" height="1.5" fill="#fff"/>
<rect x="179.80" y="137.3" width="90.00" height="1.5" fill="#fff"/>
<rect x="359.80" y="1.1" width="90.00" height="1.5" fill="#fff"/>
<rect x="359.80" y="137.3" width="90.00" height="1.5" fill="#fff"/>
<rect x="539.80" y="1.1" width="90.00" height="1.5" fill="#fff"/>
<rect x="539.80" y="137.3" width="90.00" height="1.5" fill="#fff"/>
<rect x="719.80" y="1.1" width="88.70" height="1.5" fill="#fff"/>
<rect x="719.80" y="137.3" width="88.70" height="1.5" fill="#fff"/>
<rect x="89" y="1.10" width="1.8" height="25.18" fill="#fff"/>
<rect x="808.6" y="1.10" width="1.8" height="25.18" fill="#fff"/>
<rect x="89" y="54.67" width="1.8" height="35.10" fill="#fff"/>
<rect x="808.6" y="54.67" width="1.8" height="35.10" fill="#fff"/>
<text x="82.3" y="8.20" font-size="14.2" text-anchor="end" textLength="28.6" lengthAdjust="spacingAndGlyphs">30°S</text>
<text x="82.3" y="32.68" font-size="14.2" text-anchor="end" textLength="28.6" lengthAdjust="spacingAndGlyphs">40°S</text>
<text x="82.3" y="61.07" font-size="14.2" text-anchor="end" textLength="28.6" lengthAdjust="spacingAndGlyphs">50°S</text>
<text x="82.3" y="96.17" font-size="14.2" text-anchor="end" textLength="28.6" lengthAdjust="spacingAndGlyphs">60°S</text>
<text x="82.3" y="144.12" font-size="14.2" text-anchor="end" textLength="28.6" lengthAdjust="spacingAndGlyphs">70°S</text>
<text transform="translate(26.5,70.00) rotate(-90)" font-size="16" text-anchor="middle" textLength="45.6" lengthAdjust="spacingAndGlyphs">water</text>
</g>
<rect x="890.2" y="608.30" width="8.3" height="156.20" fill="url(#cg)" stroke="#000" stroke-width="0.8"/>
<line x1="888.8" y1="764.50" x2="890.2" y2="764.50" stroke="#000" stroke-width="0.7"/>
<line x1="888.8" y1="756.65" x2="890.2" y2="756.65" stroke="#000" stroke-width="0.7"/>
<line x1="888.8" y1="748.80" x2="890.2" y2="748.80" stroke="#000" stroke-width="0.7"/>
<line x1="888.8" y1="740.95" x2="890.2" y2="740.95" stroke="#000" stroke-width="0.7"/>
<line x1="888.8" y1="733.10" x2="890.2" y2="733.10" stroke="#000" stroke-width="0.7"/>
<line x1="888.8" y1="725.25" x2="890.2" y2="725.25" stroke="#000" stroke-width="0.7"/>
<line x1="888.8" y1="717.40" x2="890.2" y2="717.40" stroke="#000" stroke-width="0.7"/>
<line x1="888.8" y1="709.56" x2="890.2" y2="709.56" stroke="#000" stroke-width="0.7"/>
<line x1="888.8" y1="701.71" x2="890.2" y2="701.71" stroke="#000" stroke-width="0.7"/>
<line x1="888.8" y1="693.86" x2="890.2" y2="693.86" stroke="#000" stroke-width="0.7"/>
<line x1="888.8" y1="686.01" x2="890.2" y2="686.01" stroke="#000" stroke-width="0.7"/>
<line x1="888.8" y1="678.16" x2="890.2" y2="678.16" stroke="#000" stroke-width="0.7"/>
<line x1="888.8" y1="670.31" x2="890.2" y2="670.31" stroke="#000" stroke-width="0.7"/>
<line x1="888.8" y1="662.46" x2="890.2" y2="662.46" stroke="#000" stroke-width="0.7"/>
<line x1="888.8" y1="654.61" x2="890.2" y2="654.61" stroke="#000" stroke-width="0.7"/>
<line x1="888.8" y1="646.76" x2="890.2" y2="646.76" stroke="#000" stroke-width="0.7"/>
<line x1="888.8" y1="638.91" x2="890.2" y2="638.91" stroke="#000" stroke-width="0.7"/>
<line x1="888.8" y1="631.06" x2="890.2" y2="631.06" stroke="#000" stroke-width="0.7"/>
<line x1="888.8" y1="623.21" x2="890.2" y2="623.21" stroke="#000" stroke-width="0.7"/>
<line x1="888.8" y1="615.36" x2="890.2" y2="615.36" stroke="#000" stroke-width="0.7"/>
<line x1="887.6" y1="764.50" x2="890.2" y2="764.50" stroke="#000" stroke-width="0.8"/>
<text x="882.6" y="768.40" font-size="12.6" text-anchor="end" textLength="19.0" lengthAdjust="spacingAndGlyphs">0.0</text>
<line x1="887.6" y1="733.10" x2="890.2" y2="733.10" stroke="#000" stroke-width="0.8"/>
<text x="882.6" y="737.00" font-size="12.6" text-anchor="end" textLength="19.0" lengthAdjust="spacingAndGlyphs">0.2</text>
<line x1="887.6" y1="701.71" x2="890.2" y2="701.71" stroke="#000" stroke-width="0.8"/>
<text x="882.6" y="705.61" font-size="12.6" text-anchor="end" textLength="19.0" lengthAdjust="spacingAndGlyphs">0.4</text>
<line x1="887.6" y1="670.31" x2="890.2" y2="670.31" stroke="#000" stroke-width="0.8"/>
<text x="882.6" y="674.21" font-size="12.6" text-anchor="end" textLength="19.0" lengthAdjust="spacingAndGlyphs">0.6</text>
<line x1="887.6" y1="638.91" x2="890.2" y2="638.91" stroke="#000" stroke-width="0.8"/>
<text x="882.6" y="642.81" font-size="12.6" text-anchor="end" textLength="19.0" lengthAdjust="spacingAndGlyphs">0.8</text>
<text transform="translate(854.6,686.40) rotate(-90)" font-size="12" text-anchor="middle" textLength="59" lengthAdjust="spacingAndGlyphs">frequency</text>
<g transform="translate(0,792)">
<rect x="88" y="0" width="723.70" height="140" fill="#000"/>
<g shape-rendering="crispEdges" transform="translate(92.00,0) scale(8.0416,1)">
<path fill="#ff0000" d="M0 28.0h89v4.1h-89zM0 32.0h89v2.1h-89zM0 34.0h89v4.1h-89zM0 38.0h89v2.1h-89zM0 40.0h89v2.1h-89zM0 42.0h89v4.1h-89zM0 46.0h89v2.1h-89zM0 48.0h89v4.1h-89zM0 52.0h89v2.1h-89zM0 54.0h89v4.1h-89zM0 58.0h89v4.1h-89zM0 62.0h89v2.1h-89zM0 64.0h89v4.1h-89zM0 68.0h89v4.1h-89zM0 72.0h89v2.1h-89zM0 74.0h89v4.1h-89zM0 78.0h89v4.1h-89zM0 82.0h89v4.1h-89zM0 86.0h89v4.1h-89zM0 90.0h89v4.1h-89zM0 94.0h89v4.1h-89zM0 98.0h89v4.1h-89zM0 102.0h89v4.1h-89zM0 106.0h89v6.1h-89zM0 112.0h89v4.1h-89z"/>
</g>
<line x1="89.80" y1="54.67" x2="809.80" y2="54.67" stroke="#000" stroke-width="1.2" stroke-dasharray="1.7 6.34" stroke-dashoffset="0.85"/>
<line x1="89.80" y1="89.77" x2="809.80" y2="89.77" stroke="#000" stroke-width="1.2" stroke-dasharray="1.7 6.34" stroke-dashoffset="0.85"/>
<line x1="179.80" y1="1.80" x2="179.80" y2="137.72" stroke="#000" stroke-width="1.2" stroke-dasharray="2 6.04" stroke-dashoffset="0.5"/>
<line x1="269.80" y1="1.80" x2="269.80" y2="137.72" stroke="#000" stroke-width="1.2" stroke-dasharray="2 6.04" stroke-dashoffset="0.5"/>
<line x1="359.80" y1="1.80" x2="359.80" y2="137.72" stroke="#000" stroke-width="1.2" stroke-dasharray="2 6.04" stroke-dashoffset="0.5"/>
<line x1="449.80" y1="1.80" x2="449.80" y2="137.72" stroke="#000" stroke-width="1.2" stroke-dasharray="2 6.04" stroke-dashoffset="0.5"/>
<line x1="539.80" y1="1.80" x2="539.80" y2="137.72" stroke="#000" stroke-width="1.2" stroke-dasharray="2 6.04" stroke-dashoffset="0.5"/>
<line x1="629.80" y1="1.80" x2="629.80" y2="137.72" stroke="#000" stroke-width="1.2" stroke-dasharray="2 6.04" stroke-dashoffset="0.5"/>
<line x1="719.80" y1="1.80" x2="719.80" y2="137.72" stroke="#000" stroke-width="1.2" stroke-dasharray="2 6.04" stroke-dashoffset="0.5"/>
<use href="#coast"/>
<rect x="179.80" y="1.1" width="90.00" height="1.5" fill="#fff"/>
<rect x="179.80" y="137.3" width="90.00" height="1.5" fill="#fff"/>
<rect x="359.80" y="1.1" width="90.00" height="1.5" fill="#fff"/>
<rect x="359.80" y="137.3" width="90.00" height="1.5" fill="#fff"/>
<rect x="539.80" y="1.1" width="90.00" height="1.5" fill="#fff"/>
<rect x="539.80" y="137.3" width="90.00" height="1.5" fill="#fff"/>
<rect x="719.80" y="1.1" width="88.70" height="1.5" fill="#fff"/>
<rect x="719.80" y="137.3" width="88.70" height="1.5" fill="#fff"/>
<rect x="89" y="1.10" width="1.8" height="25.18" fill="#fff"/>
<rect x="808.6" y="1.10" width="1.8" height="25.18" fill="#fff"/>
<rect x="89" y="54.67" width="1.8" height="35.10" fill="#fff"/>
<rect x="808.6" y="54.67" width="1.8" height="35.10" fill="#fff"/>
<text x="82.3" y="8.20" font-size="14.2" text-anchor="end" textLength="28.6" lengthAdjust="spacingAndGlyphs">30°S</text>
<text x="82.3" y="32.68" font-size="14.2" text-anchor="end" textLength="28.6" lengthAdjust="spacingAndGlyphs">40°S</text>
<text x="82.3" y="61.07" font-size="14.2" text-anchor="end" textLength="28.6" lengthAdjust="spacingAndGlyphs">50°S</text>
<text x="82.3" y="96.17" font-size="14.2" text-anchor="end" textLength="28.6" lengthAdjust="spacingAndGlyphs">60°S</text>
<text x="82.3" y="144.12" font-size="14.2" text-anchor="end" textLength="28.6" lengthAdjust="spacingAndGlyphs">70°S</text>
<text transform="translate(20.0,70.00) rotate(-90)" font-size="16" text-anchor="middle" textLength="91.2" lengthAdjust="spacingAndGlyphs">total layers</text>
<text transform="translate(35.0,70.00) rotate(-90)" font-size="16" text-anchor="middle" textLength="132.8" lengthAdjust="spacingAndGlyphs">(HO+ice+water)</text>
</g>
<rect x="890.2" y="784.30" width="8.3" height="156.20" fill="url(#cg)" stroke="#000" stroke-width="0.8"/>
<line x1="888.8" y1="940.50" x2="890.2" y2="940.50" stroke="#000" stroke-width="0.7"/>
<line x1="888.8" y1="932.69" x2="890.2" y2="932.69" stroke="#000" stroke-width="0.7"/>
<line x1="888.8" y1="924.88" x2="890.2" y2="924.88" stroke="#000" stroke-width="0.7"/>
<line x1="888.8" y1="917.07" x2="890.2" y2="917.07" stroke="#000" stroke-width="0.7"/>
<line x1="888.8" y1="909.26" x2="890.2" y2="909.26" stroke="#000" stroke-width="0.7"/>
<line x1="888.8" y1="901.45" x2="890.2" y2="901.45" stroke="#000" stroke-width="0.7"/>
<line x1="888.8" y1="893.64" x2="890.2" y2="893.64" stroke="#000" stroke-width="0.7"/>
<line x1="888.8" y1="885.83" x2="890.2" y2="885.83" stroke="#000" stroke-width="0.7"/>
<line x1="888.8" y1="878.02" x2="890.2" y2="878.02" stroke="#000" stroke-width="0.7"/>
<line x1="888.8" y1="870.21" x2="890.2" y2="870.21" stroke="#000" stroke-width="0.7"/>
<line x1="888.8" y1="862.40" x2="890.2" y2="862.40" stroke="#000" stroke-width="0.7"/>
<line x1="888.8" y1="854.59" x2="890.2" y2="854.59" stroke="#000" stroke-width="0.7"/>
<line x1="888.8" y1="846.78" x2="890.2" y2="846.78" stroke="#000" stroke-width="0.7"/>
<line x1="888.8" y1="838.97" x2="890.2" y2="838.97" stroke="#000" stroke-width="0.7"/>
<line x1="888.8" y1="831.16" x2="890.2" y2="831.16" stroke="#000" stroke-width="0.7"/>
<line x1="888.8" y1="823.35" x2="890.2" y2="823.35" stroke="#000" stroke-width="0.7"/>
<line x1="888.8" y1="815.54" x2="890.2" y2="815.54" stroke="#000" stroke-width="0.7"/>
<line x1="888.8" y1="807.73" x2="890.2" y2="807.73" stroke="#000" stroke-width="0.7"/>
<line x1="888.8" y1="799.92" x2="890.2" y2="799.92" stroke="#000" stroke-width="0.7"/>
<line x1="888.8" y1="792.11" x2="890.2" y2="792.11" stroke="#000" stroke-width="0.7"/>
<line x1="888.8" y1="784.30" x2="890.2" y2="784.30" stroke="#000" stroke-width="0.7"/>
<line x1="887.6" y1="940.50" x2="890.2" y2="940.50" stroke="#000" stroke-width="0.8"/>
<text x="882.6" y="944.40" font-size="12.6" text-anchor="end" textLength="19.0" lengthAdjust="spacingAndGlyphs">0.0</text>
<line x1="887.6" y1="909.26" x2="890.2" y2="909.26" stroke="#000" stroke-width="0.8"/>
<text x="882.6" y="913.16" font-size="12.6" text-anchor="end" textLength="19.0" lengthAdjust="spacingAndGlyphs">0.2</text>
<line x1="887.6" y1="878.02" x2="890.2" y2="878.02" stroke="#000" stroke-width="0.8"/>
<text x="882.6" y="881.92" font-size="12.6" text-anchor="end" textLength="19.0" lengthAdjust="spacingAndGlyphs">0.4</text>
<line x1="887.6" y1="846.78" x2="890.2" y2="846.78" stroke="#000" stroke-width="0.8"/>
<text x="882.6" y="850.68" font-size="12.6" text-anchor="end" textLength="19.0" lengthAdjust="spacingAndGlyphs">0.6</text>
<line x1="887.6" y1="815.54" x2="890.2" y2="815.54" stroke="#000" stroke-width="0.8"/>
<text x="882.6" y="819.44" font-size="12.6" text-anchor="end" textLength="19.0" lengthAdjust="spacingAndGlyphs">0.8</text>
<line x1="887.6" y1="784.30" x2="890.2" y2="784.30" stroke="#000" stroke-width="0.8"/>
<text x="882.6" y="788.20" font-size="12.6" text-anchor="end" textLength="19.0" lengthAdjust="spacingAndGlyphs">1.0</text>
<text transform="translate(854.6,862.40) rotate(-90)" font-size="12" text-anchor="middle" textLength="59" lengthAdjust="spacingAndGlyphs">frequency</text>
<text transform="translate(94.80,940.20) rotate(-90)" font-size="14.5" text-anchor="end" textLength="42.7" lengthAdjust="spacingAndGlyphs">180°W</text>
<text transform="translate(184.80,939.80) rotate(-90)" font-size="14.5" text-anchor="end" textLength="42.5" lengthAdjust="spacingAndGlyphs">135°W</text>
<text transform="translate(274.80,938.80) rotate(-90)" font-size="14.5" text-anchor="end" textLength="33.7" lengthAdjust="spacingAndGlyphs">90°W</text>
<text transform="translate(364.80,938.80) rotate(-90)" font-size="14.5" text-anchor="end" textLength="33.7" lengthAdjust="spacingAndGlyphs">45°W</text>
<text transform="translate(454.80,934.90) rotate(-90)" font-size="14.5" text-anchor="end" textLength="20.8" lengthAdjust="spacingAndGlyphs">0°E</text>
<text transform="translate(544.80,936.70) rotate(-90)" font-size="14.5" text-anchor="end" textLength="30.6" lengthAdjust="spacingAndGlyphs">45°E</text>
<text transform="translate(634.80,936.80) rotate(-90)" font-size="14.5" text-anchor="end" textLength="29.6" lengthAdjust="spacingAndGlyphs">90°E</text>
<text transform="translate(724.80,939.30) rotate(-90)" font-size="14.5" text-anchor="end" textLength="37.3" lengthAdjust="spacingAndGlyphs">135°E</text>
<text transform="translate(814.80,939.30) rotate(-90)" font-size="14.5" text-anchor="end" textLength="37.3" lengthAdjust="spacingAndGlyphs">180°E</text>
</svg></body></html>
